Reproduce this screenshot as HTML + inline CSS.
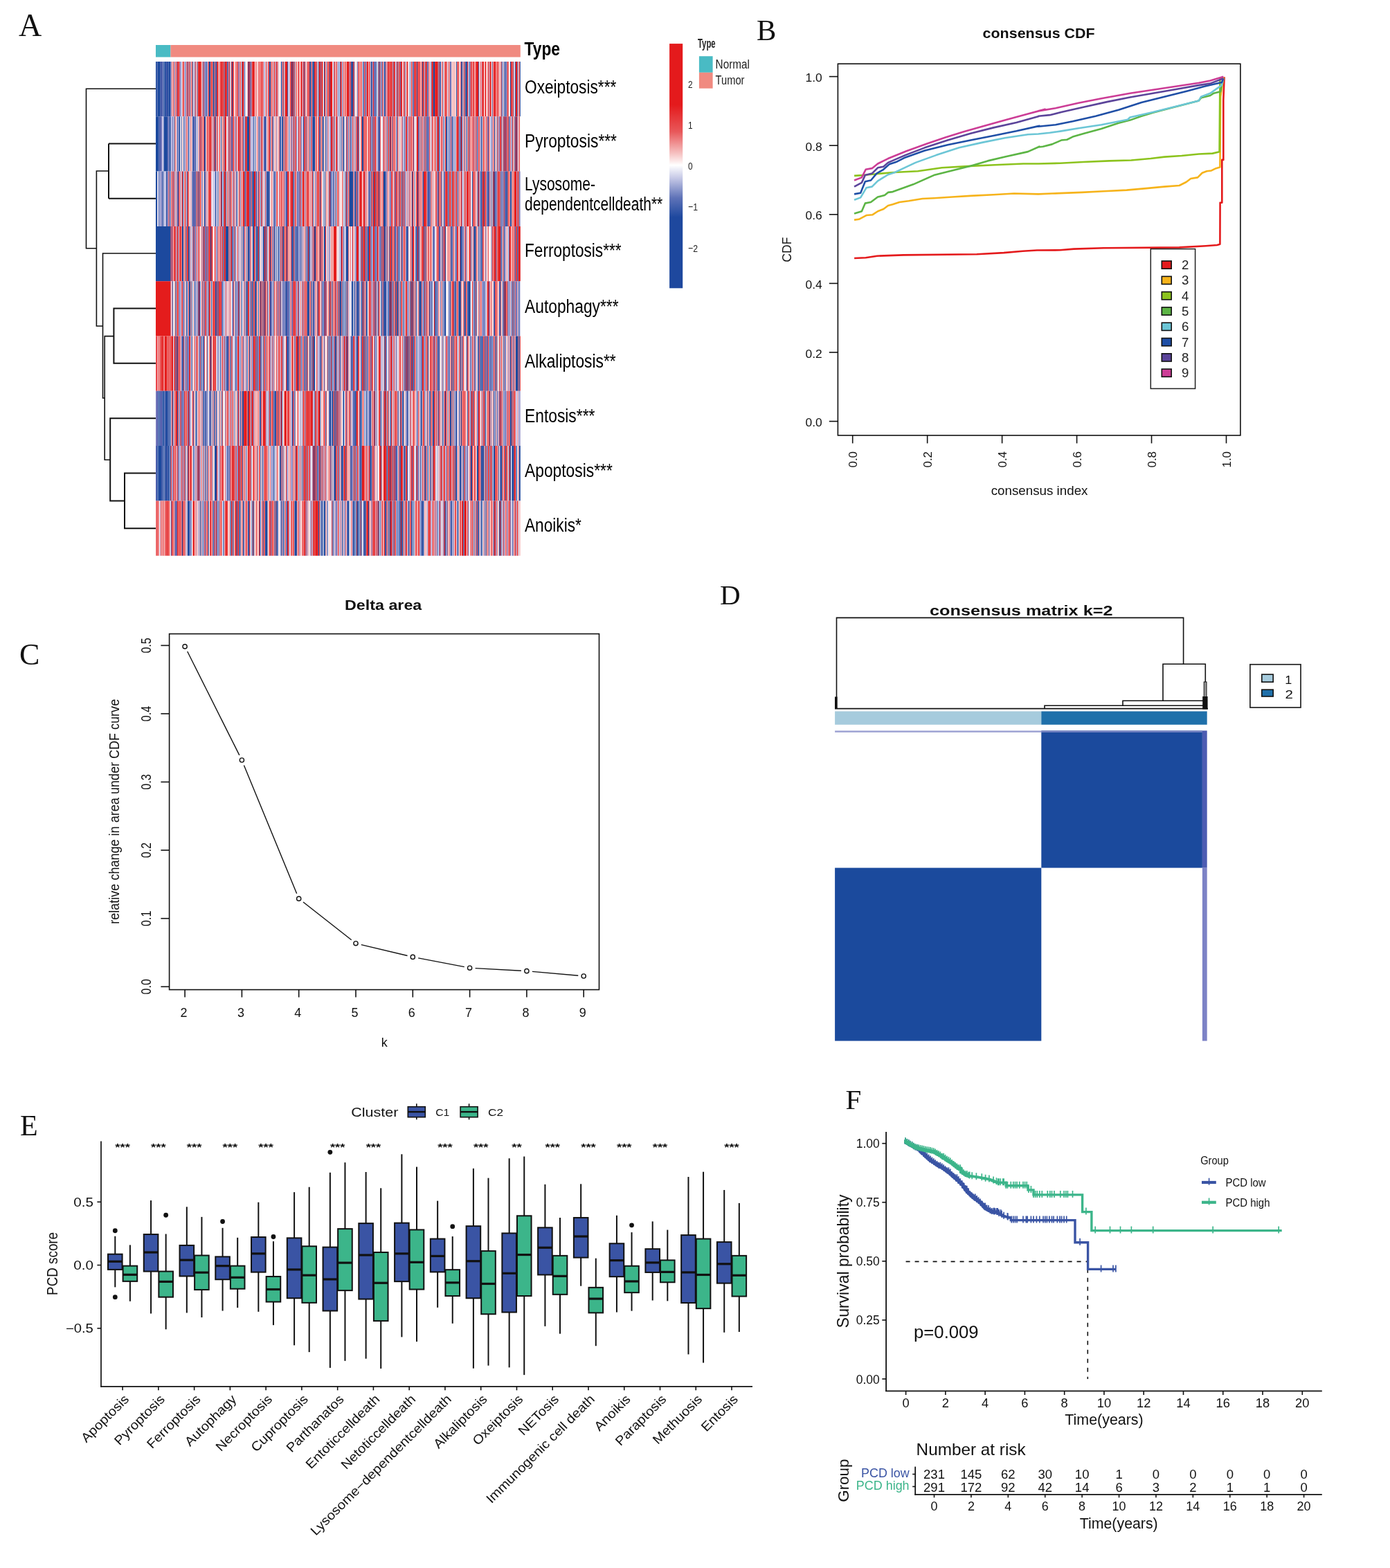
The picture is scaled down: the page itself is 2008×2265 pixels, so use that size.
<!DOCTYPE html><html><head><meta charset="utf-8"><title>Figure</title>
<style>html,body{margin:0;padding:0;background:#fff;}svg{display:block;}</style></head><body>
<svg width="2008" height="2265" viewBox="0 0 2008 2265" font-family="'Liberation Sans', Arial, sans-serif">
<rect width="2008" height="2265" fill="#fff"/>
<text x="27" y="52" font-size="46" fill="#111" font-family="'Liberation Serif', 'Times New Roman', serif">A</text>
<rect x="225" y="65" width="21.5" height="17.5" fill="#49bbc4" />
<rect x="246.5" y="65" width="505.3" height="17.5" fill="#f08a80" />
<defs><filter id="hb" x="-0.01" y="-0.01" width="1.02" height="1.02"><feGaussianBlur stdDeviation="0.75 0.3"/></filter></defs>
<g filter="url(#hb)">
<path d="M225 89h1.15v79.3h-1.15zM227.29 89h4.58v79.3h-4.58zM235.31 89h1.15v79.3h-1.15zM237.6 89h2.29v79.3h-2.29zM243.32 89h3.44v79.3h-3.44zM274.24 89h1.15v79.3h-1.15zM277.68 89h1.15v79.3h-1.15zM284.55 89h1.15v79.3h-1.15zM292.57 89h1.15v79.3h-1.15zM297.15 89h1.15v79.3h-1.15zM301.73 89h2.29v79.3h-2.29zM307.46 89h2.29v79.3h-2.29zM323.49 89h1.15v79.3h-1.15zM328.07 89h1.15v79.3h-1.15zM331.51 89h1.15v79.3h-1.15zM334.94 89h1.15v79.3h-1.15zM353.26 89h1.15v79.3h-1.15zM361.28 89h1.15v79.3h-1.15zM388.77 89h1.15v79.3h-1.15zM405.94 89h1.15v79.3h-1.15zM409.38 89h1.15v79.3h-1.15zM415.11 89h1.15v79.3h-1.15zM420.83 89h1.15v79.3h-1.15zM423.12 89h1.15v79.3h-1.15zM425.41 89h1.15v79.3h-1.15zM447.17 89h2.29v79.3h-2.29zM452.9 89h1.15v79.3h-1.15zM467.79 89h1.15v79.3h-1.15zM488.4 89h1.15v79.3h-1.15zM490.69 89h1.15v79.3h-1.15zM506.72 89h1.15v79.3h-1.15zM509.01 89h1.15v79.3h-1.15zM511.3 89h1.15v79.3h-1.15zM523.9 89h1.15v79.3h-1.15zM527.34 89h1.15v79.3h-1.15zM535.35 89h2.29v79.3h-2.29zM543.37 89h1.15v79.3h-1.15zM545.66 89h1.15v79.3h-1.15zM547.95 89h1.15v79.3h-1.15zM551.39 89h1.15v79.3h-1.15zM554.82 89h1.15v79.3h-1.15zM567.42 89h1.15v79.3h-1.15zM574.29 89h1.15v79.3h-1.15zM601.78 89h1.15v79.3h-1.15zM609.79 89h1.15v79.3h-1.15zM616.66 89h1.15v79.3h-1.15zM625.83 89h2.29v79.3h-2.29zM634.99 89h1.15v79.3h-1.15zM659.04 89h1.15v79.3h-1.15zM667.05 89h1.15v79.3h-1.15zM672.78 89h1.15v79.3h-1.15zM677.36 89h1.15v79.3h-1.15zM710.57 89h1.15v79.3h-1.15zM727.75 89h1.15v79.3h-1.15zM730.04 89h1.15v79.3h-1.15zM736.91 89h1.15v79.3h-1.15zM743.78 89h1.15v79.3h-1.15zM747.22 89h1.15v79.3h-1.15zM750.65 89h1.15v79.3h-1.15z" fill="#1e489e"/>
<path d="M226.15 89h1.15v79.3h-1.15zM233.02 89h1.15v79.3h-1.15zM236.45 89h1.15v79.3h-1.15zM241.03 89h2.29v79.3h-2.29zM312.04 89h1.15v79.3h-1.15zM358.99 89h1.15v79.3h-1.15zM389.91 89h1.15v79.3h-1.15zM439.16 89h1.15v79.3h-1.15zM451.75 89h1.15v79.3h-1.15zM459.77 89h1.15v79.3h-1.15zM475.8 89h1.15v79.3h-1.15zM507.87 89h1.15v79.3h-1.15zM591.47 89h1.15v79.3h-1.15zM671.63 89h1.15v79.3h-1.15zM673.93 89h1.15v79.3h-1.15zM691.1 89h1.15v79.3h-1.15zM724.31 89h1.15v79.3h-1.15z" fill="#2a4da1"/>
<path d="M231.87 89h1.15v79.3h-1.15zM234.16 89h1.15v79.3h-1.15zM260.5 89h1.15v79.3h-1.15zM270.81 89h1.15v79.3h-1.15zM281.12 89h1.15v79.3h-1.15zM310.89 89h1.15v79.3h-1.15zM362.43 89h1.15v79.3h-1.15zM481.53 89h1.15v79.3h-1.15zM542.23 89h1.15v79.3h-1.15zM597.2 89h1.15v79.3h-1.15zM636.13 89h1.15v79.3h-1.15zM639.57 89h1.15v79.3h-1.15zM649.88 89h1.15v79.3h-1.15zM678.51 89h1.15v79.3h-1.15z" fill="#5b62af"/>
<path d="M239.89 89h1.15v79.3h-1.15zM267.37 89h1.15v79.3h-1.15zM298.29 89h1.15v79.3h-1.15zM348.68 89h1.15v79.3h-1.15zM450.61 89h1.15v79.3h-1.15zM457.48 89h1.15v79.3h-1.15zM463.21 89h1.15v79.3h-1.15zM541.08 89h1.15v79.3h-1.15zM555.97 89h1.15v79.3h-1.15zM577.73 89h1.15v79.3h-1.15zM584.6 89h1.15v79.3h-1.15zM596.05 89h1.15v79.3h-1.15zM622.39 89h1.15v79.3h-1.15zM632.7 89h1.15v79.3h-1.15zM665.91 89h1.15v79.3h-1.15zM669.34 89h1.15v79.3h-1.15zM741.49 89h1.15v79.3h-1.15z" fill="#4257a8"/>
<path d="M246.76 89h1.15v79.3h-1.15zM266.23 89h1.15v79.3h-1.15zM268.52 89h1.15v79.3h-1.15zM296 89h1.15v79.3h-1.15zM299.44 89h1.15v79.3h-1.15zM345.25 89h1.15v79.3h-1.15zM352.12 89h1.15v79.3h-1.15zM380.75 89h1.15v79.3h-1.15zM394.49 89h1.15v79.3h-1.15zM397.93 89h1.15v79.3h-1.15zM401.36 89h1.15v79.3h-1.15zM407.09 89h1.15v79.3h-1.15zM525.05 89h1.15v79.3h-1.15zM558.26 89h1.15v79.3h-1.15zM572 89h1.15v79.3h-1.15zM728.9 89h1.15v79.3h-1.15z" fill="#a4a3d4"/>
<path d="M247.9 89h1.15v79.3h-1.15zM252.49 89h1.15v79.3h-1.15zM265.08 89h1.15v79.3h-1.15zM271.95 89h1.15v79.3h-1.15zM304.02 89h1.15v79.3h-1.15zM316.62 89h1.15v79.3h-1.15zM339.52 89h1.15v79.3h-1.15zM372.73 89h1.15v79.3h-1.15zM379.6 89h1.15v79.3h-1.15zM391.06 89h1.15v79.3h-1.15zM393.35 89h1.15v79.3h-1.15zM396.78 89h1.15v79.3h-1.15zM429.99 89h1.15v79.3h-1.15zM444.88 89h1.15v79.3h-1.15zM492.98 89h1.15v79.3h-1.15zM517.03 89h1.15v79.3h-1.15zM549.1 89h1.15v79.3h-1.15zM557.11 89h1.15v79.3h-1.15zM562.84 89h1.15v79.3h-1.15zM586.89 89h1.15v79.3h-1.15zM612.08 89h1.15v79.3h-1.15zM618.95 89h1.15v79.3h-1.15zM633.84 89h1.15v79.3h-1.15zM645.29 89h1.15v79.3h-1.15zM711.72 89h1.15v79.3h-1.15zM719.73 89h1.15v79.3h-1.15z" fill="#ed7a7c"/>
<path d="M249.05 89h1.15v79.3h-1.15zM262.79 89h1.15v79.3h-1.15zM279.97 89h1.15v79.3h-1.15zM283.41 89h1.15v79.3h-1.15zM347.54 89h1.15v79.3h-1.15zM375.02 89h1.15v79.3h-1.15zM383.04 89h1.15v79.3h-1.15zM402.51 89h1.15v79.3h-1.15zM404.8 89h1.15v79.3h-1.15zM410.53 89h1.15v79.3h-1.15zM433.43 89h1.15v79.3h-1.15zM458.62 89h1.15v79.3h-1.15zM470.08 89h1.15v79.3h-1.15zM495.27 89h1.15v79.3h-1.15zM499.85 89h1.15v79.3h-1.15zM512.45 89h1.15v79.3h-1.15zM514.74 89h1.15v79.3h-1.15zM531.92 89h1.15v79.3h-1.15zM585.74 89h1.15v79.3h-1.15zM589.18 89h1.15v79.3h-1.15zM607.5 89h1.15v79.3h-1.15zM637.28 89h1.15v79.3h-1.15zM652.17 89h2.29v79.3h-2.29zM655.6 89h1.15v79.3h-1.15zM685.38 89h1.15v79.3h-1.15zM709.43 89h1.15v79.3h-1.15zM716.3 89h1.15v79.3h-1.15zM726.61 89h1.15v79.3h-1.15zM734.62 89h1.15v79.3h-1.15zM748.36 89h1.15v79.3h-1.15z" fill="#f7caca"/>
<path d="M250.19 89h1.15v79.3h-1.15zM257.07 89h1.15v79.3h-1.15zM282.26 89h1.15v79.3h-1.15zM293.71 89h1.15v79.3h-1.15zM306.31 89h1.15v79.3h-1.15zM320.05 89h3.44v79.3h-3.44zM326.92 89h1.15v79.3h-1.15zM337.23 89h1.15v79.3h-1.15zM370.44 89h1.15v79.3h-1.15zM373.88 89h1.15v79.3h-1.15zM377.31 89h1.15v79.3h-1.15zM418.54 89h1.15v79.3h-1.15zM449.46 89h1.15v79.3h-1.15zM520.47 89h1.15v79.3h-1.15zM582.31 89h1.15v79.3h-1.15zM602.92 89h1.15v79.3h-1.15zM608.65 89h1.15v79.3h-1.15zM638.42 89h1.15v79.3h-1.15zM679.65 89h2.29v79.3h-2.29zM686.52 89h1.15v79.3h-1.15zM696.83 89h1.15v79.3h-1.15zM718.59 89h1.15v79.3h-1.15zM732.33 89h2.29v79.3h-2.29zM739.2 89h1.15v79.3h-1.15z" fill="#e74042"/>
<path d="M251.34 89h1.15v79.3h-1.15zM254.78 89h1.15v79.3h-1.15zM259.36 89h1.15v79.3h-1.15zM294.86 89h1.15v79.3h-1.15zM329.21 89h1.15v79.3h-1.15zM344.1 89h1.15v79.3h-1.15zM471.22 89h1.15v79.3h-1.15zM494.13 89h1.15v79.3h-1.15zM504.43 89h1.15v79.3h-1.15zM515.89 89h1.15v79.3h-1.15zM528.48 89h1.15v79.3h-1.15zM537.64 89h1.15v79.3h-1.15zM539.93 89h1.15v79.3h-1.15zM550.24 89h1.15v79.3h-1.15zM613.23 89h1.15v79.3h-1.15zM617.81 89h1.15v79.3h-1.15zM651.02 89h1.15v79.3h-1.15zM725.46 89h1.15v79.3h-1.15zM731.19 89h1.15v79.3h-1.15z" fill="#7c7dbf"/>
<path d="M253.63 89h1.15v79.3h-1.15zM273.1 89h1.15v79.3h-1.15zM290.28 89h1.15v79.3h-1.15zM309.75 89h1.15v79.3h-1.15zM317.76 89h1.15v79.3h-1.15zM367.01 89h1.15v79.3h-1.15zM386.48 89h1.15v79.3h-1.15zM392.2 89h1.15v79.3h-1.15zM400.22 89h1.15v79.3h-1.15zM472.37 89h2.29v79.3h-2.29zM546.81 89h1.15v79.3h-1.15zM566.27 89h1.15v79.3h-1.15zM575.44 89h1.15v79.3h-1.15zM604.07 89h1.15v79.3h-1.15zM606.36 89h1.15v79.3h-1.15zM641.86 89h2.29v79.3h-2.29zM660.18 89h1.15v79.3h-1.15zM662.47 89h1.15v79.3h-1.15zM664.76 89h1.15v79.3h-1.15zM712.86 89h1.15v79.3h-1.15z" fill="#e95759"/>
<path d="M255.92 89h1.15v79.3h-1.15zM258.21 89h1.15v79.3h-1.15zM269.66 89h1.15v79.3h-1.15zM276.53 89h1.15v79.3h-1.15zM285.7 89h1.15v79.3h-1.15zM287.99 89h2.29v79.3h-2.29zM300.58 89h1.15v79.3h-1.15zM305.17 89h1.15v79.3h-1.15zM313.18 89h2.29v79.3h-2.29zM318.91 89h1.15v79.3h-1.15zM324.63 89h2.29v79.3h-2.29zM330.36 89h1.15v79.3h-1.15zM333.8 89h1.15v79.3h-1.15zM336.09 89h1.15v79.3h-1.15zM342.96 89h1.15v79.3h-1.15zM346.39 89h1.15v79.3h-1.15zM349.83 89h2.29v79.3h-2.29zM357.85 89h1.15v79.3h-1.15zM360.14 89h1.15v79.3h-1.15zM364.72 89h2.29v79.3h-2.29zM378.46 89h1.15v79.3h-1.15zM384.19 89h1.15v79.3h-1.15zM387.62 89h1.15v79.3h-1.15zM399.07 89h1.15v79.3h-1.15zM408.23 89h1.15v79.3h-1.15zM411.67 89h3.44v79.3h-3.44zM419.69 89h1.15v79.3h-1.15zM421.98 89h1.15v79.3h-1.15zM427.7 89h1.15v79.3h-1.15zM431.14 89h1.15v79.3h-1.15zM434.57 89h2.29v79.3h-2.29zM438.01 89h1.15v79.3h-1.15zM440.3 89h1.15v79.3h-1.15zM454.04 89h1.15v79.3h-1.15zM456.33 89h1.15v79.3h-1.15zM462.06 89h1.15v79.3h-1.15zM464.35 89h2.29v79.3h-2.29zM468.93 89h1.15v79.3h-1.15zM474.66 89h1.15v79.3h-1.15zM476.95 89h3.44v79.3h-3.44zM482.67 89h1.15v79.3h-1.15zM486.11 89h1.15v79.3h-1.15zM491.84 89h1.15v79.3h-1.15zM496.42 89h1.15v79.3h-1.15zM498.71 89h1.15v79.3h-1.15zM501 89h3.44v79.3h-3.44zM505.58 89h1.15v79.3h-1.15zM510.16 89h1.15v79.3h-1.15zM518.18 89h1.15v79.3h-1.15zM521.61 89h1.15v79.3h-1.15zM526.19 89h1.15v79.3h-1.15zM529.63 89h2.29v79.3h-2.29zM533.06 89h1.15v79.3h-1.15zM538.79 89h1.15v79.3h-1.15zM559.4 89h1.15v79.3h-1.15zM563.98 89h1.15v79.3h-1.15zM568.57 89h2.29v79.3h-2.29zM573.15 89h1.15v79.3h-1.15zM576.58 89h1.15v79.3h-1.15zM580.02 89h1.15v79.3h-1.15zM583.45 89h1.15v79.3h-1.15zM588.03 89h1.15v79.3h-1.15zM593.76 89h1.15v79.3h-1.15zM598.34 89h2.29v79.3h-2.29zM605.21 89h1.15v79.3h-1.15zM610.94 89h1.15v79.3h-1.15zM614.37 89h2.29v79.3h-2.29zM623.54 89h2.29v79.3h-2.29zM628.12 89h4.58v79.3h-4.58zM647.59 89h1.15v79.3h-1.15zM661.33 89h1.15v79.3h-1.15zM675.07 89h1.15v79.3h-1.15zM683.09 89h1.15v79.3h-1.15zM687.67 89h3.44v79.3h-3.44zM695.68 89h1.15v79.3h-1.15zM697.97 89h1.15v79.3h-1.15zM700.27 89h2.29v79.3h-2.29zM704.85 89h1.15v79.3h-1.15zM707.14 89h2.29v79.3h-2.29zM714.01 89h2.29v79.3h-2.29zM717.44 89h1.15v79.3h-1.15zM738.06 89h1.15v79.3h-1.15zM740.35 89h1.15v79.3h-1.15zM744.93 89h2.29v79.3h-2.29z" fill="#e41a1c"/>
<path d="M261.65 89h1.15v79.3h-1.15zM278.83 89h1.15v79.3h-1.15zM356.7 89h1.15v79.3h-1.15zM381.89 89h1.15v79.3h-1.15zM385.33 89h1.15v79.3h-1.15zM416.25 89h2.29v79.3h-2.29zM436.87 89h1.15v79.3h-1.15zM441.45 89h1.15v79.3h-1.15zM487.25 89h1.15v79.3h-1.15zM489.55 89h1.15v79.3h-1.15zM553.68 89h1.15v79.3h-1.15zM570.86 89h1.15v79.3h-1.15zM592.61 89h1.15v79.3h-1.15zM621.25 89h1.15v79.3h-1.15zM646.44 89h1.15v79.3h-1.15zM676.22 89h1.15v79.3h-1.15zM694.54 89h1.15v79.3h-1.15zM705.99 89h1.15v79.3h-1.15z" fill="#cbc9e8"/>
<path d="M263.94 89h1.15v79.3h-1.15zM286.84 89h1.15v79.3h-1.15zM340.67 89h1.15v79.3h-1.15zM363.57 89h1.15v79.3h-1.15zM376.17 89h1.15v79.3h-1.15zM395.64 89h1.15v79.3h-1.15zM424.27 89h1.15v79.3h-1.15zM443.74 89h1.15v79.3h-1.15zM446.03 89h1.15v79.3h-1.15zM455.19 89h1.15v79.3h-1.15zM460.91 89h1.15v79.3h-1.15zM552.53 89h1.15v79.3h-1.15zM560.55 89h2.29v79.3h-2.29zM565.13 89h1.15v79.3h-1.15zM578.87 89h1.15v79.3h-1.15zM600.63 89h1.15v79.3h-1.15zM644.15 89h1.15v79.3h-1.15zM670.49 89h1.15v79.3h-1.15zM684.23 89h1.15v79.3h-1.15zM693.39 89h1.15v79.3h-1.15zM723.17 89h1.15v79.3h-1.15zM749.51 89h1.15v79.3h-1.15z" fill="#e52a2c"/>
<path d="M275.39 89h1.15v79.3h-1.15zM291.42 89h1.15v79.3h-1.15zM315.47 89h1.15v79.3h-1.15zM341.81 89h1.15v79.3h-1.15zM368.15 89h2.29v79.3h-2.29zM426.56 89h1.15v79.3h-1.15zM432.28 89h1.15v79.3h-1.15zM442.59 89h1.15v79.3h-1.15zM483.82 89h2.29v79.3h-2.29zM497.56 89h1.15v79.3h-1.15zM519.32 89h1.15v79.3h-1.15zM534.21 89h1.15v79.3h-1.15zM594.91 89h1.15v79.3h-1.15zM620.1 89h1.15v79.3h-1.15zM648.73 89h1.15v79.3h-1.15zM654.46 89h1.15v79.3h-1.15zM656.75 89h1.15v79.3h-1.15zM668.2 89h1.15v79.3h-1.15zM681.94 89h1.15v79.3h-1.15zM703.7 89h1.15v79.3h-1.15zM720.88 89h1.15v79.3h-1.15z" fill="#f2a3a4"/>
<path d="M332.65 89h1.15v79.3h-1.15zM338.38 89h1.15v79.3h-1.15zM354.41 89h2.29v79.3h-2.29zM371.59 89h1.15v79.3h-1.15zM403.65 89h1.15v79.3h-1.15zM428.85 89h1.15v79.3h-1.15zM466.64 89h1.15v79.3h-1.15zM480.38 89h1.15v79.3h-1.15zM513.59 89h1.15v79.3h-1.15zM522.76 89h1.15v79.3h-1.15zM544.52 89h1.15v79.3h-1.15zM581.16 89h1.15v79.3h-1.15zM590.32 89h1.15v79.3h-1.15zM640.71 89h1.15v79.3h-1.15zM657.89 89h1.15v79.3h-1.15zM663.62 89h1.15v79.3h-1.15zM692.25 89h1.15v79.3h-1.15zM699.12 89h1.15v79.3h-1.15zM702.56 89h1.15v79.3h-1.15zM722.02 89h1.15v79.3h-1.15zM735.77 89h1.15v79.3h-1.15zM742.64 89h1.15v79.3h-1.15z" fill="#fcf2f2"/>
<path d="M225 168.3h4.58v79.3h-4.58zM236.45 168.3h4.58v79.3h-4.58zM244.47 168.3h2.29v79.3h-2.29zM258.21 168.3h2.29v79.3h-2.29zM261.65 168.3h1.15v79.3h-1.15zM265.08 168.3h1.15v79.3h-1.15zM278.83 168.3h1.15v79.3h-1.15zM282.26 168.3h1.15v79.3h-1.15zM294.86 168.3h1.15v79.3h-1.15zM308.6 168.3h1.15v79.3h-1.15zM310.89 168.3h1.15v79.3h-1.15zM353.26 168.3h1.15v79.3h-1.15zM356.7 168.3h3.44v79.3h-3.44zM365.86 168.3h1.15v79.3h-1.15zM368.15 168.3h1.15v79.3h-1.15zM373.88 168.3h1.15v79.3h-1.15zM383.04 168.3h1.15v79.3h-1.15zM393.35 168.3h1.15v79.3h-1.15zM403.65 168.3h1.15v79.3h-1.15zM407.09 168.3h2.29v79.3h-2.29zM417.4 168.3h1.15v79.3h-1.15zM438.01 168.3h1.15v79.3h-1.15zM441.45 168.3h1.15v79.3h-1.15zM447.17 168.3h1.15v79.3h-1.15zM451.75 168.3h3.44v79.3h-3.44zM465.5 168.3h2.29v79.3h-2.29zM470.08 168.3h1.15v79.3h-1.15zM490.69 168.3h1.15v79.3h-1.15zM495.27 168.3h2.29v79.3h-2.29zM505.58 168.3h1.15v79.3h-1.15zM522.76 168.3h2.29v79.3h-2.29zM535.35 168.3h1.15v79.3h-1.15zM537.64 168.3h1.15v79.3h-1.15zM559.4 168.3h1.15v79.3h-1.15zM562.84 168.3h1.15v79.3h-1.15zM566.27 168.3h1.15v79.3h-1.15zM573.15 168.3h1.15v79.3h-1.15zM583.45 168.3h1.15v79.3h-1.15zM607.5 168.3h1.15v79.3h-1.15zM613.23 168.3h1.15v79.3h-1.15zM615.52 168.3h1.15v79.3h-1.15zM630.41 168.3h1.15v79.3h-1.15zM633.84 168.3h1.15v79.3h-1.15zM640.71 168.3h1.15v79.3h-1.15zM644.15 168.3h2.29v79.3h-2.29zM647.59 168.3h1.15v79.3h-1.15zM664.76 168.3h1.15v79.3h-1.15zM670.49 168.3h1.15v79.3h-1.15zM673.93 168.3h1.15v79.3h-1.15zM677.36 168.3h1.15v79.3h-1.15zM694.54 168.3h1.15v79.3h-1.15zM714.01 168.3h1.15v79.3h-1.15zM717.44 168.3h1.15v79.3h-1.15zM734.62 168.3h1.15v79.3h-1.15zM742.64 168.3h1.15v79.3h-1.15zM744.93 168.3h1.15v79.3h-1.15z" fill="#1e489e"/>
<path d="M229.58 168.3h2.29v79.3h-2.29zM242.18 168.3h1.15v79.3h-1.15zM255.92 168.3h1.15v79.3h-1.15zM277.68 168.3h1.15v79.3h-1.15zM281.12 168.3h1.15v79.3h-1.15zM331.51 168.3h1.15v79.3h-1.15zM334.94 168.3h1.15v79.3h-1.15zM339.52 168.3h1.15v79.3h-1.15zM350.97 168.3h1.15v79.3h-1.15zM381.89 168.3h1.15v79.3h-1.15zM389.91 168.3h1.15v79.3h-1.15zM410.53 168.3h1.15v79.3h-1.15zM434.57 168.3h1.15v79.3h-1.15zM462.06 168.3h1.15v79.3h-1.15zM492.98 168.3h1.15v79.3h-1.15zM503.29 168.3h1.15v79.3h-1.15zM506.72 168.3h1.15v79.3h-1.15zM512.45 168.3h1.15v79.3h-1.15zM515.89 168.3h1.15v79.3h-1.15zM518.18 168.3h1.15v79.3h-1.15zM547.95 168.3h1.15v79.3h-1.15zM597.2 168.3h1.15v79.3h-1.15zM604.07 168.3h1.15v79.3h-1.15zM616.66 168.3h1.15v79.3h-1.15zM652.17 168.3h1.15v79.3h-1.15zM656.75 168.3h1.15v79.3h-1.15zM667.05 168.3h1.15v79.3h-1.15zM724.31 168.3h1.15v79.3h-1.15zM731.19 168.3h1.15v79.3h-1.15zM739.2 168.3h1.15v79.3h-1.15z" fill="#4257a8"/>
<path d="M231.87 168.3h1.15v79.3h-1.15zM243.32 168.3h1.15v79.3h-1.15zM284.55 168.3h1.15v79.3h-1.15zM333.8 168.3h1.15v79.3h-1.15zM346.39 168.3h1.15v79.3h-1.15zM361.28 168.3h1.15v79.3h-1.15zM376.17 168.3h1.15v79.3h-1.15zM380.75 168.3h1.15v79.3h-1.15zM394.49 168.3h1.15v79.3h-1.15zM420.83 168.3h1.15v79.3h-1.15zM427.7 168.3h1.15v79.3h-1.15zM450.61 168.3h1.15v79.3h-1.15zM460.91 168.3h1.15v79.3h-1.15zM472.37 168.3h1.15v79.3h-1.15zM499.85 168.3h1.15v79.3h-1.15zM545.66 168.3h1.15v79.3h-1.15zM605.21 168.3h1.15v79.3h-1.15zM617.81 168.3h1.15v79.3h-1.15zM704.85 168.3h1.15v79.3h-1.15zM709.43 168.3h1.15v79.3h-1.15zM728.9 168.3h1.15v79.3h-1.15zM747.22 168.3h1.15v79.3h-1.15z" fill="#5b62af"/>
<path d="M233.02 168.3h1.15v79.3h-1.15zM249.05 168.3h1.15v79.3h-1.15zM267.37 168.3h1.15v79.3h-1.15zM279.97 168.3h1.15v79.3h-1.15zM287.99 168.3h1.15v79.3h-1.15zM290.28 168.3h1.15v79.3h-1.15zM329.21 168.3h1.15v79.3h-1.15zM363.57 168.3h1.15v79.3h-1.15zM384.19 168.3h1.15v79.3h-1.15zM476.95 168.3h1.15v79.3h-1.15zM480.38 168.3h1.15v79.3h-1.15zM487.25 168.3h1.15v79.3h-1.15zM536.5 168.3h1.15v79.3h-1.15zM539.93 168.3h1.15v79.3h-1.15zM581.16 168.3h1.15v79.3h-1.15zM584.6 168.3h1.15v79.3h-1.15zM588.03 168.3h1.15v79.3h-1.15zM591.47 168.3h1.15v79.3h-1.15zM618.95 168.3h1.15v79.3h-1.15zM622.39 168.3h1.15v79.3h-1.15zM649.88 168.3h1.15v79.3h-1.15zM654.46 168.3h1.15v79.3h-1.15zM663.62 168.3h1.15v79.3h-1.15zM686.52 168.3h1.15v79.3h-1.15zM703.7 168.3h1.15v79.3h-1.15zM720.88 168.3h1.15v79.3h-1.15zM735.77 168.3h1.15v79.3h-1.15z" fill="#7c7dbf"/>
<path d="M234.16 168.3h1.15v79.3h-1.15zM246.76 168.3h1.15v79.3h-1.15zM250.19 168.3h1.15v79.3h-1.15zM254.78 168.3h1.15v79.3h-1.15zM270.81 168.3h1.15v79.3h-1.15zM273.1 168.3h2.29v79.3h-2.29zM283.41 168.3h1.15v79.3h-1.15zM338.38 168.3h1.15v79.3h-1.15zM341.81 168.3h1.15v79.3h-1.15zM352.12 168.3h1.15v79.3h-1.15zM362.43 168.3h1.15v79.3h-1.15zM364.72 168.3h1.15v79.3h-1.15zM369.3 168.3h1.15v79.3h-1.15zM379.6 168.3h1.15v79.3h-1.15zM405.94 168.3h1.15v79.3h-1.15zM416.25 168.3h1.15v79.3h-1.15zM418.54 168.3h1.15v79.3h-1.15zM421.98 168.3h1.15v79.3h-1.15zM435.72 168.3h2.29v79.3h-2.29zM443.74 168.3h1.15v79.3h-1.15zM474.66 168.3h2.29v79.3h-2.29zM488.4 168.3h1.15v79.3h-1.15zM507.87 168.3h1.15v79.3h-1.15zM543.37 168.3h1.15v79.3h-1.15zM555.97 168.3h1.15v79.3h-1.15zM582.31 168.3h1.15v79.3h-1.15zM589.18 168.3h1.15v79.3h-1.15zM599.49 168.3h1.15v79.3h-1.15zM634.99 168.3h1.15v79.3h-1.15zM646.44 168.3h1.15v79.3h-1.15zM655.6 168.3h1.15v79.3h-1.15zM668.2 168.3h1.15v79.3h-1.15zM672.78 168.3h1.15v79.3h-1.15zM689.96 168.3h1.15v79.3h-1.15zM701.41 168.3h1.15v79.3h-1.15zM738.06 168.3h1.15v79.3h-1.15z" fill="#cbc9e8"/>
<path d="M235.31 168.3h1.15v79.3h-1.15zM247.9 168.3h1.15v79.3h-1.15zM257.07 168.3h1.15v79.3h-1.15zM266.23 168.3h1.15v79.3h-1.15zM306.31 168.3h1.15v79.3h-1.15zM314.33 168.3h1.15v79.3h-1.15zM372.73 168.3h1.15v79.3h-1.15zM399.07 168.3h1.15v79.3h-1.15zM429.99 168.3h1.15v79.3h-1.15zM448.32 168.3h1.15v79.3h-1.15zM471.22 168.3h1.15v79.3h-1.15zM502.14 168.3h1.15v79.3h-1.15zM510.16 168.3h1.15v79.3h-1.15zM544.52 168.3h1.15v79.3h-1.15zM552.53 168.3h1.15v79.3h-1.15zM558.26 168.3h1.15v79.3h-1.15zM572 168.3h1.15v79.3h-1.15zM576.58 168.3h1.15v79.3h-1.15zM610.94 168.3h1.15v79.3h-1.15zM639.57 168.3h1.15v79.3h-1.15zM648.73 168.3h1.15v79.3h-1.15zM684.23 168.3h1.15v79.3h-1.15zM693.39 168.3h1.15v79.3h-1.15zM708.28 168.3h1.15v79.3h-1.15zM710.57 168.3h1.15v79.3h-1.15zM719.73 168.3h1.15v79.3h-1.15z" fill="#a4a3d4"/>
<path d="M241.03 168.3h1.15v79.3h-1.15zM251.34 168.3h1.15v79.3h-1.15zM271.95 168.3h1.15v79.3h-1.15zM296 168.3h1.15v79.3h-1.15zM318.91 168.3h1.15v79.3h-1.15zM323.49 168.3h1.15v79.3h-1.15zM404.8 168.3h1.15v79.3h-1.15zM424.27 168.3h1.15v79.3h-1.15zM482.67 168.3h1.15v79.3h-1.15zM546.81 168.3h1.15v79.3h-1.15zM653.31 168.3h1.15v79.3h-1.15zM662.47 168.3h1.15v79.3h-1.15zM688.81 168.3h1.15v79.3h-1.15zM695.68 168.3h1.15v79.3h-1.15zM726.61 168.3h1.15v79.3h-1.15z" fill="#2a4da1"/>
<path d="M252.49 168.3h1.15v79.3h-1.15zM269.66 168.3h1.15v79.3h-1.15zM275.39 168.3h1.15v79.3h-1.15zM298.29 168.3h1.15v79.3h-1.15zM322.34 168.3h1.15v79.3h-1.15zM332.65 168.3h1.15v79.3h-1.15zM336.09 168.3h1.15v79.3h-1.15zM409.38 168.3h1.15v79.3h-1.15zM411.67 168.3h1.15v79.3h-1.15zM425.41 168.3h1.15v79.3h-1.15zM525.05 168.3h1.15v79.3h-1.15zM527.34 168.3h1.15v79.3h-1.15zM549.1 168.3h1.15v79.3h-1.15zM557.11 168.3h1.15v79.3h-1.15zM580.02 168.3h1.15v79.3h-1.15zM585.74 168.3h1.15v79.3h-1.15zM592.61 168.3h1.15v79.3h-1.15zM638.42 168.3h1.15v79.3h-1.15zM687.67 168.3h1.15v79.3h-1.15zM711.72 168.3h1.15v79.3h-1.15z" fill="#e95759"/>
<path d="M253.63 168.3h1.15v79.3h-1.15zM300.58 168.3h1.15v79.3h-1.15zM342.96 168.3h1.15v79.3h-1.15zM370.44 168.3h1.15v79.3h-1.15zM397.93 168.3h1.15v79.3h-1.15zM400.22 168.3h1.15v79.3h-1.15zM413.96 168.3h1.15v79.3h-1.15zM432.28 168.3h1.15v79.3h-1.15zM446.03 168.3h1.15v79.3h-1.15zM455.19 168.3h1.15v79.3h-1.15zM457.48 168.3h1.15v79.3h-1.15zM494.13 168.3h1.15v79.3h-1.15zM511.3 168.3h1.15v79.3h-1.15zM513.59 168.3h1.15v79.3h-1.15zM533.06 168.3h1.15v79.3h-1.15zM565.13 168.3h1.15v79.3h-1.15zM568.57 168.3h1.15v79.3h-1.15zM577.73 168.3h1.15v79.3h-1.15zM626.97 168.3h1.15v79.3h-1.15zM636.13 168.3h1.15v79.3h-1.15zM681.94 168.3h1.15v79.3h-1.15zM699.12 168.3h1.15v79.3h-1.15zM712.86 168.3h1.15v79.3h-1.15zM715.15 168.3h1.15v79.3h-1.15zM725.46 168.3h1.15v79.3h-1.15z" fill="#f2a3a4"/>
<path d="M260.5 168.3h1.15v79.3h-1.15zM263.94 168.3h1.15v79.3h-1.15zM285.7 168.3h1.15v79.3h-1.15zM292.57 168.3h1.15v79.3h-1.15zM315.47 168.3h1.15v79.3h-1.15zM317.76 168.3h1.15v79.3h-1.15zM326.92 168.3h1.15v79.3h-1.15zM348.68 168.3h1.15v79.3h-1.15zM367.01 168.3h1.15v79.3h-1.15zM391.06 168.3h1.15v79.3h-1.15zM401.36 168.3h1.15v79.3h-1.15zM428.85 168.3h1.15v79.3h-1.15zM483.82 168.3h1.15v79.3h-1.15zM491.84 168.3h1.15v79.3h-1.15zM497.56 168.3h1.15v79.3h-1.15zM519.32 168.3h1.15v79.3h-1.15zM550.24 168.3h2.29v79.3h-2.29zM575.44 168.3h1.15v79.3h-1.15zM578.87 168.3h1.15v79.3h-1.15zM594.91 168.3h1.15v79.3h-1.15zM600.63 168.3h1.15v79.3h-1.15zM621.25 168.3h1.15v79.3h-1.15zM625.83 168.3h1.15v79.3h-1.15zM641.86 168.3h1.15v79.3h-1.15zM657.89 168.3h1.15v79.3h-1.15zM707.14 168.3h1.15v79.3h-1.15zM741.49 168.3h1.15v79.3h-1.15zM748.36 168.3h1.15v79.3h-1.15zM750.65 168.3h1.15v79.3h-1.15z" fill="#fcf2f2"/>
<path d="M262.79 168.3h1.15v79.3h-1.15zM276.53 168.3h1.15v79.3h-1.15zM297.15 168.3h1.15v79.3h-1.15zM312.04 168.3h1.15v79.3h-1.15zM320.05 168.3h1.15v79.3h-1.15zM328.07 168.3h1.15v79.3h-1.15zM375.02 168.3h1.15v79.3h-1.15zM385.33 168.3h1.15v79.3h-1.15zM395.64 168.3h2.29v79.3h-2.29zM458.62 168.3h1.15v79.3h-1.15zM467.79 168.3h2.29v79.3h-2.29zM489.55 168.3h1.15v79.3h-1.15zM498.71 168.3h1.15v79.3h-1.15zM520.47 168.3h1.15v79.3h-1.15zM529.63 168.3h2.29v79.3h-2.29zM570.86 168.3h1.15v79.3h-1.15zM598.34 168.3h1.15v79.3h-1.15zM629.26 168.3h1.15v79.3h-1.15zM675.07 168.3h1.15v79.3h-1.15zM679.65 168.3h1.15v79.3h-1.15zM696.83 168.3h1.15v79.3h-1.15zM716.3 168.3h1.15v79.3h-1.15z" fill="#f7caca"/>
<path d="M268.52 168.3h1.15v79.3h-1.15zM286.84 168.3h1.15v79.3h-1.15zM305.17 168.3h1.15v79.3h-1.15zM307.46 168.3h1.15v79.3h-1.15zM321.2 168.3h1.15v79.3h-1.15zM371.59 168.3h1.15v79.3h-1.15zM386.48 168.3h2.29v79.3h-2.29zM415.11 168.3h1.15v79.3h-1.15zM419.69 168.3h1.15v79.3h-1.15zM444.88 168.3h1.15v79.3h-1.15zM463.21 168.3h2.29v79.3h-2.29zM473.51 168.3h1.15v79.3h-1.15zM504.43 168.3h1.15v79.3h-1.15zM554.82 168.3h1.15v79.3h-1.15zM561.69 168.3h1.15v79.3h-1.15zM606.36 168.3h1.15v79.3h-1.15zM608.65 168.3h2.29v79.3h-2.29zM612.08 168.3h1.15v79.3h-1.15zM623.54 168.3h1.15v79.3h-1.15zM651.02 168.3h1.15v79.3h-1.15zM669.34 168.3h1.15v79.3h-1.15zM671.63 168.3h1.15v79.3h-1.15zM680.8 168.3h1.15v79.3h-1.15zM692.25 168.3h1.15v79.3h-1.15zM700.27 168.3h1.15v79.3h-1.15zM736.91 168.3h1.15v79.3h-1.15z" fill="#ed7a7c"/>
<path d="M289.13 168.3h1.15v79.3h-1.15zM291.42 168.3h1.15v79.3h-1.15zM293.71 168.3h1.15v79.3h-1.15zM299.44 168.3h1.15v79.3h-1.15zM301.73 168.3h1.15v79.3h-1.15zM309.75 168.3h1.15v79.3h-1.15zM313.18 168.3h1.15v79.3h-1.15zM316.62 168.3h1.15v79.3h-1.15zM324.63 168.3h2.29v79.3h-2.29zM330.36 168.3h1.15v79.3h-1.15zM337.23 168.3h1.15v79.3h-1.15zM344.1 168.3h2.29v79.3h-2.29zM347.54 168.3h1.15v79.3h-1.15zM354.41 168.3h2.29v79.3h-2.29zM360.14 168.3h1.15v79.3h-1.15zM377.31 168.3h1.15v79.3h-1.15zM388.77 168.3h1.15v79.3h-1.15zM392.2 168.3h1.15v79.3h-1.15zM426.56 168.3h1.15v79.3h-1.15zM431.14 168.3h1.15v79.3h-1.15zM439.16 168.3h1.15v79.3h-1.15zM449.46 168.3h1.15v79.3h-1.15zM456.33 168.3h1.15v79.3h-1.15zM459.77 168.3h1.15v79.3h-1.15zM478.09 168.3h2.29v79.3h-2.29zM486.11 168.3h1.15v79.3h-1.15zM514.74 168.3h1.15v79.3h-1.15zM517.03 168.3h1.15v79.3h-1.15zM528.48 168.3h1.15v79.3h-1.15zM534.21 168.3h1.15v79.3h-1.15zM542.23 168.3h1.15v79.3h-1.15zM560.55 168.3h1.15v79.3h-1.15zM563.98 168.3h1.15v79.3h-1.15zM567.42 168.3h1.15v79.3h-1.15zM586.89 168.3h1.15v79.3h-1.15zM590.32 168.3h1.15v79.3h-1.15zM593.76 168.3h1.15v79.3h-1.15zM596.05 168.3h1.15v79.3h-1.15zM601.78 168.3h2.29v79.3h-2.29zM624.68 168.3h1.15v79.3h-1.15zM628.12 168.3h1.15v79.3h-1.15zM631.55 168.3h2.29v79.3h-2.29zM660.18 168.3h2.29v79.3h-2.29zM665.91 168.3h1.15v79.3h-1.15zM676.22 168.3h1.15v79.3h-1.15zM683.09 168.3h1.15v79.3h-1.15zM691.1 168.3h1.15v79.3h-1.15zM702.56 168.3h1.15v79.3h-1.15zM723.17 168.3h1.15v79.3h-1.15zM727.75 168.3h1.15v79.3h-1.15zM730.04 168.3h1.15v79.3h-1.15zM733.48 168.3h1.15v79.3h-1.15zM740.35 168.3h1.15v79.3h-1.15zM746.07 168.3h1.15v79.3h-1.15zM749.51 168.3h1.15v79.3h-1.15z" fill="#e41a1c"/>
<path d="M302.87 168.3h1.15v79.3h-1.15zM340.67 168.3h1.15v79.3h-1.15zM349.83 168.3h1.15v79.3h-1.15zM378.46 168.3h1.15v79.3h-1.15zM402.51 168.3h1.15v79.3h-1.15zM412.82 168.3h1.15v79.3h-1.15zM423.12 168.3h1.15v79.3h-1.15zM442.59 168.3h1.15v79.3h-1.15zM481.53 168.3h1.15v79.3h-1.15zM484.96 168.3h1.15v79.3h-1.15zM501 168.3h1.15v79.3h-1.15zM509.01 168.3h1.15v79.3h-1.15zM526.19 168.3h1.15v79.3h-1.15zM538.79 168.3h1.15v79.3h-1.15zM614.37 168.3h1.15v79.3h-1.15zM620.1 168.3h1.15v79.3h-1.15zM659.04 168.3h1.15v79.3h-1.15zM678.51 168.3h1.15v79.3h-1.15zM685.38 168.3h1.15v79.3h-1.15zM705.99 168.3h1.15v79.3h-1.15zM718.59 168.3h1.15v79.3h-1.15zM722.02 168.3h1.15v79.3h-1.15zM732.33 168.3h1.15v79.3h-1.15zM743.78 168.3h1.15v79.3h-1.15z" fill="#e74042"/>
<path d="M304.02 168.3h1.15v79.3h-1.15zM433.43 168.3h1.15v79.3h-1.15zM440.3 168.3h1.15v79.3h-1.15zM521.61 168.3h1.15v79.3h-1.15zM531.92 168.3h1.15v79.3h-1.15zM541.08 168.3h1.15v79.3h-1.15zM553.68 168.3h1.15v79.3h-1.15zM569.71 168.3h1.15v79.3h-1.15zM574.29 168.3h1.15v79.3h-1.15zM637.28 168.3h1.15v79.3h-1.15zM643 168.3h1.15v79.3h-1.15zM697.97 168.3h1.15v79.3h-1.15z" fill="#e52a2c"/>
<path d="M225 247.6h2.29v79.3h-2.29zM234.16 247.6h1.15v79.3h-1.15zM239.89 247.6h1.15v79.3h-1.15zM244.47 247.6h1.15v79.3h-1.15zM257.07 247.6h1.15v79.3h-1.15zM269.66 247.6h1.15v79.3h-1.15zM282.26 247.6h1.15v79.3h-1.15zM284.55 247.6h1.15v79.3h-1.15zM294.86 247.6h1.15v79.3h-1.15zM310.89 247.6h1.15v79.3h-1.15zM320.05 247.6h1.15v79.3h-1.15zM322.34 247.6h1.15v79.3h-1.15zM325.78 247.6h1.15v79.3h-1.15zM331.51 247.6h1.15v79.3h-1.15zM341.81 247.6h1.15v79.3h-1.15zM354.41 247.6h1.15v79.3h-1.15zM364.72 247.6h1.15v79.3h-1.15zM376.17 247.6h1.15v79.3h-1.15zM385.33 247.6h3.44v79.3h-3.44zM396.78 247.6h1.15v79.3h-1.15zM423.12 247.6h1.15v79.3h-1.15zM451.75 247.6h1.15v79.3h-1.15zM462.06 247.6h1.15v79.3h-1.15zM466.64 247.6h1.15v79.3h-1.15zM468.93 247.6h1.15v79.3h-1.15zM478.09 247.6h1.15v79.3h-1.15zM484.96 247.6h1.15v79.3h-1.15zM496.42 247.6h1.15v79.3h-1.15zM504.43 247.6h5.73v79.3h-5.73zM512.45 247.6h2.29v79.3h-2.29zM533.06 247.6h1.15v79.3h-1.15zM535.35 247.6h1.15v79.3h-1.15zM538.79 247.6h1.15v79.3h-1.15zM542.23 247.6h1.15v79.3h-1.15zM546.81 247.6h1.15v79.3h-1.15zM553.68 247.6h3.44v79.3h-3.44zM576.58 247.6h1.15v79.3h-1.15zM580.02 247.6h1.15v79.3h-1.15zM594.91 247.6h1.15v79.3h-1.15zM598.34 247.6h1.15v79.3h-1.15zM602.92 247.6h1.15v79.3h-1.15zM610.94 247.6h1.15v79.3h-1.15zM617.81 247.6h1.15v79.3h-1.15zM632.7 247.6h1.15v79.3h-1.15zM637.28 247.6h1.15v79.3h-1.15zM640.71 247.6h1.15v79.3h-1.15zM647.59 247.6h1.15v79.3h-1.15zM652.17 247.6h1.15v79.3h-1.15zM661.33 247.6h1.15v79.3h-1.15zM681.94 247.6h1.15v79.3h-1.15zM689.96 247.6h1.15v79.3h-1.15zM693.39 247.6h1.15v79.3h-1.15zM699.12 247.6h1.15v79.3h-1.15zM703.7 247.6h1.15v79.3h-1.15zM709.43 247.6h1.15v79.3h-1.15zM711.72 247.6h1.15v79.3h-1.15zM714.01 247.6h1.15v79.3h-1.15zM723.17 247.6h1.15v79.3h-1.15zM731.19 247.6h2.29v79.3h-2.29zM738.06 247.6h1.15v79.3h-1.15zM749.51 247.6h1.15v79.3h-1.15z" fill="#1e489e"/>
<path d="M227.29 247.6h1.15v79.3h-1.15zM265.08 247.6h1.15v79.3h-1.15zM306.31 247.6h1.15v79.3h-1.15zM313.18 247.6h1.15v79.3h-1.15zM315.47 247.6h1.15v79.3h-1.15zM342.96 247.6h1.15v79.3h-1.15zM347.54 247.6h1.15v79.3h-1.15zM375.02 247.6h1.15v79.3h-1.15zM380.75 247.6h1.15v79.3h-1.15zM389.91 247.6h1.15v79.3h-1.15zM401.36 247.6h1.15v79.3h-1.15zM452.9 247.6h1.15v79.3h-1.15zM465.5 247.6h1.15v79.3h-1.15zM467.79 247.6h1.15v79.3h-1.15zM486.11 247.6h1.15v79.3h-1.15zM491.84 247.6h2.29v79.3h-2.29zM495.27 247.6h1.15v79.3h-1.15zM497.56 247.6h1.15v79.3h-1.15zM607.5 247.6h1.15v79.3h-1.15zM626.97 247.6h1.15v79.3h-1.15zM668.2 247.6h1.15v79.3h-1.15zM680.8 247.6h1.15v79.3h-1.15z" fill="#fcf2f2"/>
<path d="M228.44 247.6h1.15v79.3h-1.15zM233.02 247.6h1.15v79.3h-1.15zM237.6 247.6h1.15v79.3h-1.15zM249.05 247.6h1.15v79.3h-1.15zM268.52 247.6h1.15v79.3h-1.15zM276.53 247.6h1.15v79.3h-1.15zM308.6 247.6h1.15v79.3h-1.15zM312.04 247.6h1.15v79.3h-1.15zM329.21 247.6h1.15v79.3h-1.15zM381.89 247.6h1.15v79.3h-1.15zM411.67 247.6h1.15v79.3h-1.15zM429.99 247.6h1.15v79.3h-1.15zM456.33 247.6h1.15v79.3h-1.15zM482.67 247.6h1.15v79.3h-1.15zM517.03 247.6h1.15v79.3h-1.15zM527.34 247.6h1.15v79.3h-1.15zM563.98 247.6h1.15v79.3h-1.15zM568.57 247.6h1.15v79.3h-1.15zM588.03 247.6h1.15v79.3h-1.15zM609.79 247.6h1.15v79.3h-1.15zM638.42 247.6h1.15v79.3h-1.15zM669.34 247.6h1.15v79.3h-1.15zM692.25 247.6h1.15v79.3h-1.15zM708.28 247.6h1.15v79.3h-1.15zM746.07 247.6h1.15v79.3h-1.15zM750.65 247.6h1.15v79.3h-1.15z" fill="#a4a3d4"/>
<path d="M229.58 247.6h1.15v79.3h-1.15zM263.94 247.6h1.15v79.3h-1.15zM277.68 247.6h1.15v79.3h-1.15zM286.84 247.6h1.15v79.3h-1.15zM314.33 247.6h1.15v79.3h-1.15zM353.26 247.6h1.15v79.3h-1.15zM363.57 247.6h1.15v79.3h-1.15zM365.86 247.6h1.15v79.3h-1.15zM481.53 247.6h1.15v79.3h-1.15zM498.71 247.6h1.15v79.3h-1.15zM582.31 247.6h1.15v79.3h-1.15zM726.61 247.6h1.15v79.3h-1.15zM736.91 247.6h1.15v79.3h-1.15z" fill="#2a4da1"/>
<path d="M230.73 247.6h1.15v79.3h-1.15zM236.45 247.6h1.15v79.3h-1.15zM238.74 247.6h1.15v79.3h-1.15zM274.24 247.6h1.15v79.3h-1.15zM305.17 247.6h1.15v79.3h-1.15zM307.46 247.6h1.15v79.3h-1.15zM309.75 247.6h1.15v79.3h-1.15zM317.76 247.6h1.15v79.3h-1.15zM321.2 247.6h1.15v79.3h-1.15zM397.93 247.6h1.15v79.3h-1.15zM402.51 247.6h1.15v79.3h-1.15zM448.32 247.6h1.15v79.3h-1.15zM479.24 247.6h1.15v79.3h-1.15zM489.55 247.6h1.15v79.3h-1.15zM574.29 247.6h1.15v79.3h-1.15zM585.74 247.6h1.15v79.3h-1.15zM605.21 247.6h1.15v79.3h-1.15zM624.68 247.6h1.15v79.3h-1.15zM672.78 247.6h1.15v79.3h-1.15zM679.65 247.6h1.15v79.3h-1.15zM687.67 247.6h1.15v79.3h-1.15z" fill="#cbc9e8"/>
<path d="M231.87 247.6h1.15v79.3h-1.15zM241.03 247.6h2.29v79.3h-2.29zM253.63 247.6h1.15v79.3h-1.15zM260.5 247.6h1.15v79.3h-1.15zM298.29 247.6h1.15v79.3h-1.15zM336.09 247.6h1.15v79.3h-1.15zM338.38 247.6h1.15v79.3h-1.15zM340.67 247.6h1.15v79.3h-1.15zM378.46 247.6h1.15v79.3h-1.15zM410.53 247.6h1.15v79.3h-1.15zM455.19 247.6h1.15v79.3h-1.15zM531.92 247.6h1.15v79.3h-1.15zM534.21 247.6h1.15v79.3h-1.15zM557.11 247.6h1.15v79.3h-1.15zM590.32 247.6h1.15v79.3h-1.15zM616.66 247.6h1.15v79.3h-1.15zM641.86 247.6h1.15v79.3h-1.15zM656.75 247.6h1.15v79.3h-1.15zM660.18 247.6h1.15v79.3h-1.15zM667.05 247.6h1.15v79.3h-1.15zM702.56 247.6h1.15v79.3h-1.15zM717.44 247.6h1.15v79.3h-1.15zM724.31 247.6h2.29v79.3h-2.29z" fill="#7c7dbf"/>
<path d="M235.31 247.6h1.15v79.3h-1.15zM245.61 247.6h1.15v79.3h-1.15zM251.34 247.6h1.15v79.3h-1.15zM346.39 247.6h1.15v79.3h-1.15zM372.73 247.6h1.15v79.3h-1.15zM388.77 247.6h1.15v79.3h-1.15zM394.49 247.6h1.15v79.3h-1.15zM412.82 247.6h2.29v79.3h-2.29zM428.85 247.6h1.15v79.3h-1.15zM432.28 247.6h1.15v79.3h-1.15zM474.66 247.6h1.15v79.3h-1.15zM480.38 247.6h1.15v79.3h-1.15zM515.89 247.6h1.15v79.3h-1.15zM621.25 247.6h1.15v79.3h-1.15zM646.44 247.6h1.15v79.3h-1.15zM694.54 247.6h2.29v79.3h-2.29zM704.85 247.6h1.15v79.3h-1.15zM716.3 247.6h1.15v79.3h-1.15zM728.9 247.6h1.15v79.3h-1.15z" fill="#4257a8"/>
<path d="M243.32 247.6h1.15v79.3h-1.15zM266.23 247.6h2.29v79.3h-2.29zM304.02 247.6h1.15v79.3h-1.15zM316.62 247.6h1.15v79.3h-1.15zM328.07 247.6h1.15v79.3h-1.15zM330.36 247.6h1.15v79.3h-1.15zM392.2 247.6h1.15v79.3h-1.15zM399.07 247.6h2.29v79.3h-2.29zM407.09 247.6h1.15v79.3h-1.15zM418.54 247.6h1.15v79.3h-1.15zM425.41 247.6h1.15v79.3h-1.15zM447.17 247.6h1.15v79.3h-1.15zM471.22 247.6h1.15v79.3h-1.15zM528.48 247.6h1.15v79.3h-1.15zM537.64 247.6h1.15v79.3h-1.15zM547.95 247.6h1.15v79.3h-1.15zM600.63 247.6h1.15v79.3h-1.15zM622.39 247.6h1.15v79.3h-1.15zM648.73 247.6h1.15v79.3h-1.15zM655.6 247.6h1.15v79.3h-1.15zM663.62 247.6h1.15v79.3h-1.15zM670.49 247.6h1.15v79.3h-1.15zM677.36 247.6h1.15v79.3h-1.15zM683.09 247.6h1.15v79.3h-1.15zM685.38 247.6h1.15v79.3h-1.15zM727.75 247.6h1.15v79.3h-1.15z" fill="#e95759"/>
<path d="M246.76 247.6h1.15v79.3h-1.15zM273.1 247.6h1.15v79.3h-1.15zM292.57 247.6h2.29v79.3h-2.29zM299.44 247.6h1.15v79.3h-1.15zM326.92 247.6h1.15v79.3h-1.15zM334.94 247.6h1.15v79.3h-1.15zM349.83 247.6h1.15v79.3h-1.15zM391.06 247.6h1.15v79.3h-1.15zM393.35 247.6h1.15v79.3h-1.15zM404.8 247.6h1.15v79.3h-1.15zM417.4 247.6h1.15v79.3h-1.15zM427.7 247.6h1.15v79.3h-1.15zM435.72 247.6h1.15v79.3h-1.15zM446.03 247.6h1.15v79.3h-1.15zM464.35 247.6h1.15v79.3h-1.15zM470.08 247.6h1.15v79.3h-1.15zM472.37 247.6h1.15v79.3h-1.15zM490.69 247.6h1.15v79.3h-1.15zM522.76 247.6h1.15v79.3h-1.15zM530.77 247.6h1.15v79.3h-1.15zM561.69 247.6h1.15v79.3h-1.15zM567.42 247.6h1.15v79.3h-1.15zM592.61 247.6h1.15v79.3h-1.15zM597.2 247.6h1.15v79.3h-1.15zM599.49 247.6h1.15v79.3h-1.15zM634.99 247.6h1.15v79.3h-1.15zM639.57 247.6h1.15v79.3h-1.15zM664.76 247.6h1.15v79.3h-1.15z" fill="#f7caca"/>
<path d="M247.9 247.6h1.15v79.3h-1.15zM301.73 247.6h1.15v79.3h-1.15zM332.65 247.6h1.15v79.3h-1.15zM345.25 247.6h1.15v79.3h-1.15zM355.55 247.6h1.15v79.3h-1.15zM358.99 247.6h1.15v79.3h-1.15zM362.43 247.6h1.15v79.3h-1.15zM420.83 247.6h1.15v79.3h-1.15zM457.48 247.6h1.15v79.3h-1.15zM544.52 247.6h1.15v79.3h-1.15zM566.27 247.6h1.15v79.3h-1.15zM575.44 247.6h1.15v79.3h-1.15zM615.52 247.6h1.15v79.3h-1.15zM629.26 247.6h1.15v79.3h-1.15zM653.31 247.6h2.29v79.3h-2.29zM659.04 247.6h1.15v79.3h-1.15zM676.22 247.6h1.15v79.3h-1.15zM696.83 247.6h1.15v79.3h-1.15zM701.41 247.6h1.15v79.3h-1.15zM719.73 247.6h1.15v79.3h-1.15zM748.36 247.6h1.15v79.3h-1.15z" fill="#e52a2c"/>
<path d="M250.19 247.6h1.15v79.3h-1.15zM258.21 247.6h1.15v79.3h-1.15zM262.79 247.6h1.15v79.3h-1.15zM270.81 247.6h1.15v79.3h-1.15zM289.13 247.6h1.15v79.3h-1.15zM302.87 247.6h1.15v79.3h-1.15zM318.91 247.6h1.15v79.3h-1.15zM323.49 247.6h2.29v79.3h-2.29zM350.97 247.6h2.29v79.3h-2.29zM356.7 247.6h2.29v79.3h-2.29zM367.01 247.6h2.29v79.3h-2.29zM373.88 247.6h1.15v79.3h-1.15zM377.31 247.6h1.15v79.3h-1.15zM403.65 247.6h1.15v79.3h-1.15zM409.38 247.6h1.15v79.3h-1.15zM415.11 247.6h2.29v79.3h-2.29zM419.69 247.6h1.15v79.3h-1.15zM421.98 247.6h1.15v79.3h-1.15zM426.56 247.6h1.15v79.3h-1.15zM433.43 247.6h1.15v79.3h-1.15zM436.87 247.6h2.29v79.3h-2.29zM442.59 247.6h1.15v79.3h-1.15zM444.88 247.6h1.15v79.3h-1.15zM450.61 247.6h1.15v79.3h-1.15zM458.62 247.6h1.15v79.3h-1.15zM463.21 247.6h1.15v79.3h-1.15zM475.8 247.6h1.15v79.3h-1.15zM487.25 247.6h1.15v79.3h-1.15zM503.29 247.6h1.15v79.3h-1.15zM519.32 247.6h3.44v79.3h-3.44zM525.05 247.6h2.29v79.3h-2.29zM536.5 247.6h1.15v79.3h-1.15zM539.93 247.6h2.29v79.3h-2.29zM543.37 247.6h1.15v79.3h-1.15zM545.66 247.6h1.15v79.3h-1.15zM552.53 247.6h1.15v79.3h-1.15zM565.13 247.6h1.15v79.3h-1.15zM569.71 247.6h1.15v79.3h-1.15zM573.15 247.6h1.15v79.3h-1.15zM577.73 247.6h1.15v79.3h-1.15zM583.45 247.6h1.15v79.3h-1.15zM596.05 247.6h1.15v79.3h-1.15zM601.78 247.6h1.15v79.3h-1.15zM604.07 247.6h1.15v79.3h-1.15zM606.36 247.6h1.15v79.3h-1.15zM612.08 247.6h3.44v79.3h-3.44zM630.41 247.6h1.15v79.3h-1.15zM633.84 247.6h1.15v79.3h-1.15zM636.13 247.6h1.15v79.3h-1.15zM644.15 247.6h2.29v79.3h-2.29zM649.88 247.6h1.15v79.3h-1.15zM665.91 247.6h1.15v79.3h-1.15zM671.63 247.6h1.15v79.3h-1.15zM673.93 247.6h2.29v79.3h-2.29zM678.51 247.6h1.15v79.3h-1.15zM684.23 247.6h1.15v79.3h-1.15zM691.1 247.6h1.15v79.3h-1.15zM697.97 247.6h1.15v79.3h-1.15zM700.27 247.6h1.15v79.3h-1.15zM712.86 247.6h1.15v79.3h-1.15zM718.59 247.6h1.15v79.3h-1.15zM734.62 247.6h1.15v79.3h-1.15zM740.35 247.6h1.15v79.3h-1.15zM742.64 247.6h3.44v79.3h-3.44zM747.22 247.6h1.15v79.3h-1.15z" fill="#e41a1c"/>
<path d="M252.49 247.6h1.15v79.3h-1.15zM254.78 247.6h1.15v79.3h-1.15zM261.65 247.6h1.15v79.3h-1.15zM275.39 247.6h1.15v79.3h-1.15zM290.28 247.6h1.15v79.3h-1.15zM297.15 247.6h1.15v79.3h-1.15zM339.52 247.6h1.15v79.3h-1.15zM344.1 247.6h1.15v79.3h-1.15zM371.59 247.6h1.15v79.3h-1.15zM379.6 247.6h1.15v79.3h-1.15zM408.23 247.6h1.15v79.3h-1.15zM454.04 247.6h1.15v79.3h-1.15zM473.51 247.6h1.15v79.3h-1.15zM483.82 247.6h1.15v79.3h-1.15zM502.14 247.6h1.15v79.3h-1.15zM523.9 247.6h1.15v79.3h-1.15zM529.63 247.6h1.15v79.3h-1.15zM550.24 247.6h2.29v79.3h-2.29zM560.55 247.6h1.15v79.3h-1.15zM578.87 247.6h1.15v79.3h-1.15zM586.89 247.6h1.15v79.3h-1.15zM589.18 247.6h1.15v79.3h-1.15zM593.76 247.6h1.15v79.3h-1.15zM625.83 247.6h1.15v79.3h-1.15zM628.12 247.6h1.15v79.3h-1.15zM651.02 247.6h1.15v79.3h-1.15zM688.81 247.6h1.15v79.3h-1.15zM710.57 247.6h1.15v79.3h-1.15zM735.77 247.6h1.15v79.3h-1.15zM739.2 247.6h1.15v79.3h-1.15z" fill="#f2a3a4"/>
<path d="M255.92 247.6h1.15v79.3h-1.15zM278.83 247.6h3.44v79.3h-3.44zM291.42 247.6h1.15v79.3h-1.15zM296 247.6h1.15v79.3h-1.15zM360.14 247.6h2.29v79.3h-2.29zM369.3 247.6h2.29v79.3h-2.29zM384.19 247.6h1.15v79.3h-1.15zM395.64 247.6h1.15v79.3h-1.15zM424.27 247.6h1.15v79.3h-1.15zM431.14 247.6h1.15v79.3h-1.15zM434.57 247.6h1.15v79.3h-1.15zM440.3 247.6h1.15v79.3h-1.15zM476.95 247.6h1.15v79.3h-1.15zM501 247.6h1.15v79.3h-1.15zM511.3 247.6h1.15v79.3h-1.15zM558.26 247.6h1.15v79.3h-1.15zM562.84 247.6h1.15v79.3h-1.15zM570.86 247.6h1.15v79.3h-1.15zM584.6 247.6h1.15v79.3h-1.15zM618.95 247.6h2.29v79.3h-2.29zM631.55 247.6h1.15v79.3h-1.15zM705.99 247.6h1.15v79.3h-1.15zM715.15 247.6h1.15v79.3h-1.15zM730.04 247.6h1.15v79.3h-1.15z" fill="#5b62af"/>
<path d="M259.36 247.6h1.15v79.3h-1.15zM271.95 247.6h1.15v79.3h-1.15zM287.99 247.6h1.15v79.3h-1.15zM333.8 247.6h1.15v79.3h-1.15zM383.04 247.6h1.15v79.3h-1.15zM439.16 247.6h1.15v79.3h-1.15zM441.45 247.6h1.15v79.3h-1.15zM449.46 247.6h1.15v79.3h-1.15zM460.91 247.6h1.15v79.3h-1.15zM510.16 247.6h1.15v79.3h-1.15zM518.18 247.6h1.15v79.3h-1.15zM549.1 247.6h1.15v79.3h-1.15zM559.4 247.6h1.15v79.3h-1.15zM623.54 247.6h1.15v79.3h-1.15zM657.89 247.6h1.15v79.3h-1.15zM662.47 247.6h1.15v79.3h-1.15zM686.52 247.6h1.15v79.3h-1.15zM707.14 247.6h1.15v79.3h-1.15zM722.02 247.6h1.15v79.3h-1.15zM741.49 247.6h1.15v79.3h-1.15z" fill="#ed7a7c"/>
<path d="M283.41 247.6h1.15v79.3h-1.15zM285.7 247.6h1.15v79.3h-1.15zM300.58 247.6h1.15v79.3h-1.15zM337.23 247.6h1.15v79.3h-1.15zM348.68 247.6h1.15v79.3h-1.15zM405.94 247.6h1.15v79.3h-1.15zM443.74 247.6h1.15v79.3h-1.15zM459.77 247.6h1.15v79.3h-1.15zM488.4 247.6h1.15v79.3h-1.15zM494.13 247.6h1.15v79.3h-1.15zM499.85 247.6h1.15v79.3h-1.15zM514.74 247.6h1.15v79.3h-1.15zM572 247.6h1.15v79.3h-1.15zM581.16 247.6h1.15v79.3h-1.15zM591.47 247.6h1.15v79.3h-1.15zM608.65 247.6h1.15v79.3h-1.15zM643 247.6h1.15v79.3h-1.15zM720.88 247.6h1.15v79.3h-1.15zM733.48 247.6h1.15v79.3h-1.15z" fill="#e74042"/>
<path d="M225 326.9h21.76v79.3h-21.76zM262.79 326.9h2.29v79.3h-2.29zM271.95 326.9h1.15v79.3h-1.15zM293.71 326.9h1.15v79.3h-1.15zM325.78 326.9h4.58v79.3h-4.58zM331.51 326.9h1.15v79.3h-1.15zM334.94 326.9h1.15v79.3h-1.15zM337.23 326.9h1.15v79.3h-1.15zM348.68 326.9h1.15v79.3h-1.15zM350.97 326.9h1.15v79.3h-1.15zM355.55 326.9h1.15v79.3h-1.15zM358.99 326.9h1.15v79.3h-1.15zM365.86 326.9h1.15v79.3h-1.15zM370.44 326.9h2.29v79.3h-2.29zM373.88 326.9h1.15v79.3h-1.15zM379.6 326.9h2.29v79.3h-2.29zM385.33 326.9h1.15v79.3h-1.15zM389.91 326.9h1.15v79.3h-1.15zM399.07 326.9h1.15v79.3h-1.15zM402.51 326.9h1.15v79.3h-1.15zM408.23 326.9h2.29v79.3h-2.29zM423.12 326.9h1.15v79.3h-1.15zM426.56 326.9h1.15v79.3h-1.15zM429.99 326.9h1.15v79.3h-1.15zM441.45 326.9h1.15v79.3h-1.15zM446.03 326.9h1.15v79.3h-1.15zM454.04 326.9h2.29v79.3h-2.29zM462.06 326.9h1.15v79.3h-1.15zM467.79 326.9h2.29v79.3h-2.29zM496.42 326.9h1.15v79.3h-1.15zM499.85 326.9h3.44v79.3h-3.44zM522.76 326.9h1.15v79.3h-1.15zM531.92 326.9h1.15v79.3h-1.15zM542.23 326.9h1.15v79.3h-1.15zM550.24 326.9h1.15v79.3h-1.15zM552.53 326.9h1.15v79.3h-1.15zM554.82 326.9h2.29v79.3h-2.29zM561.69 326.9h1.15v79.3h-1.15zM565.13 326.9h1.15v79.3h-1.15zM569.71 326.9h1.15v79.3h-1.15zM574.29 326.9h1.15v79.3h-1.15zM576.58 326.9h1.15v79.3h-1.15zM580.02 326.9h1.15v79.3h-1.15zM586.89 326.9h1.15v79.3h-1.15zM594.91 326.9h1.15v79.3h-1.15zM600.63 326.9h1.15v79.3h-1.15zM605.21 326.9h1.15v79.3h-1.15zM643 326.9h1.15v79.3h-1.15zM651.02 326.9h1.15v79.3h-1.15zM653.31 326.9h1.15v79.3h-1.15zM664.76 326.9h2.29v79.3h-2.29zM679.65 326.9h1.15v79.3h-1.15zM684.23 326.9h3.44v79.3h-3.44zM691.1 326.9h1.15v79.3h-1.15zM694.54 326.9h1.15v79.3h-1.15zM716.3 326.9h1.15v79.3h-1.15zM723.17 326.9h1.15v79.3h-1.15zM734.62 326.9h1.15v79.3h-1.15z" fill="#1e489e"/>
<path d="M246.76 326.9h1.15v79.3h-1.15zM270.81 326.9h1.15v79.3h-1.15zM338.38 326.9h1.15v79.3h-1.15zM384.19 326.9h1.15v79.3h-1.15zM404.8 326.9h1.15v79.3h-1.15zM415.11 326.9h1.15v79.3h-1.15zM444.88 326.9h1.15v79.3h-1.15zM559.4 326.9h1.15v79.3h-1.15zM563.98 326.9h1.15v79.3h-1.15zM568.57 326.9h1.15v79.3h-1.15zM622.39 326.9h1.15v79.3h-1.15zM632.7 326.9h1.15v79.3h-1.15zM718.59 326.9h1.15v79.3h-1.15zM722.02 326.9h1.15v79.3h-1.15z" fill="#e52a2c"/>
<path d="M247.9 326.9h1.15v79.3h-1.15zM253.63 326.9h1.15v79.3h-1.15zM257.07 326.9h1.15v79.3h-1.15zM275.39 326.9h1.15v79.3h-1.15zM282.26 326.9h1.15v79.3h-1.15zM284.55 326.9h1.15v79.3h-1.15zM296 326.9h1.15v79.3h-1.15zM346.39 326.9h1.15v79.3h-1.15zM352.12 326.9h1.15v79.3h-1.15zM428.85 326.9h1.15v79.3h-1.15zM433.43 326.9h1.15v79.3h-1.15zM436.87 326.9h1.15v79.3h-1.15zM442.59 326.9h1.15v79.3h-1.15zM464.35 326.9h1.15v79.3h-1.15zM475.8 326.9h1.15v79.3h-1.15zM495.27 326.9h1.15v79.3h-1.15zM541.08 326.9h1.15v79.3h-1.15zM549.1 326.9h1.15v79.3h-1.15zM581.16 326.9h1.15v79.3h-1.15zM624.68 326.9h1.15v79.3h-1.15zM626.97 326.9h1.15v79.3h-1.15zM640.71 326.9h1.15v79.3h-1.15zM659.04 326.9h1.15v79.3h-1.15zM667.05 326.9h1.15v79.3h-1.15zM669.34 326.9h1.15v79.3h-1.15z" fill="#7c7dbf"/>
<path d="M249.05 326.9h1.15v79.3h-1.15zM290.28 326.9h1.15v79.3h-1.15zM294.86 326.9h1.15v79.3h-1.15zM301.73 326.9h1.15v79.3h-1.15zM361.28 326.9h1.15v79.3h-1.15zM391.06 326.9h1.15v79.3h-1.15zM417.4 326.9h1.15v79.3h-1.15zM562.84 326.9h1.15v79.3h-1.15zM584.6 326.9h1.15v79.3h-1.15zM608.65 326.9h2.29v79.3h-2.29zM615.52 326.9h1.15v79.3h-1.15zM631.55 326.9h1.15v79.3h-1.15zM647.59 326.9h1.15v79.3h-1.15zM654.46 326.9h1.15v79.3h-1.15zM696.83 326.9h1.15v79.3h-1.15zM717.44 326.9h1.15v79.3h-1.15zM741.49 326.9h1.15v79.3h-1.15z" fill="#e74042"/>
<path d="M250.19 326.9h1.15v79.3h-1.15zM265.08 326.9h1.15v79.3h-1.15zM274.24 326.9h1.15v79.3h-1.15zM285.7 326.9h1.15v79.3h-1.15zM310.89 326.9h1.15v79.3h-1.15zM316.62 326.9h1.15v79.3h-1.15zM356.7 326.9h1.15v79.3h-1.15zM368.15 326.9h1.15v79.3h-1.15zM376.17 326.9h1.15v79.3h-1.15zM387.62 326.9h1.15v79.3h-1.15zM416.25 326.9h1.15v79.3h-1.15zM439.16 326.9h1.15v79.3h-1.15zM473.51 326.9h1.15v79.3h-1.15zM511.3 326.9h1.15v79.3h-1.15zM557.11 326.9h1.15v79.3h-1.15zM593.76 326.9h1.15v79.3h-1.15zM606.36 326.9h2.29v79.3h-2.29zM616.66 326.9h2.29v79.3h-2.29zM637.28 326.9h1.15v79.3h-1.15zM645.29 326.9h2.29v79.3h-2.29zM648.73 326.9h2.29v79.3h-2.29zM670.49 326.9h1.15v79.3h-1.15zM675.07 326.9h1.15v79.3h-1.15zM680.8 326.9h1.15v79.3h-1.15zM688.81 326.9h1.15v79.3h-1.15zM725.46 326.9h1.15v79.3h-1.15z" fill="#f2a3a4"/>
<path d="M251.34 326.9h2.29v79.3h-2.29zM255.92 326.9h1.15v79.3h-1.15zM259.36 326.9h2.29v79.3h-2.29zM267.37 326.9h1.15v79.3h-1.15zM269.66 326.9h1.15v79.3h-1.15zM286.84 326.9h1.15v79.3h-1.15zM292.57 326.9h1.15v79.3h-1.15zM298.29 326.9h1.15v79.3h-1.15zM300.58 326.9h1.15v79.3h-1.15zM302.87 326.9h1.15v79.3h-1.15zM305.17 326.9h2.29v79.3h-2.29zM309.75 326.9h1.15v79.3h-1.15zM317.76 326.9h1.15v79.3h-1.15zM321.2 326.9h1.15v79.3h-1.15zM323.49 326.9h2.29v79.3h-2.29zM333.8 326.9h1.15v79.3h-1.15zM353.26 326.9h1.15v79.3h-1.15zM367.01 326.9h1.15v79.3h-1.15zM372.73 326.9h1.15v79.3h-1.15zM381.89 326.9h1.15v79.3h-1.15zM388.77 326.9h1.15v79.3h-1.15zM407.09 326.9h1.15v79.3h-1.15zM410.53 326.9h1.15v79.3h-1.15zM412.82 326.9h1.15v79.3h-1.15zM419.69 326.9h1.15v79.3h-1.15zM424.27 326.9h1.15v79.3h-1.15zM450.61 326.9h1.15v79.3h-1.15zM452.9 326.9h1.15v79.3h-1.15zM456.33 326.9h1.15v79.3h-1.15zM463.21 326.9h1.15v79.3h-1.15zM465.5 326.9h1.15v79.3h-1.15zM470.08 326.9h1.15v79.3h-1.15zM479.24 326.9h1.15v79.3h-1.15zM481.53 326.9h4.58v79.3h-4.58zM492.98 326.9h1.15v79.3h-1.15zM505.58 326.9h1.15v79.3h-1.15zM509.01 326.9h1.15v79.3h-1.15zM514.74 326.9h3.44v79.3h-3.44zM521.61 326.9h1.15v79.3h-1.15zM525.05 326.9h2.29v79.3h-2.29zM528.48 326.9h1.15v79.3h-1.15zM533.06 326.9h2.29v79.3h-2.29zM538.79 326.9h2.29v79.3h-2.29zM544.52 326.9h2.29v79.3h-2.29zM551.39 326.9h1.15v79.3h-1.15zM553.68 326.9h1.15v79.3h-1.15zM566.27 326.9h1.15v79.3h-1.15zM573.15 326.9h1.15v79.3h-1.15zM583.45 326.9h1.15v79.3h-1.15zM592.61 326.9h1.15v79.3h-1.15zM596.05 326.9h2.29v79.3h-2.29zM602.92 326.9h1.15v79.3h-1.15zM610.94 326.9h1.15v79.3h-1.15zM613.23 326.9h1.15v79.3h-1.15zM618.95 326.9h1.15v79.3h-1.15zM621.25 326.9h1.15v79.3h-1.15zM630.41 326.9h1.15v79.3h-1.15zM639.57 326.9h1.15v79.3h-1.15zM641.86 326.9h1.15v79.3h-1.15zM660.18 326.9h2.29v79.3h-2.29zM663.62 326.9h1.15v79.3h-1.15zM671.63 326.9h1.15v79.3h-1.15zM677.36 326.9h2.29v79.3h-2.29zM710.57 326.9h1.15v79.3h-1.15zM714.01 326.9h2.29v79.3h-2.29zM719.73 326.9h2.29v79.3h-2.29zM735.77 326.9h2.29v79.3h-2.29zM739.2 326.9h1.15v79.3h-1.15zM746.07 326.9h1.15v79.3h-1.15zM748.36 326.9h3.44v79.3h-3.44z" fill="#e41a1c"/>
<path d="M254.78 326.9h1.15v79.3h-1.15zM258.21 326.9h1.15v79.3h-1.15zM266.23 326.9h1.15v79.3h-1.15zM315.47 326.9h1.15v79.3h-1.15zM362.43 326.9h1.15v79.3h-1.15zM392.2 326.9h1.15v79.3h-1.15zM411.67 326.9h1.15v79.3h-1.15zM440.3 326.9h1.15v79.3h-1.15zM457.48 326.9h1.15v79.3h-1.15zM578.87 326.9h1.15v79.3h-1.15zM655.6 326.9h1.15v79.3h-1.15zM683.09 326.9h1.15v79.3h-1.15zM712.86 326.9h1.15v79.3h-1.15zM732.33 326.9h1.15v79.3h-1.15zM740.35 326.9h1.15v79.3h-1.15z" fill="#ed7a7c"/>
<path d="M261.65 326.9h1.15v79.3h-1.15zM277.68 326.9h1.15v79.3h-1.15zM279.97 326.9h1.15v79.3h-1.15zM283.41 326.9h1.15v79.3h-1.15zM314.33 326.9h1.15v79.3h-1.15zM320.05 326.9h1.15v79.3h-1.15zM330.36 326.9h1.15v79.3h-1.15zM332.65 326.9h1.15v79.3h-1.15zM342.96 326.9h1.15v79.3h-1.15zM394.49 326.9h1.15v79.3h-1.15zM458.62 326.9h1.15v79.3h-1.15zM460.91 326.9h1.15v79.3h-1.15zM494.13 326.9h1.15v79.3h-1.15zM503.29 326.9h1.15v79.3h-1.15zM523.9 326.9h1.15v79.3h-1.15zM567.42 326.9h1.15v79.3h-1.15zM582.31 326.9h1.15v79.3h-1.15zM687.67 326.9h1.15v79.3h-1.15zM697.97 326.9h1.15v79.3h-1.15zM700.27 326.9h1.15v79.3h-1.15zM704.85 326.9h1.15v79.3h-1.15zM711.72 326.9h1.15v79.3h-1.15zM726.61 326.9h1.15v79.3h-1.15zM742.64 326.9h1.15v79.3h-1.15zM744.93 326.9h1.15v79.3h-1.15z" fill="#e95759"/>
<path d="M268.52 326.9h1.15v79.3h-1.15zM273.1 326.9h1.15v79.3h-1.15zM278.83 326.9h1.15v79.3h-1.15zM297.15 326.9h1.15v79.3h-1.15zM299.44 326.9h1.15v79.3h-1.15zM383.04 326.9h1.15v79.3h-1.15zM396.78 326.9h1.15v79.3h-1.15zM413.96 326.9h1.15v79.3h-1.15zM443.74 326.9h1.15v79.3h-1.15zM520.47 326.9h1.15v79.3h-1.15zM530.77 326.9h1.15v79.3h-1.15zM536.5 326.9h1.15v79.3h-1.15zM558.26 326.9h1.15v79.3h-1.15zM575.44 326.9h1.15v79.3h-1.15zM604.07 326.9h1.15v79.3h-1.15zM612.08 326.9h1.15v79.3h-1.15zM625.83 326.9h1.15v79.3h-1.15zM633.84 326.9h1.15v79.3h-1.15zM657.89 326.9h1.15v79.3h-1.15zM668.2 326.9h1.15v79.3h-1.15zM693.39 326.9h1.15v79.3h-1.15zM724.31 326.9h1.15v79.3h-1.15zM743.78 326.9h1.15v79.3h-1.15z" fill="#4257a8"/>
<path d="M276.53 326.9h1.15v79.3h-1.15zM340.67 326.9h1.15v79.3h-1.15zM377.31 326.9h2.29v79.3h-2.29zM386.48 326.9h1.15v79.3h-1.15zM431.14 326.9h1.15v79.3h-1.15zM448.32 326.9h1.15v79.3h-1.15zM507.87 326.9h1.15v79.3h-1.15zM546.81 326.9h1.15v79.3h-1.15zM577.73 326.9h1.15v79.3h-1.15zM628.12 326.9h1.15v79.3h-1.15zM656.75 326.9h1.15v79.3h-1.15zM681.94 326.9h1.15v79.3h-1.15zM733.48 326.9h1.15v79.3h-1.15z" fill="#cbc9e8"/>
<path d="M281.12 326.9h1.15v79.3h-1.15zM313.18 326.9h1.15v79.3h-1.15zM339.52 326.9h1.15v79.3h-1.15zM360.14 326.9h1.15v79.3h-1.15zM393.35 326.9h1.15v79.3h-1.15zM420.83 326.9h1.15v79.3h-1.15zM425.41 326.9h1.15v79.3h-1.15zM432.28 326.9h1.15v79.3h-1.15zM447.17 326.9h1.15v79.3h-1.15zM489.55 326.9h1.15v79.3h-1.15zM491.84 326.9h1.15v79.3h-1.15zM513.59 326.9h1.15v79.3h-1.15zM529.63 326.9h1.15v79.3h-1.15zM535.35 326.9h1.15v79.3h-1.15zM543.37 326.9h1.15v79.3h-1.15zM547.95 326.9h1.15v79.3h-1.15zM570.86 326.9h1.15v79.3h-1.15zM589.18 326.9h1.15v79.3h-1.15zM599.49 326.9h1.15v79.3h-1.15zM634.99 326.9h1.15v79.3h-1.15zM652.17 326.9h1.15v79.3h-1.15zM672.78 326.9h1.15v79.3h-1.15zM701.41 326.9h1.15v79.3h-1.15zM709.43 326.9h1.15v79.3h-1.15z" fill="#5b62af"/>
<path d="M287.99 326.9h1.15v79.3h-1.15zM341.81 326.9h1.15v79.3h-1.15zM345.25 326.9h1.15v79.3h-1.15zM347.54 326.9h1.15v79.3h-1.15zM349.83 326.9h1.15v79.3h-1.15zM354.41 326.9h1.15v79.3h-1.15zM418.54 326.9h1.15v79.3h-1.15zM435.72 326.9h1.15v79.3h-1.15zM438.01 326.9h1.15v79.3h-1.15zM459.77 326.9h1.15v79.3h-1.15zM466.64 326.9h1.15v79.3h-1.15zM476.95 326.9h2.29v79.3h-2.29zM480.38 326.9h1.15v79.3h-1.15zM486.11 326.9h2.29v79.3h-2.29zM510.16 326.9h1.15v79.3h-1.15zM519.32 326.9h1.15v79.3h-1.15zM560.55 326.9h1.15v79.3h-1.15zM590.32 326.9h1.15v79.3h-1.15zM598.34 326.9h1.15v79.3h-1.15zM623.54 326.9h1.15v79.3h-1.15zM673.93 326.9h1.15v79.3h-1.15zM689.96 326.9h1.15v79.3h-1.15zM702.56 326.9h2.29v79.3h-2.29zM731.19 326.9h1.15v79.3h-1.15z" fill="#f7caca"/>
<path d="M289.13 326.9h1.15v79.3h-1.15zM307.46 326.9h2.29v79.3h-2.29zM363.57 326.9h1.15v79.3h-1.15zM375.02 326.9h1.15v79.3h-1.15zM397.93 326.9h1.15v79.3h-1.15zM400.22 326.9h1.15v79.3h-1.15zM471.22 326.9h1.15v79.3h-1.15zM488.4 326.9h1.15v79.3h-1.15zM490.69 326.9h1.15v79.3h-1.15zM497.56 326.9h1.15v79.3h-1.15zM504.43 326.9h1.15v79.3h-1.15zM506.72 326.9h1.15v79.3h-1.15zM591.47 326.9h1.15v79.3h-1.15zM620.1 326.9h1.15v79.3h-1.15zM629.26 326.9h1.15v79.3h-1.15zM644.15 326.9h1.15v79.3h-1.15zM662.47 326.9h1.15v79.3h-1.15zM676.22 326.9h1.15v79.3h-1.15zM699.12 326.9h1.15v79.3h-1.15zM705.99 326.9h3.44v79.3h-3.44zM738.06 326.9h1.15v79.3h-1.15z" fill="#fcf2f2"/>
<path d="M291.42 326.9h1.15v79.3h-1.15zM312.04 326.9h1.15v79.3h-1.15zM318.91 326.9h1.15v79.3h-1.15zM336.09 326.9h1.15v79.3h-1.15zM344.1 326.9h1.15v79.3h-1.15zM403.65 326.9h1.15v79.3h-1.15zM405.94 326.9h1.15v79.3h-1.15zM449.46 326.9h1.15v79.3h-1.15zM451.75 326.9h1.15v79.3h-1.15zM472.37 326.9h1.15v79.3h-1.15zM474.66 326.9h1.15v79.3h-1.15zM498.71 326.9h1.15v79.3h-1.15zM512.45 326.9h1.15v79.3h-1.15zM518.18 326.9h1.15v79.3h-1.15zM537.64 326.9h1.15v79.3h-1.15zM572 326.9h1.15v79.3h-1.15zM585.74 326.9h1.15v79.3h-1.15zM636.13 326.9h1.15v79.3h-1.15zM692.25 326.9h1.15v79.3h-1.15zM728.9 326.9h2.29v79.3h-2.29z" fill="#a4a3d4"/>
<path d="M304.02 326.9h1.15v79.3h-1.15zM322.34 326.9h1.15v79.3h-1.15zM357.85 326.9h1.15v79.3h-1.15zM364.72 326.9h1.15v79.3h-1.15zM369.3 326.9h1.15v79.3h-1.15zM395.64 326.9h1.15v79.3h-1.15zM401.36 326.9h1.15v79.3h-1.15zM421.98 326.9h1.15v79.3h-1.15zM427.7 326.9h1.15v79.3h-1.15zM434.57 326.9h1.15v79.3h-1.15zM527.34 326.9h1.15v79.3h-1.15zM588.03 326.9h1.15v79.3h-1.15zM601.78 326.9h1.15v79.3h-1.15zM614.37 326.9h1.15v79.3h-1.15zM638.42 326.9h1.15v79.3h-1.15zM695.68 326.9h1.15v79.3h-1.15zM727.75 326.9h1.15v79.3h-1.15zM747.22 326.9h1.15v79.3h-1.15z" fill="#2a4da1"/>
<path d="M225 406.2h21.76v79.3h-21.76zM262.79 406.2h1.15v79.3h-1.15zM286.84 406.2h1.15v79.3h-1.15zM297.15 406.2h1.15v79.3h-1.15zM302.87 406.2h1.15v79.3h-1.15zM307.46 406.2h2.29v79.3h-2.29zM313.18 406.2h1.15v79.3h-1.15zM315.47 406.2h2.29v79.3h-2.29zM318.91 406.2h1.15v79.3h-1.15zM331.51 406.2h1.15v79.3h-1.15zM337.23 406.2h1.15v79.3h-1.15zM344.1 406.2h1.15v79.3h-1.15zM358.99 406.2h1.15v79.3h-1.15zM362.43 406.2h1.15v79.3h-1.15zM370.44 406.2h1.15v79.3h-1.15zM377.31 406.2h1.15v79.3h-1.15zM383.04 406.2h1.15v79.3h-1.15zM385.33 406.2h1.15v79.3h-1.15zM388.77 406.2h1.15v79.3h-1.15zM399.07 406.2h1.15v79.3h-1.15zM401.36 406.2h1.15v79.3h-1.15zM423.12 406.2h1.15v79.3h-1.15zM426.56 406.2h1.15v79.3h-1.15zM429.99 406.2h1.15v79.3h-1.15zM440.3 406.2h1.15v79.3h-1.15zM448.32 406.2h1.15v79.3h-1.15zM457.48 406.2h1.15v79.3h-1.15zM468.93 406.2h1.15v79.3h-1.15zM471.22 406.2h1.15v79.3h-1.15zM483.82 406.2h1.15v79.3h-1.15zM489.55 406.2h1.15v79.3h-1.15zM541.08 406.2h1.15v79.3h-1.15zM552.53 406.2h1.15v79.3h-1.15zM562.84 406.2h1.15v79.3h-1.15zM565.13 406.2h1.15v79.3h-1.15zM575.44 406.2h1.15v79.3h-1.15zM586.89 406.2h1.15v79.3h-1.15zM591.47 406.2h1.15v79.3h-1.15zM593.76 406.2h1.15v79.3h-1.15zM608.65 406.2h1.15v79.3h-1.15zM615.52 406.2h1.15v79.3h-1.15zM626.97 406.2h1.15v79.3h-1.15zM653.31 406.2h2.29v79.3h-2.29zM660.18 406.2h1.15v79.3h-1.15zM669.34 406.2h1.15v79.3h-1.15zM672.78 406.2h1.15v79.3h-1.15zM686.52 406.2h1.15v79.3h-1.15zM703.7 406.2h2.29v79.3h-2.29zM716.3 406.2h1.15v79.3h-1.15zM727.75 406.2h1.15v79.3h-1.15zM730.04 406.2h1.15v79.3h-1.15zM732.33 406.2h1.15v79.3h-1.15zM740.35 406.2h1.15v79.3h-1.15z" fill="#e41a1c"/>
<path d="M246.76 406.2h1.15v79.3h-1.15zM270.81 406.2h1.15v79.3h-1.15zM279.97 406.2h1.15v79.3h-1.15zM282.26 406.2h1.15v79.3h-1.15zM322.34 406.2h1.15v79.3h-1.15zM324.63 406.2h1.15v79.3h-1.15zM326.92 406.2h1.15v79.3h-1.15zM330.36 406.2h1.15v79.3h-1.15zM341.81 406.2h1.15v79.3h-1.15zM350.97 406.2h1.15v79.3h-1.15zM360.14 406.2h1.15v79.3h-1.15zM393.35 406.2h1.15v79.3h-1.15zM418.54 406.2h1.15v79.3h-1.15zM428.85 406.2h1.15v79.3h-1.15zM432.28 406.2h1.15v79.3h-1.15zM495.27 406.2h1.15v79.3h-1.15zM505.58 406.2h1.15v79.3h-1.15zM520.47 406.2h1.15v79.3h-1.15zM558.26 406.2h1.15v79.3h-1.15zM581.16 406.2h1.15v79.3h-1.15zM590.32 406.2h1.15v79.3h-1.15zM601.78 406.2h1.15v79.3h-1.15zM625.83 406.2h1.15v79.3h-1.15zM683.09 406.2h1.15v79.3h-1.15zM695.68 406.2h1.15v79.3h-1.15zM734.62 406.2h1.15v79.3h-1.15zM750.65 406.2h1.15v79.3h-1.15z" fill="#cbc9e8"/>
<path d="M247.9 406.2h1.15v79.3h-1.15zM254.78 406.2h1.15v79.3h-1.15zM266.23 406.2h1.15v79.3h-1.15zM278.83 406.2h1.15v79.3h-1.15zM284.55 406.2h1.15v79.3h-1.15zM299.44 406.2h1.15v79.3h-1.15zM306.31 406.2h1.15v79.3h-1.15zM329.21 406.2h1.15v79.3h-1.15zM332.65 406.2h1.15v79.3h-1.15zM354.41 406.2h1.15v79.3h-1.15zM384.19 406.2h1.15v79.3h-1.15zM433.43 406.2h2.29v79.3h-2.29zM450.61 406.2h1.15v79.3h-1.15zM473.51 406.2h1.15v79.3h-1.15zM478.09 406.2h1.15v79.3h-1.15zM499.85 406.2h1.15v79.3h-1.15zM513.59 406.2h1.15v79.3h-1.15zM519.32 406.2h1.15v79.3h-1.15zM531.92 406.2h1.15v79.3h-1.15zM547.95 406.2h1.15v79.3h-1.15zM584.6 406.2h1.15v79.3h-1.15zM632.7 406.2h2.29v79.3h-2.29zM638.42 406.2h1.15v79.3h-1.15zM651.02 406.2h1.15v79.3h-1.15zM659.04 406.2h1.15v79.3h-1.15zM668.2 406.2h1.15v79.3h-1.15zM673.93 406.2h1.15v79.3h-1.15zM718.59 406.2h1.15v79.3h-1.15zM747.22 406.2h1.15v79.3h-1.15z" fill="#f2a3a4"/>
<path d="M249.05 406.2h1.15v79.3h-1.15zM285.7 406.2h1.15v79.3h-1.15zM364.72 406.2h1.15v79.3h-1.15zM451.75 406.2h1.15v79.3h-1.15zM475.8 406.2h1.15v79.3h-1.15zM515.89 406.2h1.15v79.3h-1.15zM521.61 406.2h1.15v79.3h-1.15zM553.68 406.2h1.15v79.3h-1.15zM555.97 406.2h1.15v79.3h-1.15zM561.69 406.2h1.15v79.3h-1.15zM647.59 406.2h1.15v79.3h-1.15zM655.6 406.2h1.15v79.3h-1.15zM670.49 406.2h2.29v79.3h-2.29zM675.07 406.2h1.15v79.3h-1.15zM685.38 406.2h1.15v79.3h-1.15zM714.01 406.2h1.15v79.3h-1.15zM739.2 406.2h1.15v79.3h-1.15zM741.49 406.2h1.15v79.3h-1.15z" fill="#2a4da1"/>
<path d="M250.19 406.2h2.29v79.3h-2.29zM277.68 406.2h1.15v79.3h-1.15zM290.28 406.2h1.15v79.3h-1.15zM304.02 406.2h1.15v79.3h-1.15zM333.8 406.2h1.15v79.3h-1.15zM347.54 406.2h1.15v79.3h-1.15zM349.83 406.2h1.15v79.3h-1.15zM373.88 406.2h1.15v79.3h-1.15zM387.62 406.2h1.15v79.3h-1.15zM397.93 406.2h1.15v79.3h-1.15zM462.06 406.2h1.15v79.3h-1.15zM497.56 406.2h1.15v79.3h-1.15zM504.43 406.2h1.15v79.3h-1.15zM506.72 406.2h1.15v79.3h-1.15zM510.16 406.2h1.15v79.3h-1.15zM530.77 406.2h1.15v79.3h-1.15zM549.1 406.2h1.15v79.3h-1.15zM617.81 406.2h1.15v79.3h-1.15zM624.68 406.2h1.15v79.3h-1.15zM634.99 406.2h1.15v79.3h-1.15zM644.15 406.2h3.44v79.3h-3.44zM667.05 406.2h1.15v79.3h-1.15zM679.65 406.2h2.29v79.3h-2.29zM689.96 406.2h1.15v79.3h-1.15zM710.57 406.2h1.15v79.3h-1.15z" fill="#fcf2f2"/>
<path d="M252.49 406.2h1.15v79.3h-1.15zM257.07 406.2h1.15v79.3h-1.15zM261.65 406.2h1.15v79.3h-1.15zM271.95 406.2h1.15v79.3h-1.15zM296 406.2h1.15v79.3h-1.15zM325.78 406.2h1.15v79.3h-1.15zM365.86 406.2h2.29v79.3h-2.29zM378.46 406.2h1.15v79.3h-1.15zM439.16 406.2h1.15v79.3h-1.15zM441.45 406.2h2.29v79.3h-2.29zM455.19 406.2h1.15v79.3h-1.15zM480.38 406.2h1.15v79.3h-1.15zM543.37 406.2h1.15v79.3h-1.15zM599.49 406.2h1.15v79.3h-1.15zM618.95 406.2h1.15v79.3h-1.15zM652.17 406.2h1.15v79.3h-1.15zM661.33 406.2h1.15v79.3h-1.15zM691.1 406.2h1.15v79.3h-1.15zM707.14 406.2h1.15v79.3h-1.15zM717.44 406.2h1.15v79.3h-1.15zM723.17 406.2h1.15v79.3h-1.15zM731.19 406.2h1.15v79.3h-1.15z" fill="#e95759"/>
<path d="M253.63 406.2h1.15v79.3h-1.15zM268.52 406.2h1.15v79.3h-1.15zM273.1 406.2h2.29v79.3h-2.29zM276.53 406.2h1.15v79.3h-1.15zM281.12 406.2h1.15v79.3h-1.15zM287.99 406.2h1.15v79.3h-1.15zM300.58 406.2h1.15v79.3h-1.15zM305.17 406.2h1.15v79.3h-1.15zM310.89 406.2h1.15v79.3h-1.15zM314.33 406.2h1.15v79.3h-1.15zM321.2 406.2h1.15v79.3h-1.15zM339.52 406.2h1.15v79.3h-1.15zM345.25 406.2h1.15v79.3h-1.15zM348.68 406.2h1.15v79.3h-1.15zM355.55 406.2h2.29v79.3h-2.29zM363.57 406.2h1.15v79.3h-1.15zM368.15 406.2h2.29v79.3h-2.29zM372.73 406.2h1.15v79.3h-1.15zM376.17 406.2h1.15v79.3h-1.15zM379.6 406.2h1.15v79.3h-1.15zM381.89 406.2h1.15v79.3h-1.15zM394.49 406.2h1.15v79.3h-1.15zM404.8 406.2h1.15v79.3h-1.15zM412.82 406.2h1.15v79.3h-1.15zM417.4 406.2h1.15v79.3h-1.15zM443.74 406.2h2.29v79.3h-2.29zM449.46 406.2h1.15v79.3h-1.15zM458.62 406.2h1.15v79.3h-1.15zM465.5 406.2h1.15v79.3h-1.15zM479.24 406.2h1.15v79.3h-1.15zM488.4 406.2h1.15v79.3h-1.15zM490.69 406.2h2.29v79.3h-2.29zM494.13 406.2h1.15v79.3h-1.15zM496.42 406.2h1.15v79.3h-1.15zM498.71 406.2h1.15v79.3h-1.15zM501 406.2h1.15v79.3h-1.15zM507.87 406.2h2.29v79.3h-2.29zM511.3 406.2h1.15v79.3h-1.15zM514.74 406.2h1.15v79.3h-1.15zM518.18 406.2h1.15v79.3h-1.15zM522.76 406.2h1.15v79.3h-1.15zM528.48 406.2h2.29v79.3h-2.29zM542.23 406.2h1.15v79.3h-1.15zM545.66 406.2h1.15v79.3h-1.15zM550.24 406.2h1.15v79.3h-1.15zM554.82 406.2h1.15v79.3h-1.15zM557.11 406.2h1.15v79.3h-1.15zM560.55 406.2h1.15v79.3h-1.15zM563.98 406.2h1.15v79.3h-1.15zM567.42 406.2h1.15v79.3h-1.15zM570.86 406.2h1.15v79.3h-1.15zM573.15 406.2h2.29v79.3h-2.29zM577.73 406.2h1.15v79.3h-1.15zM582.31 406.2h1.15v79.3h-1.15zM592.61 406.2h1.15v79.3h-1.15zM594.91 406.2h1.15v79.3h-1.15zM600.63 406.2h1.15v79.3h-1.15zM605.21 406.2h3.44v79.3h-3.44zM612.08 406.2h1.15v79.3h-1.15zM620.1 406.2h1.15v79.3h-1.15zM623.54 406.2h1.15v79.3h-1.15zM628.12 406.2h1.15v79.3h-1.15zM630.41 406.2h1.15v79.3h-1.15zM639.57 406.2h1.15v79.3h-1.15zM641.86 406.2h2.29v79.3h-2.29zM649.88 406.2h1.15v79.3h-1.15zM657.89 406.2h1.15v79.3h-1.15zM662.47 406.2h3.44v79.3h-3.44zM676.22 406.2h3.44v79.3h-3.44zM687.67 406.2h1.15v79.3h-1.15zM699.12 406.2h1.15v79.3h-1.15zM722.02 406.2h1.15v79.3h-1.15zM726.61 406.2h1.15v79.3h-1.15zM728.9 406.2h1.15v79.3h-1.15zM749.51 406.2h1.15v79.3h-1.15z" fill="#1e489e"/>
<path d="M255.92 406.2h1.15v79.3h-1.15zM291.42 406.2h1.15v79.3h-1.15zM301.73 406.2h1.15v79.3h-1.15zM375.02 406.2h1.15v79.3h-1.15zM424.27 406.2h2.29v79.3h-2.29zM436.87 406.2h1.15v79.3h-1.15zM459.77 406.2h2.29v79.3h-2.29zM476.95 406.2h1.15v79.3h-1.15zM535.35 406.2h1.15v79.3h-1.15zM546.81 406.2h1.15v79.3h-1.15zM580.02 406.2h1.15v79.3h-1.15zM613.23 406.2h1.15v79.3h-1.15zM681.94 406.2h1.15v79.3h-1.15z" fill="#e52a2c"/>
<path d="M258.21 406.2h1.15v79.3h-1.15zM283.41 406.2h1.15v79.3h-1.15zM298.29 406.2h1.15v79.3h-1.15zM320.05 406.2h1.15v79.3h-1.15zM392.2 406.2h1.15v79.3h-1.15zM400.22 406.2h1.15v79.3h-1.15zM410.53 406.2h1.15v79.3h-1.15zM427.7 406.2h1.15v79.3h-1.15zM466.64 406.2h1.15v79.3h-1.15zM484.96 406.2h1.15v79.3h-1.15zM536.5 406.2h1.15v79.3h-1.15zM539.93 406.2h1.15v79.3h-1.15zM559.4 406.2h1.15v79.3h-1.15zM583.45 406.2h1.15v79.3h-1.15zM621.25 406.2h1.15v79.3h-1.15zM692.25 406.2h1.15v79.3h-1.15zM701.41 406.2h1.15v79.3h-1.15zM746.07 406.2h1.15v79.3h-1.15zM748.36 406.2h1.15v79.3h-1.15z" fill="#7c7dbf"/>
<path d="M259.36 406.2h1.15v79.3h-1.15zM294.86 406.2h1.15v79.3h-1.15zM340.67 406.2h1.15v79.3h-1.15zM342.96 406.2h1.15v79.3h-1.15zM353.26 406.2h1.15v79.3h-1.15zM402.51 406.2h1.15v79.3h-1.15zM408.23 406.2h1.15v79.3h-1.15zM415.11 406.2h2.29v79.3h-2.29zM421.98 406.2h1.15v79.3h-1.15zM431.14 406.2h1.15v79.3h-1.15zM464.35 406.2h1.15v79.3h-1.15zM470.08 406.2h1.15v79.3h-1.15zM512.45 406.2h1.15v79.3h-1.15zM551.39 406.2h1.15v79.3h-1.15zM566.27 406.2h1.15v79.3h-1.15zM589.18 406.2h1.15v79.3h-1.15zM614.37 406.2h1.15v79.3h-1.15zM622.39 406.2h1.15v79.3h-1.15zM631.55 406.2h1.15v79.3h-1.15zM636.13 406.2h1.15v79.3h-1.15zM656.75 406.2h1.15v79.3h-1.15zM696.83 406.2h1.15v79.3h-1.15zM705.99 406.2h1.15v79.3h-1.15zM712.86 406.2h1.15v79.3h-1.15zM720.88 406.2h1.15v79.3h-1.15zM725.46 406.2h1.15v79.3h-1.15zM735.77 406.2h1.15v79.3h-1.15zM742.64 406.2h1.15v79.3h-1.15zM744.93 406.2h1.15v79.3h-1.15z" fill="#5b62af"/>
<path d="M260.5 406.2h1.15v79.3h-1.15zM263.94 406.2h1.15v79.3h-1.15zM289.13 406.2h1.15v79.3h-1.15zM323.49 406.2h1.15v79.3h-1.15zM334.94 406.2h1.15v79.3h-1.15zM407.09 406.2h1.15v79.3h-1.15zM420.83 406.2h1.15v79.3h-1.15zM435.72 406.2h1.15v79.3h-1.15zM438.01 406.2h1.15v79.3h-1.15zM454.04 406.2h1.15v79.3h-1.15zM503.29 406.2h1.15v79.3h-1.15zM537.64 406.2h1.15v79.3h-1.15zM544.52 406.2h1.15v79.3h-1.15zM576.58 406.2h1.15v79.3h-1.15zM588.03 406.2h1.15v79.3h-1.15zM609.79 406.2h2.29v79.3h-2.29zM640.71 406.2h1.15v79.3h-1.15zM648.73 406.2h1.15v79.3h-1.15zM697.97 406.2h1.15v79.3h-1.15zM700.27 406.2h1.15v79.3h-1.15zM738.06 406.2h1.15v79.3h-1.15z" fill="#a4a3d4"/>
<path d="M265.08 406.2h1.15v79.3h-1.15zM269.66 406.2h1.15v79.3h-1.15zM292.57 406.2h1.15v79.3h-1.15zM312.04 406.2h1.15v79.3h-1.15zM336.09 406.2h1.15v79.3h-1.15zM361.28 406.2h1.15v79.3h-1.15zM386.48 406.2h1.15v79.3h-1.15zM389.91 406.2h2.29v79.3h-2.29zM409.38 406.2h1.15v79.3h-1.15zM411.67 406.2h1.15v79.3h-1.15zM413.96 406.2h1.15v79.3h-1.15zM446.03 406.2h1.15v79.3h-1.15zM452.9 406.2h1.15v79.3h-1.15zM467.79 406.2h1.15v79.3h-1.15zM517.03 406.2h1.15v79.3h-1.15zM525.05 406.2h1.15v79.3h-1.15zM597.2 406.2h1.15v79.3h-1.15zM629.26 406.2h1.15v79.3h-1.15zM684.23 406.2h1.15v79.3h-1.15zM733.48 406.2h1.15v79.3h-1.15z" fill="#4257a8"/>
<path d="M267.37 406.2h1.15v79.3h-1.15zM328.07 406.2h1.15v79.3h-1.15zM338.38 406.2h1.15v79.3h-1.15zM371.59 406.2h1.15v79.3h-1.15zM405.94 406.2h1.15v79.3h-1.15zM456.33 406.2h1.15v79.3h-1.15zM472.37 406.2h1.15v79.3h-1.15zM602.92 406.2h1.15v79.3h-1.15zM688.81 406.2h1.15v79.3h-1.15zM702.56 406.2h1.15v79.3h-1.15zM708.28 406.2h1.15v79.3h-1.15zM711.72 406.2h1.15v79.3h-1.15zM719.73 406.2h1.15v79.3h-1.15zM724.31 406.2h1.15v79.3h-1.15zM736.91 406.2h1.15v79.3h-1.15z" fill="#f7caca"/>
<path d="M275.39 406.2h1.15v79.3h-1.15zM293.71 406.2h1.15v79.3h-1.15zM346.39 406.2h1.15v79.3h-1.15zM352.12 406.2h1.15v79.3h-1.15zM395.64 406.2h2.29v79.3h-2.29zM447.17 406.2h1.15v79.3h-1.15zM463.21 406.2h1.15v79.3h-1.15zM481.53 406.2h2.29v79.3h-2.29zM486.11 406.2h1.15v79.3h-1.15zM492.98 406.2h1.15v79.3h-1.15zM502.14 406.2h1.15v79.3h-1.15zM526.19 406.2h2.29v79.3h-2.29zM569.71 406.2h1.15v79.3h-1.15zM578.87 406.2h1.15v79.3h-1.15zM598.34 406.2h1.15v79.3h-1.15zM604.07 406.2h1.15v79.3h-1.15zM637.28 406.2h1.15v79.3h-1.15zM665.91 406.2h1.15v79.3h-1.15zM693.39 406.2h1.15v79.3h-1.15zM743.78 406.2h1.15v79.3h-1.15z" fill="#ed7a7c"/>
<path d="M309.75 406.2h1.15v79.3h-1.15zM317.76 406.2h1.15v79.3h-1.15zM357.85 406.2h1.15v79.3h-1.15zM380.75 406.2h1.15v79.3h-1.15zM403.65 406.2h1.15v79.3h-1.15zM419.69 406.2h1.15v79.3h-1.15zM474.66 406.2h1.15v79.3h-1.15zM487.25 406.2h1.15v79.3h-1.15zM523.9 406.2h1.15v79.3h-1.15zM533.06 406.2h2.29v79.3h-2.29zM538.79 406.2h1.15v79.3h-1.15zM568.57 406.2h1.15v79.3h-1.15zM572 406.2h1.15v79.3h-1.15zM585.74 406.2h1.15v79.3h-1.15zM596.05 406.2h1.15v79.3h-1.15zM616.66 406.2h1.15v79.3h-1.15zM694.54 406.2h1.15v79.3h-1.15zM709.43 406.2h1.15v79.3h-1.15zM715.15 406.2h1.15v79.3h-1.15z" fill="#e74042"/>
<path d="M225 485.5h1.15v79.3h-1.15zM230.73 485.5h2.29v79.3h-2.29zM245.61 485.5h2.29v79.3h-2.29zM257.07 485.5h2.29v79.3h-2.29zM268.52 485.5h1.15v79.3h-1.15zM281.12 485.5h1.15v79.3h-1.15zM294.86 485.5h1.15v79.3h-1.15zM309.75 485.5h1.15v79.3h-1.15zM333.8 485.5h1.15v79.3h-1.15zM380.75 485.5h2.29v79.3h-2.29zM384.19 485.5h1.15v79.3h-1.15zM420.83 485.5h1.15v79.3h-1.15zM426.56 485.5h1.15v79.3h-1.15zM436.87 485.5h1.15v79.3h-1.15zM449.46 485.5h1.15v79.3h-1.15zM518.18 485.5h1.15v79.3h-1.15zM528.48 485.5h1.15v79.3h-1.15zM651.02 485.5h1.15v79.3h-1.15zM668.2 485.5h1.15v79.3h-1.15zM676.22 485.5h1.15v79.3h-1.15zM697.97 485.5h2.29v79.3h-2.29zM742.64 485.5h1.15v79.3h-1.15z" fill="#e95759"/>
<path d="M226.15 485.5h1.15v79.3h-1.15zM228.44 485.5h1.15v79.3h-1.15zM234.16 485.5h2.29v79.3h-2.29zM237.6 485.5h3.44v79.3h-3.44zM242.18 485.5h1.15v79.3h-1.15zM247.9 485.5h2.29v79.3h-2.29zM251.34 485.5h2.29v79.3h-2.29zM254.78 485.5h1.15v79.3h-1.15zM259.36 485.5h1.15v79.3h-1.15zM273.1 485.5h2.29v79.3h-2.29zM307.46 485.5h2.29v79.3h-2.29zM310.89 485.5h1.15v79.3h-1.15zM321.2 485.5h1.15v79.3h-1.15zM323.49 485.5h1.15v79.3h-1.15zM330.36 485.5h1.15v79.3h-1.15zM342.96 485.5h2.29v79.3h-2.29zM365.86 485.5h1.15v79.3h-1.15zM368.15 485.5h1.15v79.3h-1.15zM370.44 485.5h1.15v79.3h-1.15zM375.02 485.5h1.15v79.3h-1.15zM388.77 485.5h1.15v79.3h-1.15zM393.35 485.5h1.15v79.3h-1.15zM399.07 485.5h1.15v79.3h-1.15zM401.36 485.5h1.15v79.3h-1.15zM403.65 485.5h1.15v79.3h-1.15zM412.82 485.5h1.15v79.3h-1.15zM421.98 485.5h1.15v79.3h-1.15zM427.7 485.5h2.29v79.3h-2.29zM432.28 485.5h1.15v79.3h-1.15zM443.74 485.5h1.15v79.3h-1.15zM451.75 485.5h1.15v79.3h-1.15zM472.37 485.5h1.15v79.3h-1.15zM478.09 485.5h1.15v79.3h-1.15zM489.55 485.5h1.15v79.3h-1.15zM496.42 485.5h2.29v79.3h-2.29zM499.85 485.5h1.15v79.3h-1.15zM502.14 485.5h1.15v79.3h-1.15zM510.16 485.5h2.29v79.3h-2.29zM517.03 485.5h1.15v79.3h-1.15zM522.76 485.5h1.15v79.3h-1.15zM534.21 485.5h1.15v79.3h-1.15zM536.5 485.5h2.29v79.3h-2.29zM546.81 485.5h1.15v79.3h-1.15zM561.69 485.5h1.15v79.3h-1.15zM563.98 485.5h2.29v79.3h-2.29zM568.57 485.5h1.15v79.3h-1.15zM577.73 485.5h1.15v79.3h-1.15zM584.6 485.5h1.15v79.3h-1.15zM589.18 485.5h1.15v79.3h-1.15zM592.61 485.5h1.15v79.3h-1.15zM594.91 485.5h1.15v79.3h-1.15zM609.79 485.5h2.29v79.3h-2.29zM615.52 485.5h1.15v79.3h-1.15zM621.25 485.5h2.29v79.3h-2.29zM624.68 485.5h1.15v79.3h-1.15zM626.97 485.5h1.15v79.3h-1.15zM645.29 485.5h1.15v79.3h-1.15zM659.04 485.5h1.15v79.3h-1.15zM669.34 485.5h1.15v79.3h-1.15zM681.94 485.5h1.15v79.3h-1.15zM684.23 485.5h1.15v79.3h-1.15zM692.25 485.5h1.15v79.3h-1.15zM701.41 485.5h1.15v79.3h-1.15zM704.85 485.5h1.15v79.3h-1.15zM716.3 485.5h1.15v79.3h-1.15zM724.31 485.5h1.15v79.3h-1.15zM740.35 485.5h1.15v79.3h-1.15zM748.36 485.5h1.15v79.3h-1.15z" fill="#e41a1c"/>
<path d="M227.29 485.5h1.15v79.3h-1.15zM260.5 485.5h1.15v79.3h-1.15zM277.68 485.5h1.15v79.3h-1.15zM279.97 485.5h1.15v79.3h-1.15zM301.73 485.5h1.15v79.3h-1.15zM349.83 485.5h1.15v79.3h-1.15zM352.12 485.5h1.15v79.3h-1.15zM386.48 485.5h1.15v79.3h-1.15zM409.38 485.5h1.15v79.3h-1.15zM423.12 485.5h1.15v79.3h-1.15zM446.03 485.5h1.15v79.3h-1.15zM465.5 485.5h1.15v79.3h-1.15zM468.93 485.5h1.15v79.3h-1.15zM474.66 485.5h1.15v79.3h-1.15zM665.91 485.5h1.15v79.3h-1.15zM687.67 485.5h1.15v79.3h-1.15zM714.01 485.5h1.15v79.3h-1.15zM727.75 485.5h1.15v79.3h-1.15zM732.33 485.5h1.15v79.3h-1.15zM743.78 485.5h1.15v79.3h-1.15z" fill="#f2a3a4"/>
<path d="M229.58 485.5h1.15v79.3h-1.15zM236.45 485.5h1.15v79.3h-1.15zM241.03 485.5h1.15v79.3h-1.15zM320.05 485.5h1.15v79.3h-1.15zM331.51 485.5h1.15v79.3h-1.15zM334.94 485.5h1.15v79.3h-1.15zM354.41 485.5h1.15v79.3h-1.15zM387.62 485.5h1.15v79.3h-1.15zM395.64 485.5h1.15v79.3h-1.15zM424.27 485.5h1.15v79.3h-1.15zM438.01 485.5h1.15v79.3h-1.15zM456.33 485.5h1.15v79.3h-1.15zM486.11 485.5h1.15v79.3h-1.15zM494.13 485.5h1.15v79.3h-1.15zM531.92 485.5h2.29v79.3h-2.29zM539.93 485.5h1.15v79.3h-1.15zM567.42 485.5h1.15v79.3h-1.15zM614.37 485.5h1.15v79.3h-1.15zM623.54 485.5h1.15v79.3h-1.15zM629.26 485.5h1.15v79.3h-1.15zM638.42 485.5h1.15v79.3h-1.15zM656.75 485.5h2.29v79.3h-2.29zM662.47 485.5h1.15v79.3h-1.15zM723.17 485.5h1.15v79.3h-1.15z" fill="#ed7a7c"/>
<path d="M233.02 485.5h1.15v79.3h-1.15zM244.47 485.5h1.15v79.3h-1.15zM283.41 485.5h2.29v79.3h-2.29zM298.29 485.5h1.15v79.3h-1.15zM302.87 485.5h1.15v79.3h-1.15zM348.68 485.5h1.15v79.3h-1.15zM362.43 485.5h1.15v79.3h-1.15zM405.94 485.5h1.15v79.3h-1.15zM431.14 485.5h1.15v79.3h-1.15zM441.45 485.5h1.15v79.3h-1.15zM464.35 485.5h1.15v79.3h-1.15zM482.67 485.5h1.15v79.3h-1.15zM526.19 485.5h1.15v79.3h-1.15zM547.95 485.5h1.15v79.3h-1.15zM576.58 485.5h1.15v79.3h-1.15zM581.16 485.5h1.15v79.3h-1.15zM586.89 485.5h1.15v79.3h-1.15zM591.47 485.5h1.15v79.3h-1.15zM630.41 485.5h1.15v79.3h-1.15zM653.31 485.5h1.15v79.3h-1.15zM663.62 485.5h1.15v79.3h-1.15zM712.86 485.5h1.15v79.3h-1.15zM738.06 485.5h1.15v79.3h-1.15zM750.65 485.5h1.15v79.3h-1.15z" fill="#e52a2c"/>
<path d="M243.32 485.5h1.15v79.3h-1.15zM265.08 485.5h1.15v79.3h-1.15zM289.13 485.5h1.15v79.3h-1.15zM305.17 485.5h1.15v79.3h-1.15zM358.99 485.5h1.15v79.3h-1.15zM367.01 485.5h1.15v79.3h-1.15zM373.88 485.5h1.15v79.3h-1.15zM385.33 485.5h1.15v79.3h-1.15zM402.51 485.5h1.15v79.3h-1.15zM407.09 485.5h1.15v79.3h-1.15zM433.43 485.5h1.15v79.3h-1.15zM457.48 485.5h1.15v79.3h-1.15zM523.9 485.5h1.15v79.3h-1.15zM549.1 485.5h1.15v79.3h-1.15zM555.97 485.5h1.15v79.3h-1.15zM598.34 485.5h2.29v79.3h-2.29zM616.66 485.5h1.15v79.3h-1.15zM644.15 485.5h1.15v79.3h-1.15zM655.6 485.5h1.15v79.3h-1.15zM675.07 485.5h1.15v79.3h-1.15zM720.88 485.5h1.15v79.3h-1.15zM734.62 485.5h1.15v79.3h-1.15z" fill="#e74042"/>
<path d="M250.19 485.5h1.15v79.3h-1.15zM275.39 485.5h1.15v79.3h-1.15zM291.42 485.5h1.15v79.3h-1.15zM318.91 485.5h1.15v79.3h-1.15zM325.78 485.5h1.15v79.3h-1.15zM341.81 485.5h1.15v79.3h-1.15zM347.54 485.5h1.15v79.3h-1.15zM353.26 485.5h1.15v79.3h-1.15zM361.28 485.5h1.15v79.3h-1.15zM400.22 485.5h1.15v79.3h-1.15zM404.8 485.5h1.15v79.3h-1.15zM410.53 485.5h1.15v79.3h-1.15zM459.77 485.5h1.15v79.3h-1.15zM480.38 485.5h1.15v79.3h-1.15zM542.23 485.5h1.15v79.3h-1.15zM551.39 485.5h1.15v79.3h-1.15zM562.84 485.5h1.15v79.3h-1.15zM600.63 485.5h1.15v79.3h-1.15zM661.33 485.5h1.15v79.3h-1.15zM671.63 485.5h1.15v79.3h-1.15zM680.8 485.5h1.15v79.3h-1.15zM683.09 485.5h1.15v79.3h-1.15zM705.99 485.5h1.15v79.3h-1.15zM735.77 485.5h1.15v79.3h-1.15z" fill="#cbc9e8"/>
<path d="M253.63 485.5h1.15v79.3h-1.15zM315.47 485.5h1.15v79.3h-1.15zM369.3 485.5h1.15v79.3h-1.15zM376.17 485.5h1.15v79.3h-1.15zM440.3 485.5h1.15v79.3h-1.15zM483.82 485.5h1.15v79.3h-1.15zM490.69 485.5h1.15v79.3h-1.15zM525.05 485.5h1.15v79.3h-1.15zM529.63 485.5h1.15v79.3h-1.15zM585.74 485.5h1.15v79.3h-1.15zM588.03 485.5h1.15v79.3h-1.15zM593.76 485.5h1.15v79.3h-1.15zM631.55 485.5h1.15v79.3h-1.15zM647.59 485.5h1.15v79.3h-1.15zM652.17 485.5h1.15v79.3h-1.15zM694.54 485.5h1.15v79.3h-1.15zM717.44 485.5h1.15v79.3h-1.15z" fill="#2a4da1"/>
<path d="M255.92 485.5h1.15v79.3h-1.15zM263.94 485.5h1.15v79.3h-1.15zM276.53 485.5h1.15v79.3h-1.15zM290.28 485.5h1.15v79.3h-1.15zM293.71 485.5h1.15v79.3h-1.15zM299.44 485.5h1.15v79.3h-1.15zM304.02 485.5h1.15v79.3h-1.15zM317.76 485.5h1.15v79.3h-1.15zM326.92 485.5h1.15v79.3h-1.15zM332.65 485.5h1.15v79.3h-1.15zM340.67 485.5h1.15v79.3h-1.15zM356.7 485.5h1.15v79.3h-1.15zM360.14 485.5h1.15v79.3h-1.15zM371.59 485.5h1.15v79.3h-1.15zM379.6 485.5h1.15v79.3h-1.15zM415.11 485.5h2.29v79.3h-2.29zM429.99 485.5h1.15v79.3h-1.15zM434.57 485.5h1.15v79.3h-1.15zM442.59 485.5h1.15v79.3h-1.15zM447.17 485.5h1.15v79.3h-1.15zM450.61 485.5h1.15v79.3h-1.15zM452.9 485.5h2.29v79.3h-2.29zM463.21 485.5h1.15v79.3h-1.15zM473.51 485.5h1.15v79.3h-1.15zM475.8 485.5h1.15v79.3h-1.15zM479.24 485.5h1.15v79.3h-1.15zM484.96 485.5h1.15v79.3h-1.15zM501 485.5h1.15v79.3h-1.15zM507.87 485.5h1.15v79.3h-1.15zM515.89 485.5h1.15v79.3h-1.15zM521.61 485.5h1.15v79.3h-1.15zM527.34 485.5h1.15v79.3h-1.15zM543.37 485.5h1.15v79.3h-1.15zM554.82 485.5h1.15v79.3h-1.15zM557.11 485.5h1.15v79.3h-1.15zM583.45 485.5h1.15v79.3h-1.15zM590.32 485.5h1.15v79.3h-1.15zM597.2 485.5h1.15v79.3h-1.15zM601.78 485.5h1.15v79.3h-1.15zM607.5 485.5h1.15v79.3h-1.15zM617.81 485.5h1.15v79.3h-1.15zM633.84 485.5h1.15v79.3h-1.15zM639.57 485.5h1.15v79.3h-1.15zM654.46 485.5h1.15v79.3h-1.15zM664.76 485.5h1.15v79.3h-1.15zM673.93 485.5h1.15v79.3h-1.15zM685.38 485.5h1.15v79.3h-1.15zM689.96 485.5h1.15v79.3h-1.15zM693.39 485.5h1.15v79.3h-1.15zM695.68 485.5h1.15v79.3h-1.15zM700.27 485.5h1.15v79.3h-1.15zM707.14 485.5h1.15v79.3h-1.15zM710.57 485.5h1.15v79.3h-1.15zM715.15 485.5h1.15v79.3h-1.15zM726.61 485.5h1.15v79.3h-1.15zM736.91 485.5h1.15v79.3h-1.15zM744.93 485.5h3.44v79.3h-3.44zM749.51 485.5h1.15v79.3h-1.15z" fill="#1e489e"/>
<path d="M261.65 485.5h1.15v79.3h-1.15zM270.81 485.5h2.29v79.3h-2.29zM286.84 485.5h2.29v79.3h-2.29zM313.18 485.5h1.15v79.3h-1.15zM355.55 485.5h1.15v79.3h-1.15zM372.73 485.5h1.15v79.3h-1.15zM383.04 485.5h1.15v79.3h-1.15zM389.91 485.5h1.15v79.3h-1.15zM392.2 485.5h1.15v79.3h-1.15zM394.49 485.5h1.15v79.3h-1.15zM417.4 485.5h1.15v79.3h-1.15zM495.27 485.5h1.15v79.3h-1.15zM498.71 485.5h1.15v79.3h-1.15zM509.01 485.5h1.15v79.3h-1.15zM513.59 485.5h1.15v79.3h-1.15zM520.47 485.5h1.15v79.3h-1.15zM530.77 485.5h1.15v79.3h-1.15zM558.26 485.5h1.15v79.3h-1.15zM560.55 485.5h1.15v79.3h-1.15zM566.27 485.5h1.15v79.3h-1.15zM625.83 485.5h1.15v79.3h-1.15zM628.12 485.5h1.15v79.3h-1.15zM646.44 485.5h1.15v79.3h-1.15zM678.51 485.5h1.15v79.3h-1.15zM686.52 485.5h1.15v79.3h-1.15z" fill="#7c7dbf"/>
<path d="M262.79 485.5h1.15v79.3h-1.15zM267.37 485.5h1.15v79.3h-1.15zM269.66 485.5h1.15v79.3h-1.15zM292.57 485.5h1.15v79.3h-1.15zM328.07 485.5h2.29v79.3h-2.29zM346.39 485.5h1.15v79.3h-1.15zM413.96 485.5h1.15v79.3h-1.15zM425.41 485.5h1.15v79.3h-1.15zM439.16 485.5h1.15v79.3h-1.15zM514.74 485.5h1.15v79.3h-1.15zM535.35 485.5h1.15v79.3h-1.15zM541.08 485.5h1.15v79.3h-1.15zM596.05 485.5h1.15v79.3h-1.15zM613.23 485.5h1.15v79.3h-1.15zM632.7 485.5h1.15v79.3h-1.15zM667.05 485.5h1.15v79.3h-1.15zM679.65 485.5h1.15v79.3h-1.15zM709.43 485.5h1.15v79.3h-1.15zM728.9 485.5h1.15v79.3h-1.15z" fill="#4257a8"/>
<path d="M266.23 485.5h1.15v79.3h-1.15zM282.26 485.5h1.15v79.3h-1.15zM314.33 485.5h1.15v79.3h-1.15zM322.34 485.5h1.15v79.3h-1.15zM336.09 485.5h1.15v79.3h-1.15zM338.38 485.5h1.15v79.3h-1.15zM345.25 485.5h1.15v79.3h-1.15zM363.57 485.5h1.15v79.3h-1.15zM435.72 485.5h1.15v79.3h-1.15zM458.62 485.5h1.15v79.3h-1.15zM460.91 485.5h1.15v79.3h-1.15zM476.95 485.5h1.15v79.3h-1.15zM487.25 485.5h2.29v79.3h-2.29zM491.84 485.5h1.15v79.3h-1.15zM503.29 485.5h1.15v79.3h-1.15zM505.58 485.5h1.15v79.3h-1.15zM512.45 485.5h1.15v79.3h-1.15zM550.24 485.5h1.15v79.3h-1.15zM552.53 485.5h1.15v79.3h-1.15zM569.71 485.5h1.15v79.3h-1.15zM574.29 485.5h1.15v79.3h-1.15zM582.31 485.5h1.15v79.3h-1.15zM604.07 485.5h3.44v79.3h-3.44zM612.08 485.5h1.15v79.3h-1.15zM637.28 485.5h1.15v79.3h-1.15zM643 485.5h1.15v79.3h-1.15zM660.18 485.5h1.15v79.3h-1.15zM711.72 485.5h1.15v79.3h-1.15zM722.02 485.5h1.15v79.3h-1.15zM730.04 485.5h1.15v79.3h-1.15zM733.48 485.5h1.15v79.3h-1.15zM739.2 485.5h1.15v79.3h-1.15z" fill="#a4a3d4"/>
<path d="M278.83 485.5h1.15v79.3h-1.15zM296 485.5h2.29v79.3h-2.29zM300.58 485.5h1.15v79.3h-1.15zM312.04 485.5h1.15v79.3h-1.15zM316.62 485.5h1.15v79.3h-1.15zM337.23 485.5h1.15v79.3h-1.15zM357.85 485.5h1.15v79.3h-1.15zM397.93 485.5h1.15v79.3h-1.15zM411.67 485.5h1.15v79.3h-1.15zM419.69 485.5h1.15v79.3h-1.15zM444.88 485.5h1.15v79.3h-1.15zM455.19 485.5h1.15v79.3h-1.15zM470.08 485.5h2.29v79.3h-2.29zM538.79 485.5h1.15v79.3h-1.15zM559.4 485.5h1.15v79.3h-1.15zM573.15 485.5h1.15v79.3h-1.15zM602.92 485.5h1.15v79.3h-1.15zM636.13 485.5h1.15v79.3h-1.15zM640.71 485.5h1.15v79.3h-1.15zM670.49 485.5h1.15v79.3h-1.15zM688.81 485.5h1.15v79.3h-1.15zM719.73 485.5h1.15v79.3h-1.15z" fill="#fcf2f2"/>
<path d="M285.7 485.5h1.15v79.3h-1.15zM306.31 485.5h1.15v79.3h-1.15zM378.46 485.5h1.15v79.3h-1.15zM391.06 485.5h1.15v79.3h-1.15zM396.78 485.5h1.15v79.3h-1.15zM466.64 485.5h1.15v79.3h-1.15zM492.98 485.5h1.15v79.3h-1.15zM504.43 485.5h1.15v79.3h-1.15zM519.32 485.5h1.15v79.3h-1.15zM544.52 485.5h2.29v79.3h-2.29zM553.68 485.5h1.15v79.3h-1.15zM570.86 485.5h1.15v79.3h-1.15zM575.44 485.5h1.15v79.3h-1.15zM578.87 485.5h2.29v79.3h-2.29zM618.95 485.5h2.29v79.3h-2.29zM634.99 485.5h1.15v79.3h-1.15zM641.86 485.5h1.15v79.3h-1.15zM649.88 485.5h1.15v79.3h-1.15zM672.78 485.5h1.15v79.3h-1.15zM677.36 485.5h1.15v79.3h-1.15zM718.59 485.5h1.15v79.3h-1.15zM725.46 485.5h1.15v79.3h-1.15zM731.19 485.5h1.15v79.3h-1.15z" fill="#f7caca"/>
<path d="M324.63 485.5h1.15v79.3h-1.15zM339.52 485.5h1.15v79.3h-1.15zM350.97 485.5h1.15v79.3h-1.15zM364.72 485.5h1.15v79.3h-1.15zM377.31 485.5h1.15v79.3h-1.15zM408.23 485.5h1.15v79.3h-1.15zM418.54 485.5h1.15v79.3h-1.15zM448.32 485.5h1.15v79.3h-1.15zM462.06 485.5h1.15v79.3h-1.15zM467.79 485.5h1.15v79.3h-1.15zM481.53 485.5h1.15v79.3h-1.15zM506.72 485.5h1.15v79.3h-1.15zM572 485.5h1.15v79.3h-1.15zM608.65 485.5h1.15v79.3h-1.15zM648.73 485.5h1.15v79.3h-1.15zM691.1 485.5h1.15v79.3h-1.15zM696.83 485.5h1.15v79.3h-1.15zM702.56 485.5h2.29v79.3h-2.29zM708.28 485.5h1.15v79.3h-1.15zM741.49 485.5h1.15v79.3h-1.15z" fill="#5b62af"/>
<path d="M225 564.8h1.15v79.3h-1.15zM274.24 564.8h1.15v79.3h-1.15zM290.28 564.8h1.15v79.3h-1.15zM297.15 564.8h1.15v79.3h-1.15zM299.44 564.8h1.15v79.3h-1.15zM302.87 564.8h1.15v79.3h-1.15zM324.63 564.8h1.15v79.3h-1.15zM365.86 564.8h1.15v79.3h-1.15zM404.8 564.8h1.15v79.3h-1.15zM424.27 564.8h1.15v79.3h-1.15zM435.72 564.8h1.15v79.3h-1.15zM451.75 564.8h1.15v79.3h-1.15zM457.48 564.8h1.15v79.3h-1.15zM474.66 564.8h1.15v79.3h-1.15zM490.69 564.8h1.15v79.3h-1.15zM499.85 564.8h1.15v79.3h-1.15zM549.1 564.8h1.15v79.3h-1.15zM567.42 564.8h1.15v79.3h-1.15zM575.44 564.8h1.15v79.3h-1.15zM662.47 564.8h1.15v79.3h-1.15zM718.59 564.8h1.15v79.3h-1.15zM749.51 564.8h1.15v79.3h-1.15z" fill="#7c7dbf"/>
<path d="M226.15 564.8h2.29v79.3h-2.29zM231.87 564.8h2.29v79.3h-2.29zM261.65 564.8h1.15v79.3h-1.15zM270.81 564.8h1.15v79.3h-1.15zM273.1 564.8h1.15v79.3h-1.15zM278.83 564.8h1.15v79.3h-1.15zM330.36 564.8h1.15v79.3h-1.15zM346.39 564.8h2.29v79.3h-2.29zM384.19 564.8h1.15v79.3h-1.15zM395.64 564.8h1.15v79.3h-1.15zM553.68 564.8h1.15v79.3h-1.15zM585.74 564.8h1.15v79.3h-1.15zM591.47 564.8h1.15v79.3h-1.15zM689.96 564.8h1.15v79.3h-1.15zM709.43 564.8h1.15v79.3h-1.15zM720.88 564.8h1.15v79.3h-1.15zM723.17 564.8h1.15v79.3h-1.15z" fill="#5b62af"/>
<path d="M228.44 564.8h1.15v79.3h-1.15zM235.31 564.8h2.29v79.3h-2.29zM238.74 564.8h2.29v79.3h-2.29zM242.18 564.8h1.15v79.3h-1.15zM244.47 564.8h1.15v79.3h-1.15zM249.05 564.8h1.15v79.3h-1.15zM255.92 564.8h1.15v79.3h-1.15zM282.26 564.8h2.29v79.3h-2.29zM293.71 564.8h1.15v79.3h-1.15zM296 564.8h1.15v79.3h-1.15zM304.02 564.8h1.15v79.3h-1.15zM308.6 564.8h1.15v79.3h-1.15zM312.04 564.8h1.15v79.3h-1.15zM316.62 564.8h1.15v79.3h-1.15zM338.38 564.8h1.15v79.3h-1.15zM349.83 564.8h1.15v79.3h-1.15zM357.85 564.8h1.15v79.3h-1.15zM362.43 564.8h1.15v79.3h-1.15zM375.02 564.8h1.15v79.3h-1.15zM386.48 564.8h1.15v79.3h-1.15zM389.91 564.8h1.15v79.3h-1.15zM396.78 564.8h1.15v79.3h-1.15zM401.36 564.8h1.15v79.3h-1.15zM407.09 564.8h1.15v79.3h-1.15zM421.98 564.8h1.15v79.3h-1.15zM425.41 564.8h1.15v79.3h-1.15zM462.06 564.8h1.15v79.3h-1.15zM470.08 564.8h1.15v79.3h-1.15zM475.8 564.8h2.29v79.3h-2.29zM479.24 564.8h2.29v79.3h-2.29zM482.67 564.8h1.15v79.3h-1.15zM486.11 564.8h1.15v79.3h-1.15zM495.27 564.8h2.29v79.3h-2.29zM505.58 564.8h1.15v79.3h-1.15zM512.45 564.8h2.29v79.3h-2.29zM520.47 564.8h2.29v79.3h-2.29zM529.63 564.8h1.15v79.3h-1.15zM541.08 564.8h1.15v79.3h-1.15zM543.37 564.8h1.15v79.3h-1.15zM550.24 564.8h1.15v79.3h-1.15zM557.11 564.8h1.15v79.3h-1.15zM560.55 564.8h1.15v79.3h-1.15zM563.98 564.8h1.15v79.3h-1.15zM574.29 564.8h1.15v79.3h-1.15zM577.73 564.8h1.15v79.3h-1.15zM581.16 564.8h2.29v79.3h-2.29zM607.5 564.8h2.29v79.3h-2.29zM613.23 564.8h1.15v79.3h-1.15zM621.25 564.8h1.15v79.3h-1.15zM632.7 564.8h1.15v79.3h-1.15zM639.57 564.8h1.15v79.3h-1.15zM646.44 564.8h1.15v79.3h-1.15zM651.02 564.8h1.15v79.3h-1.15zM653.31 564.8h1.15v79.3h-1.15zM655.6 564.8h1.15v79.3h-1.15zM659.04 564.8h1.15v79.3h-1.15zM663.62 564.8h1.15v79.3h-1.15zM665.91 564.8h1.15v79.3h-1.15zM675.07 564.8h1.15v79.3h-1.15zM679.65 564.8h1.15v79.3h-1.15zM683.09 564.8h1.15v79.3h-1.15zM701.41 564.8h1.15v79.3h-1.15zM707.14 564.8h1.15v79.3h-1.15zM715.15 564.8h1.15v79.3h-1.15zM726.61 564.8h1.15v79.3h-1.15zM736.91 564.8h2.29v79.3h-2.29zM740.35 564.8h1.15v79.3h-1.15z" fill="#1e489e"/>
<path d="M229.58 564.8h1.15v79.3h-1.15zM234.16 564.8h1.15v79.3h-1.15zM241.03 564.8h1.15v79.3h-1.15zM243.32 564.8h1.15v79.3h-1.15zM245.61 564.8h1.15v79.3h-1.15zM292.57 564.8h1.15v79.3h-1.15zM320.05 564.8h1.15v79.3h-1.15zM350.97 564.8h1.15v79.3h-1.15zM376.17 564.8h1.15v79.3h-1.15zM394.49 564.8h1.15v79.3h-1.15zM397.93 564.8h1.15v79.3h-1.15zM519.32 564.8h1.15v79.3h-1.15zM526.19 564.8h1.15v79.3h-1.15zM528.48 564.8h1.15v79.3h-1.15zM534.21 564.8h2.29v79.3h-2.29zM588.03 564.8h1.15v79.3h-1.15zM616.66 564.8h1.15v79.3h-1.15zM624.68 564.8h2.29v79.3h-2.29zM638.42 564.8h1.15v79.3h-1.15zM643 564.8h1.15v79.3h-1.15zM649.88 564.8h1.15v79.3h-1.15zM700.27 564.8h1.15v79.3h-1.15zM712.86 564.8h1.15v79.3h-1.15z" fill="#2a4da1"/>
<path d="M230.73 564.8h1.15v79.3h-1.15zM237.6 564.8h1.15v79.3h-1.15zM259.36 564.8h1.15v79.3h-1.15zM262.79 564.8h1.15v79.3h-1.15zM265.08 564.8h1.15v79.3h-1.15zM298.29 564.8h1.15v79.3h-1.15zM301.73 564.8h1.15v79.3h-1.15zM306.31 564.8h1.15v79.3h-1.15zM309.75 564.8h1.15v79.3h-1.15zM342.96 564.8h1.15v79.3h-1.15zM433.43 564.8h1.15v79.3h-1.15zM440.3 564.8h1.15v79.3h-1.15zM454.04 564.8h1.15v79.3h-1.15zM483.82 564.8h1.15v79.3h-1.15zM488.4 564.8h1.15v79.3h-1.15zM510.16 564.8h2.29v79.3h-2.29zM533.06 564.8h1.15v79.3h-1.15zM589.18 564.8h1.15v79.3h-1.15zM601.78 564.8h1.15v79.3h-1.15zM620.1 564.8h1.15v79.3h-1.15zM657.89 564.8h1.15v79.3h-1.15zM717.44 564.8h1.15v79.3h-1.15zM728.9 564.8h1.15v79.3h-1.15z" fill="#4257a8"/>
<path d="M246.76 564.8h1.15v79.3h-1.15zM275.39 564.8h1.15v79.3h-1.15zM284.55 564.8h1.15v79.3h-1.15zM331.51 564.8h1.15v79.3h-1.15zM337.23 564.8h1.15v79.3h-1.15zM345.25 564.8h1.15v79.3h-1.15zM387.62 564.8h1.15v79.3h-1.15zM419.69 564.8h1.15v79.3h-1.15zM432.28 564.8h1.15v79.3h-1.15zM507.87 564.8h1.15v79.3h-1.15zM527.34 564.8h1.15v79.3h-1.15zM530.77 564.8h1.15v79.3h-1.15zM538.79 564.8h1.15v79.3h-1.15zM544.52 564.8h1.15v79.3h-1.15zM551.39 564.8h1.15v79.3h-1.15zM562.84 564.8h1.15v79.3h-1.15zM593.76 564.8h1.15v79.3h-1.15zM600.63 564.8h1.15v79.3h-1.15zM614.37 564.8h1.15v79.3h-1.15zM618.95 564.8h1.15v79.3h-1.15zM634.99 564.8h1.15v79.3h-1.15zM640.71 564.8h1.15v79.3h-1.15zM656.75 564.8h1.15v79.3h-1.15zM660.18 564.8h1.15v79.3h-1.15zM694.54 564.8h1.15v79.3h-1.15zM714.01 564.8h1.15v79.3h-1.15zM727.75 564.8h1.15v79.3h-1.15zM744.93 564.8h2.29v79.3h-2.29z" fill="#cbc9e8"/>
<path d="M247.9 564.8h1.15v79.3h-1.15zM321.2 564.8h1.15v79.3h-1.15zM368.15 564.8h1.15v79.3h-1.15zM372.73 564.8h1.15v79.3h-1.15zM444.88 564.8h1.15v79.3h-1.15zM447.17 564.8h1.15v79.3h-1.15zM471.22 564.8h1.15v79.3h-1.15zM489.55 564.8h1.15v79.3h-1.15zM518.18 564.8h1.15v79.3h-1.15zM570.86 564.8h1.15v79.3h-1.15zM592.61 564.8h1.15v79.3h-1.15zM604.07 564.8h1.15v79.3h-1.15zM684.23 564.8h1.15v79.3h-1.15zM695.68 564.8h1.15v79.3h-1.15zM697.97 564.8h1.15v79.3h-1.15zM739.2 564.8h1.15v79.3h-1.15zM741.49 564.8h1.15v79.3h-1.15z" fill="#e74042"/>
<path d="M250.19 564.8h1.15v79.3h-1.15zM258.21 564.8h1.15v79.3h-1.15zM263.94 564.8h1.15v79.3h-1.15zM294.86 564.8h1.15v79.3h-1.15zM313.18 564.8h1.15v79.3h-1.15zM333.8 564.8h1.15v79.3h-1.15zM420.83 564.8h1.15v79.3h-1.15zM478.09 564.8h1.15v79.3h-1.15zM509.01 564.8h1.15v79.3h-1.15zM531.92 564.8h1.15v79.3h-1.15zM580.02 564.8h1.15v79.3h-1.15zM586.89 564.8h1.15v79.3h-1.15zM602.92 564.8h1.15v79.3h-1.15zM606.36 564.8h1.15v79.3h-1.15zM629.26 564.8h1.15v79.3h-1.15zM631.55 564.8h1.15v79.3h-1.15zM678.51 564.8h1.15v79.3h-1.15zM688.81 564.8h1.15v79.3h-1.15zM696.83 564.8h1.15v79.3h-1.15zM730.04 564.8h2.29v79.3h-2.29zM733.48 564.8h1.15v79.3h-1.15zM748.36 564.8h1.15v79.3h-1.15zM750.65 564.8h1.15v79.3h-1.15z" fill="#a4a3d4"/>
<path d="M251.34 564.8h2.29v79.3h-2.29zM267.37 564.8h1.15v79.3h-1.15zM269.66 564.8h1.15v79.3h-1.15zM279.97 564.8h1.15v79.3h-1.15zM285.7 564.8h1.15v79.3h-1.15zM287.99 564.8h1.15v79.3h-1.15zM291.42 564.8h1.15v79.3h-1.15zM307.46 564.8h1.15v79.3h-1.15zM329.21 564.8h1.15v79.3h-1.15zM334.94 564.8h1.15v79.3h-1.15zM348.68 564.8h1.15v79.3h-1.15zM361.28 564.8h1.15v79.3h-1.15zM403.65 564.8h1.15v79.3h-1.15zM418.54 564.8h1.15v79.3h-1.15zM439.16 564.8h1.15v79.3h-1.15zM466.64 564.8h1.15v79.3h-1.15zM503.29 564.8h1.15v79.3h-1.15zM558.26 564.8h1.15v79.3h-1.15zM568.57 564.8h1.15v79.3h-1.15zM573.15 564.8h1.15v79.3h-1.15zM596.05 564.8h1.15v79.3h-1.15zM612.08 564.8h1.15v79.3h-1.15zM617.81 564.8h1.15v79.3h-1.15zM623.54 564.8h1.15v79.3h-1.15zM636.13 564.8h1.15v79.3h-1.15zM652.17 564.8h1.15v79.3h-1.15zM654.46 564.8h1.15v79.3h-1.15zM668.2 564.8h1.15v79.3h-1.15zM671.63 564.8h1.15v79.3h-1.15zM687.67 564.8h1.15v79.3h-1.15zM708.28 564.8h1.15v79.3h-1.15zM735.77 564.8h1.15v79.3h-1.15zM743.78 564.8h1.15v79.3h-1.15z" fill="#ed7a7c"/>
<path d="M253.63 564.8h2.29v79.3h-2.29zM260.5 564.8h1.15v79.3h-1.15zM266.23 564.8h1.15v79.3h-1.15zM268.52 564.8h1.15v79.3h-1.15zM271.95 564.8h1.15v79.3h-1.15zM277.68 564.8h1.15v79.3h-1.15zM328.07 564.8h1.15v79.3h-1.15zM344.1 564.8h1.15v79.3h-1.15zM352.12 564.8h4.58v79.3h-4.58zM358.99 564.8h2.29v79.3h-2.29zM363.57 564.8h2.29v79.3h-2.29zM370.44 564.8h1.15v79.3h-1.15zM377.31 564.8h1.15v79.3h-1.15zM379.6 564.8h3.44v79.3h-3.44zM393.35 564.8h1.15v79.3h-1.15zM400.22 564.8h1.15v79.3h-1.15zM402.51 564.8h1.15v79.3h-1.15zM405.94 564.8h1.15v79.3h-1.15zM410.53 564.8h3.44v79.3h-3.44zM415.11 564.8h2.29v79.3h-2.29zM423.12 564.8h1.15v79.3h-1.15zM429.99 564.8h1.15v79.3h-1.15zM438.01 564.8h1.15v79.3h-1.15zM441.45 564.8h1.15v79.3h-1.15zM448.32 564.8h3.44v79.3h-3.44zM455.19 564.8h1.15v79.3h-1.15zM459.77 564.8h2.29v79.3h-2.29zM467.79 564.8h1.15v79.3h-1.15zM481.53 564.8h1.15v79.3h-1.15zM487.25 564.8h1.15v79.3h-1.15zM498.71 564.8h1.15v79.3h-1.15zM504.43 564.8h1.15v79.3h-1.15zM514.74 564.8h2.29v79.3h-2.29zM523.9 564.8h1.15v79.3h-1.15zM537.64 564.8h1.15v79.3h-1.15zM539.93 564.8h1.15v79.3h-1.15zM547.95 564.8h1.15v79.3h-1.15zM555.97 564.8h1.15v79.3h-1.15zM559.4 564.8h1.15v79.3h-1.15zM565.13 564.8h1.15v79.3h-1.15zM578.87 564.8h1.15v79.3h-1.15zM597.2 564.8h1.15v79.3h-1.15zM610.94 564.8h1.15v79.3h-1.15zM630.41 564.8h1.15v79.3h-1.15zM633.84 564.8h1.15v79.3h-1.15zM641.86 564.8h1.15v79.3h-1.15zM644.15 564.8h1.15v79.3h-1.15zM669.34 564.8h1.15v79.3h-1.15zM676.22 564.8h1.15v79.3h-1.15zM680.8 564.8h1.15v79.3h-1.15zM685.38 564.8h1.15v79.3h-1.15zM691.1 564.8h2.29v79.3h-2.29zM705.99 564.8h1.15v79.3h-1.15zM722.02 564.8h1.15v79.3h-1.15zM732.33 564.8h1.15v79.3h-1.15zM734.62 564.8h1.15v79.3h-1.15zM742.64 564.8h1.15v79.3h-1.15z" fill="#e41a1c"/>
<path d="M257.07 564.8h1.15v79.3h-1.15zM325.78 564.8h1.15v79.3h-1.15zM336.09 564.8h1.15v79.3h-1.15zM356.7 564.8h1.15v79.3h-1.15zM383.04 564.8h1.15v79.3h-1.15zM399.07 564.8h1.15v79.3h-1.15zM417.4 564.8h1.15v79.3h-1.15zM458.62 564.8h1.15v79.3h-1.15zM464.35 564.8h1.15v79.3h-1.15zM484.96 564.8h1.15v79.3h-1.15zM501 564.8h1.15v79.3h-1.15zM546.81 564.8h1.15v79.3h-1.15zM569.71 564.8h1.15v79.3h-1.15zM572 564.8h1.15v79.3h-1.15zM598.34 564.8h1.15v79.3h-1.15zM628.12 564.8h1.15v79.3h-1.15zM648.73 564.8h1.15v79.3h-1.15zM667.05 564.8h1.15v79.3h-1.15zM677.36 564.8h1.15v79.3h-1.15zM681.94 564.8h1.15v79.3h-1.15z" fill="#e95759"/>
<path d="M276.53 564.8h1.15v79.3h-1.15zM289.13 564.8h1.15v79.3h-1.15zM305.17 564.8h1.15v79.3h-1.15zM314.33 564.8h2.29v79.3h-2.29zM318.91 564.8h1.15v79.3h-1.15zM326.92 564.8h1.15v79.3h-1.15zM339.52 564.8h1.15v79.3h-1.15zM341.81 564.8h1.15v79.3h-1.15zM367.01 564.8h1.15v79.3h-1.15zM371.59 564.8h1.15v79.3h-1.15zM373.88 564.8h1.15v79.3h-1.15zM413.96 564.8h1.15v79.3h-1.15zM428.85 564.8h1.15v79.3h-1.15zM473.51 564.8h1.15v79.3h-1.15zM492.98 564.8h1.15v79.3h-1.15zM502.14 564.8h1.15v79.3h-1.15zM522.76 564.8h1.15v79.3h-1.15zM545.66 564.8h1.15v79.3h-1.15zM576.58 564.8h1.15v79.3h-1.15zM594.91 564.8h1.15v79.3h-1.15zM637.28 564.8h1.15v79.3h-1.15zM661.33 564.8h1.15v79.3h-1.15zM693.39 564.8h1.15v79.3h-1.15zM710.57 564.8h1.15v79.3h-1.15z" fill="#f7caca"/>
<path d="M281.12 564.8h1.15v79.3h-1.15zM300.58 564.8h1.15v79.3h-1.15zM322.34 564.8h2.29v79.3h-2.29zM369.3 564.8h1.15v79.3h-1.15zM385.33 564.8h1.15v79.3h-1.15zM408.23 564.8h1.15v79.3h-1.15zM427.7 564.8h1.15v79.3h-1.15zM431.14 564.8h1.15v79.3h-1.15zM434.57 564.8h1.15v79.3h-1.15zM452.9 564.8h1.15v79.3h-1.15zM463.21 564.8h1.15v79.3h-1.15zM465.5 564.8h1.15v79.3h-1.15zM472.37 564.8h1.15v79.3h-1.15zM494.13 564.8h1.15v79.3h-1.15zM497.56 564.8h1.15v79.3h-1.15zM517.03 564.8h1.15v79.3h-1.15zM525.05 564.8h1.15v79.3h-1.15zM584.6 564.8h1.15v79.3h-1.15zM590.32 564.8h1.15v79.3h-1.15zM673.93 564.8h1.15v79.3h-1.15zM686.52 564.8h1.15v79.3h-1.15zM702.56 564.8h1.15v79.3h-1.15z" fill="#fcf2f2"/>
<path d="M286.84 564.8h1.15v79.3h-1.15zM310.89 564.8h1.15v79.3h-1.15zM317.76 564.8h1.15v79.3h-1.15zM340.67 564.8h1.15v79.3h-1.15zM378.46 564.8h1.15v79.3h-1.15zM391.06 564.8h1.15v79.3h-1.15zM409.38 564.8h1.15v79.3h-1.15zM426.56 564.8h1.15v79.3h-1.15zM436.87 564.8h1.15v79.3h-1.15zM468.93 564.8h1.15v79.3h-1.15zM491.84 564.8h1.15v79.3h-1.15zM506.72 564.8h1.15v79.3h-1.15zM536.5 564.8h1.15v79.3h-1.15zM542.23 564.8h1.15v79.3h-1.15zM552.53 564.8h1.15v79.3h-1.15zM561.69 564.8h1.15v79.3h-1.15zM566.27 564.8h1.15v79.3h-1.15zM583.45 564.8h1.15v79.3h-1.15zM599.49 564.8h1.15v79.3h-1.15zM605.21 564.8h1.15v79.3h-1.15zM609.79 564.8h1.15v79.3h-1.15zM615.52 564.8h1.15v79.3h-1.15zM645.29 564.8h1.15v79.3h-1.15zM647.59 564.8h1.15v79.3h-1.15zM664.76 564.8h1.15v79.3h-1.15zM672.78 564.8h1.15v79.3h-1.15zM704.85 564.8h1.15v79.3h-1.15zM711.72 564.8h1.15v79.3h-1.15zM716.3 564.8h1.15v79.3h-1.15zM719.73 564.8h1.15v79.3h-1.15zM725.46 564.8h1.15v79.3h-1.15zM747.22 564.8h1.15v79.3h-1.15z" fill="#f2a3a4"/>
<path d="M332.65 564.8h1.15v79.3h-1.15zM388.77 564.8h1.15v79.3h-1.15zM392.2 564.8h1.15v79.3h-1.15zM442.59 564.8h2.29v79.3h-2.29zM446.03 564.8h1.15v79.3h-1.15zM456.33 564.8h1.15v79.3h-1.15zM554.82 564.8h1.15v79.3h-1.15zM622.39 564.8h1.15v79.3h-1.15zM626.97 564.8h1.15v79.3h-1.15zM670.49 564.8h1.15v79.3h-1.15zM699.12 564.8h1.15v79.3h-1.15zM703.7 564.8h1.15v79.3h-1.15zM724.31 564.8h1.15v79.3h-1.15z" fill="#e52a2c"/>
<path d="M225 644.1h1.15v79.3h-1.15zM299.44 644.1h1.15v79.3h-1.15zM306.31 644.1h1.15v79.3h-1.15zM331.51 644.1h1.15v79.3h-1.15zM379.6 644.1h1.15v79.3h-1.15zM392.2 644.1h1.15v79.3h-1.15zM464.35 644.1h1.15v79.3h-1.15zM476.95 644.1h1.15v79.3h-1.15zM481.53 644.1h1.15v79.3h-1.15zM489.55 644.1h1.15v79.3h-1.15zM495.27 644.1h1.15v79.3h-1.15zM507.87 644.1h1.15v79.3h-1.15zM513.59 644.1h1.15v79.3h-1.15zM570.86 644.1h2.29v79.3h-2.29zM576.58 644.1h1.15v79.3h-1.15zM594.91 644.1h1.15v79.3h-1.15zM604.07 644.1h1.15v79.3h-1.15zM631.55 644.1h1.15v79.3h-1.15zM702.56 644.1h1.15v79.3h-1.15zM722.02 644.1h1.15v79.3h-1.15z" fill="#5b62af"/>
<path d="M226.15 644.1h1.15v79.3h-1.15zM228.44 644.1h4.58v79.3h-4.58zM235.31 644.1h1.15v79.3h-1.15zM237.6 644.1h1.15v79.3h-1.15zM242.18 644.1h2.29v79.3h-2.29zM245.61 644.1h1.15v79.3h-1.15zM267.37 644.1h1.15v79.3h-1.15zM270.81 644.1h1.15v79.3h-1.15zM278.83 644.1h1.15v79.3h-1.15zM285.7 644.1h1.15v79.3h-1.15zM292.57 644.1h1.15v79.3h-1.15zM296 644.1h1.15v79.3h-1.15zM309.75 644.1h3.44v79.3h-3.44zM328.07 644.1h1.15v79.3h-1.15zM355.55 644.1h1.15v79.3h-1.15zM371.59 644.1h1.15v79.3h-1.15zM376.17 644.1h1.15v79.3h-1.15zM378.46 644.1h1.15v79.3h-1.15zM394.49 644.1h1.15v79.3h-1.15zM403.65 644.1h2.29v79.3h-2.29zM426.56 644.1h1.15v79.3h-1.15zM431.14 644.1h1.15v79.3h-1.15zM434.57 644.1h1.15v79.3h-1.15zM436.87 644.1h1.15v79.3h-1.15zM441.45 644.1h1.15v79.3h-1.15zM452.9 644.1h1.15v79.3h-1.15zM457.48 644.1h1.15v79.3h-1.15zM462.06 644.1h1.15v79.3h-1.15zM479.24 644.1h1.15v79.3h-1.15zM482.67 644.1h2.29v79.3h-2.29zM487.25 644.1h1.15v79.3h-1.15zM492.98 644.1h2.29v79.3h-2.29zM498.71 644.1h1.15v79.3h-1.15zM511.3 644.1h1.15v79.3h-1.15zM521.61 644.1h1.15v79.3h-1.15zM534.21 644.1h2.29v79.3h-2.29zM550.24 644.1h1.15v79.3h-1.15zM559.4 644.1h1.15v79.3h-1.15zM566.27 644.1h1.15v79.3h-1.15zM573.15 644.1h1.15v79.3h-1.15zM577.73 644.1h1.15v79.3h-1.15zM583.45 644.1h2.29v79.3h-2.29zM600.63 644.1h1.15v79.3h-1.15zM613.23 644.1h2.29v79.3h-2.29zM617.81 644.1h1.15v79.3h-1.15zM621.25 644.1h1.15v79.3h-1.15zM655.6 644.1h1.15v79.3h-1.15zM657.89 644.1h2.29v79.3h-2.29zM663.62 644.1h2.29v79.3h-2.29zM669.34 644.1h1.15v79.3h-1.15zM679.65 644.1h2.29v79.3h-2.29zM688.81 644.1h2.29v79.3h-2.29zM694.54 644.1h2.29v79.3h-2.29zM697.97 644.1h1.15v79.3h-1.15zM710.57 644.1h1.15v79.3h-1.15zM712.86 644.1h2.29v79.3h-2.29zM719.73 644.1h1.15v79.3h-1.15zM723.17 644.1h2.29v79.3h-2.29zM730.04 644.1h1.15v79.3h-1.15zM734.62 644.1h1.15v79.3h-1.15zM736.91 644.1h1.15v79.3h-1.15zM739.2 644.1h3.44v79.3h-3.44zM746.07 644.1h1.15v79.3h-1.15zM749.51 644.1h2.29v79.3h-2.29z" fill="#1e489e"/>
<path d="M227.29 644.1h1.15v79.3h-1.15zM234.16 644.1h1.15v79.3h-1.15zM238.74 644.1h2.29v79.3h-2.29zM298.29 644.1h1.15v79.3h-1.15zM330.36 644.1h1.15v79.3h-1.15zM346.39 644.1h1.15v79.3h-1.15zM362.43 644.1h1.15v79.3h-1.15zM395.64 644.1h1.15v79.3h-1.15zM409.38 644.1h1.15v79.3h-1.15zM455.19 644.1h1.15v79.3h-1.15zM458.62 644.1h1.15v79.3h-1.15zM505.58 644.1h1.15v79.3h-1.15zM519.32 644.1h2.29v79.3h-2.29zM536.5 644.1h1.15v79.3h-1.15zM558.26 644.1h1.15v79.3h-1.15zM562.84 644.1h1.15v79.3h-1.15zM568.57 644.1h1.15v79.3h-1.15zM588.03 644.1h1.15v79.3h-1.15zM607.5 644.1h1.15v79.3h-1.15zM624.68 644.1h1.15v79.3h-1.15zM696.83 644.1h1.15v79.3h-1.15zM700.27 644.1h1.15v79.3h-1.15z" fill="#2a4da1"/>
<path d="M233.02 644.1h1.15v79.3h-1.15zM236.45 644.1h1.15v79.3h-1.15zM241.03 644.1h1.15v79.3h-1.15zM244.47 644.1h1.15v79.3h-1.15zM257.07 644.1h1.15v79.3h-1.15zM349.83 644.1h1.15v79.3h-1.15zM387.62 644.1h1.15v79.3h-1.15zM407.09 644.1h1.15v79.3h-1.15zM506.72 644.1h1.15v79.3h-1.15zM606.36 644.1h1.15v79.3h-1.15zM622.39 644.1h1.15v79.3h-1.15zM648.73 644.1h1.15v79.3h-1.15zM668.2 644.1h1.15v79.3h-1.15zM671.63 644.1h1.15v79.3h-1.15zM707.14 644.1h1.15v79.3h-1.15z" fill="#4257a8"/>
<path d="M246.76 644.1h1.15v79.3h-1.15zM250.19 644.1h1.15v79.3h-1.15zM252.49 644.1h1.15v79.3h-1.15zM271.95 644.1h1.15v79.3h-1.15zM274.24 644.1h2.29v79.3h-2.29zM284.55 644.1h1.15v79.3h-1.15zM286.84 644.1h1.15v79.3h-1.15zM290.28 644.1h1.15v79.3h-1.15zM304.02 644.1h1.15v79.3h-1.15zM313.18 644.1h1.15v79.3h-1.15zM317.76 644.1h1.15v79.3h-1.15zM320.05 644.1h1.15v79.3h-1.15zM322.34 644.1h1.15v79.3h-1.15zM332.65 644.1h1.15v79.3h-1.15zM334.94 644.1h1.15v79.3h-1.15zM338.38 644.1h1.15v79.3h-1.15zM344.1 644.1h2.29v79.3h-2.29zM347.54 644.1h1.15v79.3h-1.15zM361.28 644.1h1.15v79.3h-1.15zM365.86 644.1h1.15v79.3h-1.15zM370.44 644.1h1.15v79.3h-1.15zM373.88 644.1h1.15v79.3h-1.15zM381.89 644.1h1.15v79.3h-1.15zM385.33 644.1h1.15v79.3h-1.15zM400.22 644.1h1.15v79.3h-1.15zM412.82 644.1h1.15v79.3h-1.15zM418.54 644.1h1.15v79.3h-1.15zM427.7 644.1h2.29v79.3h-2.29zM439.16 644.1h2.29v79.3h-2.29zM442.59 644.1h1.15v79.3h-1.15zM447.17 644.1h1.15v79.3h-1.15zM451.75 644.1h1.15v79.3h-1.15zM454.04 644.1h1.15v79.3h-1.15zM456.33 644.1h1.15v79.3h-1.15zM465.5 644.1h1.15v79.3h-1.15zM470.08 644.1h1.15v79.3h-1.15zM473.51 644.1h1.15v79.3h-1.15zM484.96 644.1h1.15v79.3h-1.15zM488.4 644.1h1.15v79.3h-1.15zM496.42 644.1h2.29v79.3h-2.29zM499.85 644.1h1.15v79.3h-1.15zM512.45 644.1h1.15v79.3h-1.15zM522.76 644.1h3.44v79.3h-3.44zM529.63 644.1h1.15v79.3h-1.15zM533.06 644.1h1.15v79.3h-1.15zM538.79 644.1h1.15v79.3h-1.15zM547.95 644.1h2.29v79.3h-2.29zM553.68 644.1h2.29v79.3h-2.29zM560.55 644.1h2.29v79.3h-2.29zM563.98 644.1h1.15v79.3h-1.15zM569.71 644.1h1.15v79.3h-1.15zM575.44 644.1h1.15v79.3h-1.15zM578.87 644.1h2.29v79.3h-2.29zM586.89 644.1h1.15v79.3h-1.15zM593.76 644.1h1.15v79.3h-1.15zM597.2 644.1h1.15v79.3h-1.15zM601.78 644.1h1.15v79.3h-1.15zM609.79 644.1h1.15v79.3h-1.15zM615.52 644.1h1.15v79.3h-1.15zM626.97 644.1h1.15v79.3h-1.15zM636.13 644.1h2.29v79.3h-2.29zM645.29 644.1h1.15v79.3h-1.15zM654.46 644.1h1.15v79.3h-1.15zM670.49 644.1h1.15v79.3h-1.15zM681.94 644.1h1.15v79.3h-1.15zM685.38 644.1h1.15v79.3h-1.15zM691.1 644.1h1.15v79.3h-1.15zM701.41 644.1h1.15v79.3h-1.15zM709.43 644.1h1.15v79.3h-1.15zM717.44 644.1h1.15v79.3h-1.15zM727.75 644.1h1.15v79.3h-1.15zM732.33 644.1h1.15v79.3h-1.15zM735.77 644.1h1.15v79.3h-1.15zM742.64 644.1h2.29v79.3h-2.29z" fill="#e41a1c"/>
<path d="M247.9 644.1h1.15v79.3h-1.15zM254.78 644.1h1.15v79.3h-1.15zM260.5 644.1h1.15v79.3h-1.15zM268.52 644.1h1.15v79.3h-1.15zM279.97 644.1h1.15v79.3h-1.15zM289.13 644.1h1.15v79.3h-1.15zM294.86 644.1h1.15v79.3h-1.15zM302.87 644.1h1.15v79.3h-1.15zM314.33 644.1h2.29v79.3h-2.29zM326.92 644.1h1.15v79.3h-1.15zM391.06 644.1h1.15v79.3h-1.15zM419.69 644.1h1.15v79.3h-1.15zM468.93 644.1h1.15v79.3h-1.15zM530.77 644.1h1.15v79.3h-1.15zM574.29 644.1h1.15v79.3h-1.15zM590.32 644.1h2.29v79.3h-2.29zM598.34 644.1h1.15v79.3h-1.15zM608.65 644.1h1.15v79.3h-1.15zM610.94 644.1h1.15v79.3h-1.15zM634.99 644.1h1.15v79.3h-1.15zM643 644.1h1.15v79.3h-1.15zM652.17 644.1h1.15v79.3h-1.15zM660.18 644.1h1.15v79.3h-1.15zM672.78 644.1h1.15v79.3h-1.15zM677.36 644.1h1.15v79.3h-1.15zM711.72 644.1h1.15v79.3h-1.15zM726.61 644.1h1.15v79.3h-1.15z" fill="#cbc9e8"/>
<path d="M249.05 644.1h1.15v79.3h-1.15zM259.36 644.1h1.15v79.3h-1.15zM262.79 644.1h1.15v79.3h-1.15zM265.08 644.1h1.15v79.3h-1.15zM281.12 644.1h1.15v79.3h-1.15zM283.41 644.1h1.15v79.3h-1.15zM287.99 644.1h1.15v79.3h-1.15zM316.62 644.1h1.15v79.3h-1.15zM329.21 644.1h1.15v79.3h-1.15zM339.52 644.1h1.15v79.3h-1.15zM342.96 644.1h1.15v79.3h-1.15zM420.83 644.1h1.15v79.3h-1.15zM450.61 644.1h1.15v79.3h-1.15zM459.77 644.1h1.15v79.3h-1.15zM514.74 644.1h1.15v79.3h-1.15zM544.52 644.1h1.15v79.3h-1.15zM582.31 644.1h1.15v79.3h-1.15zM602.92 644.1h1.15v79.3h-1.15zM638.42 644.1h1.15v79.3h-1.15zM644.15 644.1h1.15v79.3h-1.15zM665.91 644.1h1.15v79.3h-1.15zM673.93 644.1h2.29v79.3h-2.29zM703.7 644.1h1.15v79.3h-1.15z" fill="#7c7dbf"/>
<path d="M251.34 644.1h1.15v79.3h-1.15zM253.63 644.1h1.15v79.3h-1.15zM300.58 644.1h1.15v79.3h-1.15zM368.15 644.1h1.15v79.3h-1.15zM383.04 644.1h1.15v79.3h-1.15zM423.12 644.1h1.15v79.3h-1.15zM446.03 644.1h1.15v79.3h-1.15zM463.21 644.1h1.15v79.3h-1.15zM467.79 644.1h1.15v79.3h-1.15zM502.14 644.1h1.15v79.3h-1.15zM526.19 644.1h1.15v79.3h-1.15zM551.39 644.1h1.15v79.3h-1.15zM585.74 644.1h1.15v79.3h-1.15zM592.61 644.1h1.15v79.3h-1.15zM612.08 644.1h1.15v79.3h-1.15zM620.1 644.1h1.15v79.3h-1.15zM647.59 644.1h1.15v79.3h-1.15zM656.75 644.1h1.15v79.3h-1.15zM661.33 644.1h1.15v79.3h-1.15zM686.52 644.1h1.15v79.3h-1.15zM693.39 644.1h1.15v79.3h-1.15zM728.9 644.1h1.15v79.3h-1.15z" fill="#e95759"/>
<path d="M255.92 644.1h1.15v79.3h-1.15zM276.53 644.1h1.15v79.3h-1.15zM360.14 644.1h1.15v79.3h-1.15zM384.19 644.1h1.15v79.3h-1.15zM425.41 644.1h1.15v79.3h-1.15zM475.8 644.1h1.15v79.3h-1.15zM510.16 644.1h1.15v79.3h-1.15zM515.89 644.1h1.15v79.3h-1.15zM528.48 644.1h1.15v79.3h-1.15zM537.64 644.1h1.15v79.3h-1.15zM541.08 644.1h1.15v79.3h-1.15zM565.13 644.1h1.15v79.3h-1.15zM581.16 644.1h1.15v79.3h-1.15zM641.86 644.1h1.15v79.3h-1.15zM646.44 644.1h1.15v79.3h-1.15zM649.88 644.1h1.15v79.3h-1.15zM653.31 644.1h1.15v79.3h-1.15zM678.51 644.1h1.15v79.3h-1.15zM692.25 644.1h1.15v79.3h-1.15zM715.15 644.1h2.29v79.3h-2.29z" fill="#e74042"/>
<path d="M258.21 644.1h1.15v79.3h-1.15zM325.78 644.1h1.15v79.3h-1.15zM341.81 644.1h1.15v79.3h-1.15zM354.41 644.1h1.15v79.3h-1.15zM393.35 644.1h1.15v79.3h-1.15zM397.93 644.1h1.15v79.3h-1.15zM413.96 644.1h2.29v79.3h-2.29zM421.98 644.1h1.15v79.3h-1.15zM444.88 644.1h1.15v79.3h-1.15zM448.32 644.1h1.15v79.3h-1.15zM466.64 644.1h1.15v79.3h-1.15zM471.22 644.1h1.15v79.3h-1.15zM490.69 644.1h1.15v79.3h-1.15zM509.01 644.1h1.15v79.3h-1.15zM518.18 644.1h1.15v79.3h-1.15zM539.93 644.1h1.15v79.3h-1.15zM616.66 644.1h1.15v79.3h-1.15zM629.26 644.1h1.15v79.3h-1.15zM744.93 644.1h1.15v79.3h-1.15z" fill="#a4a3d4"/>
<path d="M261.65 644.1h1.15v79.3h-1.15zM266.23 644.1h1.15v79.3h-1.15zM321.2 644.1h1.15v79.3h-1.15zM336.09 644.1h2.29v79.3h-2.29zM340.67 644.1h1.15v79.3h-1.15zM348.68 644.1h1.15v79.3h-1.15zM357.85 644.1h2.29v79.3h-2.29zM443.74 644.1h1.15v79.3h-1.15zM460.91 644.1h1.15v79.3h-1.15zM555.97 644.1h2.29v79.3h-2.29zM567.42 644.1h1.15v79.3h-1.15zM596.05 644.1h1.15v79.3h-1.15zM625.83 644.1h1.15v79.3h-1.15zM640.71 644.1h1.15v79.3h-1.15zM651.02 644.1h1.15v79.3h-1.15zM684.23 644.1h1.15v79.3h-1.15zM704.85 644.1h1.15v79.3h-1.15zM708.28 644.1h1.15v79.3h-1.15zM725.46 644.1h1.15v79.3h-1.15zM731.19 644.1h1.15v79.3h-1.15z" fill="#e52a2c"/>
<path d="M263.94 644.1h1.15v79.3h-1.15zM293.71 644.1h1.15v79.3h-1.15zM305.17 644.1h1.15v79.3h-1.15zM324.63 644.1h1.15v79.3h-1.15zM352.12 644.1h2.29v79.3h-2.29zM364.72 644.1h1.15v79.3h-1.15zM389.91 644.1h1.15v79.3h-1.15zM405.94 644.1h1.15v79.3h-1.15zM408.23 644.1h1.15v79.3h-1.15zM433.43 644.1h1.15v79.3h-1.15zM438.01 644.1h1.15v79.3h-1.15zM486.11 644.1h1.15v79.3h-1.15zM504.43 644.1h1.15v79.3h-1.15zM517.03 644.1h1.15v79.3h-1.15zM527.34 644.1h1.15v79.3h-1.15zM531.92 644.1h1.15v79.3h-1.15zM628.12 644.1h1.15v79.3h-1.15zM633.84 644.1h1.15v79.3h-1.15zM639.57 644.1h1.15v79.3h-1.15zM705.99 644.1h1.15v79.3h-1.15zM718.59 644.1h1.15v79.3h-1.15zM748.36 644.1h1.15v79.3h-1.15z" fill="#ed7a7c"/>
<path d="M269.66 644.1h1.15v79.3h-1.15zM273.1 644.1h1.15v79.3h-1.15zM282.26 644.1h1.15v79.3h-1.15zM297.15 644.1h1.15v79.3h-1.15zM301.73 644.1h1.15v79.3h-1.15zM307.46 644.1h1.15v79.3h-1.15zM333.8 644.1h1.15v79.3h-1.15zM350.97 644.1h1.15v79.3h-1.15zM367.01 644.1h1.15v79.3h-1.15zM375.02 644.1h1.15v79.3h-1.15zM380.75 644.1h1.15v79.3h-1.15zM386.48 644.1h1.15v79.3h-1.15zM401.36 644.1h1.15v79.3h-1.15zM416.25 644.1h1.15v79.3h-1.15zM424.27 644.1h1.15v79.3h-1.15zM432.28 644.1h1.15v79.3h-1.15zM478.09 644.1h1.15v79.3h-1.15zM491.84 644.1h1.15v79.3h-1.15zM543.37 644.1h1.15v79.3h-1.15zM623.54 644.1h1.15v79.3h-1.15zM699.12 644.1h1.15v79.3h-1.15z" fill="#f2a3a4"/>
<path d="M277.68 644.1h1.15v79.3h-1.15zM308.6 644.1h1.15v79.3h-1.15zM323.49 644.1h1.15v79.3h-1.15zM363.57 644.1h1.15v79.3h-1.15zM372.73 644.1h1.15v79.3h-1.15zM388.77 644.1h1.15v79.3h-1.15zM396.78 644.1h1.15v79.3h-1.15zM402.51 644.1h1.15v79.3h-1.15zM411.67 644.1h1.15v79.3h-1.15zM429.99 644.1h1.15v79.3h-1.15zM449.46 644.1h1.15v79.3h-1.15zM472.37 644.1h1.15v79.3h-1.15zM542.23 644.1h1.15v79.3h-1.15zM545.66 644.1h2.29v79.3h-2.29zM552.53 644.1h1.15v79.3h-1.15zM589.18 644.1h1.15v79.3h-1.15zM599.49 644.1h1.15v79.3h-1.15zM618.95 644.1h1.15v79.3h-1.15zM630.41 644.1h1.15v79.3h-1.15zM632.7 644.1h1.15v79.3h-1.15zM683.09 644.1h1.15v79.3h-1.15zM720.88 644.1h1.15v79.3h-1.15zM738.06 644.1h1.15v79.3h-1.15zM747.22 644.1h1.15v79.3h-1.15z" fill="#fcf2f2"/>
<path d="M291.42 644.1h1.15v79.3h-1.15zM318.91 644.1h1.15v79.3h-1.15zM356.7 644.1h1.15v79.3h-1.15zM369.3 644.1h1.15v79.3h-1.15zM377.31 644.1h1.15v79.3h-1.15zM399.07 644.1h1.15v79.3h-1.15zM410.53 644.1h1.15v79.3h-1.15zM417.4 644.1h1.15v79.3h-1.15zM435.72 644.1h1.15v79.3h-1.15zM474.66 644.1h1.15v79.3h-1.15zM480.38 644.1h1.15v79.3h-1.15zM501 644.1h1.15v79.3h-1.15zM503.29 644.1h1.15v79.3h-1.15zM605.21 644.1h1.15v79.3h-1.15zM662.47 644.1h1.15v79.3h-1.15zM667.05 644.1h1.15v79.3h-1.15zM676.22 644.1h1.15v79.3h-1.15zM687.67 644.1h1.15v79.3h-1.15zM733.48 644.1h1.15v79.3h-1.15z" fill="#f7caca"/>
<path d="M225 723.4h1.15v79.3h-1.15zM234.16 723.4h2.29v79.3h-2.29zM249.05 723.4h1.15v79.3h-1.15zM251.34 723.4h1.15v79.3h-1.15zM257.07 723.4h1.15v79.3h-1.15zM261.65 723.4h1.15v79.3h-1.15zM284.55 723.4h1.15v79.3h-1.15zM290.28 723.4h1.15v79.3h-1.15zM297.15 723.4h1.15v79.3h-1.15zM334.94 723.4h1.15v79.3h-1.15zM337.23 723.4h1.15v79.3h-1.15zM349.83 723.4h1.15v79.3h-1.15zM381.89 723.4h1.15v79.3h-1.15zM394.49 723.4h2.29v79.3h-2.29zM397.93 723.4h1.15v79.3h-1.15zM424.27 723.4h1.15v79.3h-1.15zM428.85 723.4h1.15v79.3h-1.15zM491.84 723.4h1.15v79.3h-1.15zM506.72 723.4h1.15v79.3h-1.15zM561.69 723.4h1.15v79.3h-1.15zM583.45 723.4h1.15v79.3h-1.15zM591.47 723.4h1.15v79.3h-1.15zM613.23 723.4h1.15v79.3h-1.15zM617.81 723.4h1.15v79.3h-1.15zM626.97 723.4h1.15v79.3h-1.15zM639.57 723.4h1.15v79.3h-1.15zM656.75 723.4h1.15v79.3h-1.15zM663.62 723.4h1.15v79.3h-1.15zM702.56 723.4h2.29v79.3h-2.29zM731.19 723.4h1.15v79.3h-1.15zM734.62 723.4h1.15v79.3h-1.15zM742.64 723.4h1.15v79.3h-1.15zM746.07 723.4h1.15v79.3h-1.15z" fill="#ed7a7c"/>
<path d="M226.15 723.4h1.15v79.3h-1.15zM241.03 723.4h2.29v79.3h-2.29zM306.31 723.4h1.15v79.3h-1.15zM325.78 723.4h1.15v79.3h-1.15zM354.41 723.4h1.15v79.3h-1.15zM364.72 723.4h1.15v79.3h-1.15zM388.77 723.4h1.15v79.3h-1.15zM442.59 723.4h1.15v79.3h-1.15zM451.75 723.4h1.15v79.3h-1.15zM514.74 723.4h1.15v79.3h-1.15zM537.64 723.4h1.15v79.3h-1.15zM552.53 723.4h1.15v79.3h-1.15zM586.89 723.4h1.15v79.3h-1.15zM599.49 723.4h1.15v79.3h-1.15zM604.07 723.4h1.15v79.3h-1.15zM620.1 723.4h1.15v79.3h-1.15zM646.44 723.4h1.15v79.3h-1.15zM686.52 723.4h1.15v79.3h-1.15zM688.81 723.4h1.15v79.3h-1.15zM717.44 723.4h1.15v79.3h-1.15zM733.48 723.4h1.15v79.3h-1.15z" fill="#e74042"/>
<path d="M227.29 723.4h2.29v79.3h-2.29zM231.87 723.4h1.15v79.3h-1.15zM236.45 723.4h1.15v79.3h-1.15zM239.89 723.4h1.15v79.3h-1.15zM244.47 723.4h1.15v79.3h-1.15zM250.19 723.4h1.15v79.3h-1.15zM259.36 723.4h1.15v79.3h-1.15zM294.86 723.4h1.15v79.3h-1.15zM298.29 723.4h1.15v79.3h-1.15zM302.87 723.4h1.15v79.3h-1.15zM316.62 723.4h1.15v79.3h-1.15zM330.36 723.4h1.15v79.3h-1.15zM342.96 723.4h1.15v79.3h-1.15zM454.04 723.4h1.15v79.3h-1.15zM498.71 723.4h1.15v79.3h-1.15zM533.06 723.4h1.15v79.3h-1.15zM539.93 723.4h1.15v79.3h-1.15zM570.86 723.4h1.15v79.3h-1.15zM582.31 723.4h1.15v79.3h-1.15zM648.73 723.4h1.15v79.3h-1.15zM730.04 723.4h1.15v79.3h-1.15z" fill="#e95759"/>
<path d="M229.58 723.4h1.15v79.3h-1.15zM269.66 723.4h1.15v79.3h-1.15zM287.99 723.4h1.15v79.3h-1.15zM320.05 723.4h1.15v79.3h-1.15zM331.51 723.4h1.15v79.3h-1.15zM367.01 723.4h2.29v79.3h-2.29zM372.73 723.4h1.15v79.3h-1.15zM377.31 723.4h1.15v79.3h-1.15zM386.48 723.4h1.15v79.3h-1.15zM402.51 723.4h1.15v79.3h-1.15zM410.53 723.4h1.15v79.3h-1.15zM421.98 723.4h1.15v79.3h-1.15zM429.99 723.4h1.15v79.3h-1.15zM434.57 723.4h2.29v79.3h-2.29zM444.88 723.4h2.29v79.3h-2.29zM471.22 723.4h1.15v79.3h-1.15zM475.8 723.4h1.15v79.3h-1.15zM482.67 723.4h1.15v79.3h-1.15zM499.85 723.4h1.15v79.3h-1.15zM553.68 723.4h1.15v79.3h-1.15zM588.03 723.4h1.15v79.3h-1.15zM614.37 723.4h2.29v79.3h-2.29zM637.28 723.4h1.15v79.3h-1.15zM647.59 723.4h1.15v79.3h-1.15zM662.47 723.4h1.15v79.3h-1.15zM665.91 723.4h1.15v79.3h-1.15zM683.09 723.4h1.15v79.3h-1.15zM707.14 723.4h2.29v79.3h-2.29zM728.9 723.4h1.15v79.3h-1.15zM749.51 723.4h2.29v79.3h-2.29z" fill="#f7caca"/>
<path d="M230.73 723.4h1.15v79.3h-1.15zM283.41 723.4h1.15v79.3h-1.15zM321.2 723.4h1.15v79.3h-1.15zM361.28 723.4h1.15v79.3h-1.15zM418.54 723.4h1.15v79.3h-1.15zM473.51 723.4h1.15v79.3h-1.15zM478.09 723.4h1.15v79.3h-1.15zM489.55 723.4h1.15v79.3h-1.15zM492.98 723.4h1.15v79.3h-1.15zM505.58 723.4h1.15v79.3h-1.15zM512.45 723.4h1.15v79.3h-1.15zM518.18 723.4h1.15v79.3h-1.15zM523.9 723.4h1.15v79.3h-1.15zM542.23 723.4h1.15v79.3h-1.15zM572 723.4h1.15v79.3h-1.15zM612.08 723.4h1.15v79.3h-1.15zM623.54 723.4h1.15v79.3h-1.15zM638.42 723.4h1.15v79.3h-1.15zM680.8 723.4h1.15v79.3h-1.15zM693.39 723.4h1.15v79.3h-1.15zM748.36 723.4h1.15v79.3h-1.15z" fill="#cbc9e8"/>
<path d="M233.02 723.4h1.15v79.3h-1.15zM237.6 723.4h1.15v79.3h-1.15zM265.08 723.4h1.15v79.3h-1.15zM267.37 723.4h1.15v79.3h-1.15zM277.68 723.4h1.15v79.3h-1.15zM305.17 723.4h1.15v79.3h-1.15zM317.76 723.4h1.15v79.3h-1.15zM338.38 723.4h1.15v79.3h-1.15zM347.54 723.4h2.29v79.3h-2.29zM353.26 723.4h1.15v79.3h-1.15zM356.7 723.4h1.15v79.3h-1.15zM369.3 723.4h1.15v79.3h-1.15zM387.62 723.4h1.15v79.3h-1.15zM407.09 723.4h1.15v79.3h-1.15zM419.69 723.4h1.15v79.3h-1.15zM433.43 723.4h1.15v79.3h-1.15zM438.01 723.4h1.15v79.3h-1.15zM470.08 723.4h1.15v79.3h-1.15zM487.25 723.4h1.15v79.3h-1.15zM495.27 723.4h1.15v79.3h-1.15zM507.87 723.4h1.15v79.3h-1.15zM559.4 723.4h1.15v79.3h-1.15zM601.78 723.4h2.29v79.3h-2.29zM625.83 723.4h1.15v79.3h-1.15zM655.6 723.4h1.15v79.3h-1.15zM685.38 723.4h1.15v79.3h-1.15zM692.25 723.4h1.15v79.3h-1.15zM697.97 723.4h1.15v79.3h-1.15zM700.27 723.4h1.15v79.3h-1.15zM704.85 723.4h1.15v79.3h-1.15zM710.57 723.4h2.29v79.3h-2.29zM718.59 723.4h1.15v79.3h-1.15zM724.31 723.4h1.15v79.3h-1.15zM741.49 723.4h1.15v79.3h-1.15z" fill="#f2a3a4"/>
<path d="M238.74 723.4h1.15v79.3h-1.15zM243.32 723.4h1.15v79.3h-1.15zM282.26 723.4h1.15v79.3h-1.15zM328.07 723.4h1.15v79.3h-1.15zM373.88 723.4h1.15v79.3h-1.15zM380.75 723.4h1.15v79.3h-1.15zM389.91 723.4h1.15v79.3h-1.15zM393.35 723.4h1.15v79.3h-1.15zM479.24 723.4h1.15v79.3h-1.15zM528.48 723.4h1.15v79.3h-1.15zM535.35 723.4h1.15v79.3h-1.15zM538.79 723.4h1.15v79.3h-1.15zM569.71 723.4h1.15v79.3h-1.15zM618.95 723.4h1.15v79.3h-1.15zM634.99 723.4h1.15v79.3h-1.15zM714.01 723.4h1.15v79.3h-1.15z" fill="#e52a2c"/>
<path d="M245.61 723.4h1.15v79.3h-1.15zM276.53 723.4h1.15v79.3h-1.15zM281.12 723.4h1.15v79.3h-1.15zM285.7 723.4h1.15v79.3h-1.15zM301.73 723.4h1.15v79.3h-1.15zM323.49 723.4h1.15v79.3h-1.15zM329.21 723.4h1.15v79.3h-1.15zM362.43 723.4h1.15v79.3h-1.15zM371.59 723.4h1.15v79.3h-1.15zM403.65 723.4h1.15v79.3h-1.15zM447.17 723.4h1.15v79.3h-1.15zM462.06 723.4h1.15v79.3h-1.15zM466.64 723.4h1.15v79.3h-1.15zM474.66 723.4h1.15v79.3h-1.15zM476.95 723.4h1.15v79.3h-1.15zM504.43 723.4h1.15v79.3h-1.15zM522.76 723.4h1.15v79.3h-1.15zM534.21 723.4h1.15v79.3h-1.15zM547.95 723.4h1.15v79.3h-1.15zM550.24 723.4h1.15v79.3h-1.15zM596.05 723.4h1.15v79.3h-1.15zM598.34 723.4h1.15v79.3h-1.15zM632.7 723.4h1.15v79.3h-1.15zM659.04 723.4h1.15v79.3h-1.15zM673.93 723.4h1.15v79.3h-1.15zM677.36 723.4h2.29v79.3h-2.29zM696.83 723.4h1.15v79.3h-1.15zM719.73 723.4h1.15v79.3h-1.15zM738.06 723.4h1.15v79.3h-1.15z" fill="#fcf2f2"/>
<path d="M246.76 723.4h1.15v79.3h-1.15zM252.49 723.4h3.44v79.3h-3.44zM296 723.4h1.15v79.3h-1.15zM308.6 723.4h1.15v79.3h-1.15zM357.85 723.4h1.15v79.3h-1.15zM441.45 723.4h1.15v79.3h-1.15zM464.35 723.4h1.15v79.3h-1.15zM497.56 723.4h1.15v79.3h-1.15zM501 723.4h1.15v79.3h-1.15zM544.52 723.4h1.15v79.3h-1.15zM576.58 723.4h1.15v79.3h-1.15zM589.18 723.4h1.15v79.3h-1.15zM593.76 723.4h1.15v79.3h-1.15zM640.71 723.4h1.15v79.3h-1.15zM705.99 723.4h1.15v79.3h-1.15z" fill="#5b62af"/>
<path d="M247.9 723.4h1.15v79.3h-1.15zM255.92 723.4h1.15v79.3h-1.15zM258.21 723.4h1.15v79.3h-1.15zM260.5 723.4h1.15v79.3h-1.15zM263.94 723.4h1.15v79.3h-1.15zM266.23 723.4h1.15v79.3h-1.15zM278.83 723.4h2.29v79.3h-2.29zM299.44 723.4h1.15v79.3h-1.15zM304.02 723.4h1.15v79.3h-1.15zM309.75 723.4h1.15v79.3h-1.15zM312.04 723.4h1.15v79.3h-1.15zM318.91 723.4h1.15v79.3h-1.15zM324.63 723.4h1.15v79.3h-1.15zM326.92 723.4h1.15v79.3h-1.15zM333.8 723.4h1.15v79.3h-1.15zM339.52 723.4h2.29v79.3h-2.29zM344.1 723.4h1.15v79.3h-1.15zM355.55 723.4h1.15v79.3h-1.15zM360.14 723.4h1.15v79.3h-1.15zM370.44 723.4h1.15v79.3h-1.15zM378.46 723.4h1.15v79.3h-1.15zM392.2 723.4h1.15v79.3h-1.15zM411.67 723.4h1.15v79.3h-1.15zM415.11 723.4h2.29v79.3h-2.29zM420.83 723.4h1.15v79.3h-1.15zM423.12 723.4h1.15v79.3h-1.15zM431.14 723.4h1.15v79.3h-1.15zM436.87 723.4h1.15v79.3h-1.15zM439.16 723.4h2.29v79.3h-2.29zM449.46 723.4h1.15v79.3h-1.15zM452.9 723.4h1.15v79.3h-1.15zM455.19 723.4h4.58v79.3h-4.58zM460.91 723.4h1.15v79.3h-1.15zM488.4 723.4h1.15v79.3h-1.15zM520.47 723.4h1.15v79.3h-1.15zM529.63 723.4h2.29v79.3h-2.29zM541.08 723.4h1.15v79.3h-1.15zM543.37 723.4h1.15v79.3h-1.15zM545.66 723.4h1.15v79.3h-1.15zM551.39 723.4h1.15v79.3h-1.15zM554.82 723.4h1.15v79.3h-1.15zM558.26 723.4h1.15v79.3h-1.15zM563.98 723.4h2.29v79.3h-2.29zM567.42 723.4h1.15v79.3h-1.15zM578.87 723.4h1.15v79.3h-1.15zM585.74 723.4h1.15v79.3h-1.15zM592.61 723.4h1.15v79.3h-1.15zM600.63 723.4h1.15v79.3h-1.15zM605.21 723.4h1.15v79.3h-1.15zM621.25 723.4h1.15v79.3h-1.15zM624.68 723.4h1.15v79.3h-1.15zM629.26 723.4h1.15v79.3h-1.15zM641.86 723.4h1.15v79.3h-1.15zM657.89 723.4h1.15v79.3h-1.15zM664.76 723.4h1.15v79.3h-1.15zM667.05 723.4h2.29v79.3h-2.29zM670.49 723.4h3.44v79.3h-3.44zM675.07 723.4h1.15v79.3h-1.15zM679.65 723.4h1.15v79.3h-1.15zM681.94 723.4h1.15v79.3h-1.15zM709.43 723.4h1.15v79.3h-1.15zM715.15 723.4h1.15v79.3h-1.15zM722.02 723.4h1.15v79.3h-1.15zM726.61 723.4h1.15v79.3h-1.15zM735.77 723.4h1.15v79.3h-1.15zM743.78 723.4h1.15v79.3h-1.15zM747.22 723.4h1.15v79.3h-1.15z" fill="#e41a1c"/>
<path d="M262.79 723.4h1.15v79.3h-1.15zM270.81 723.4h2.29v79.3h-2.29zM275.39 723.4h1.15v79.3h-1.15zM289.13 723.4h1.15v79.3h-1.15zM292.57 723.4h1.15v79.3h-1.15zM300.58 723.4h1.15v79.3h-1.15zM307.46 723.4h1.15v79.3h-1.15zM315.47 723.4h1.15v79.3h-1.15zM322.34 723.4h1.15v79.3h-1.15zM332.65 723.4h1.15v79.3h-1.15zM336.09 723.4h1.15v79.3h-1.15zM341.81 723.4h1.15v79.3h-1.15zM346.39 723.4h1.15v79.3h-1.15zM350.97 723.4h1.15v79.3h-1.15zM358.99 723.4h1.15v79.3h-1.15zM365.86 723.4h1.15v79.3h-1.15zM375.02 723.4h1.15v79.3h-1.15zM383.04 723.4h3.44v79.3h-3.44zM396.78 723.4h1.15v79.3h-1.15zM399.07 723.4h2.29v79.3h-2.29zM409.38 723.4h1.15v79.3h-1.15zM413.96 723.4h1.15v79.3h-1.15zM425.41 723.4h3.44v79.3h-3.44zM459.77 723.4h1.15v79.3h-1.15zM463.21 723.4h1.15v79.3h-1.15zM465.5 723.4h1.15v79.3h-1.15zM467.79 723.4h2.29v79.3h-2.29zM480.38 723.4h1.15v79.3h-1.15zM494.13 723.4h1.15v79.3h-1.15zM502.14 723.4h2.29v79.3h-2.29zM510.16 723.4h2.29v79.3h-2.29zM513.59 723.4h1.15v79.3h-1.15zM515.89 723.4h2.29v79.3h-2.29zM519.32 723.4h1.15v79.3h-1.15zM526.19 723.4h2.29v79.3h-2.29zM531.92 723.4h1.15v79.3h-1.15zM546.81 723.4h1.15v79.3h-1.15zM555.97 723.4h1.15v79.3h-1.15zM560.55 723.4h1.15v79.3h-1.15zM562.84 723.4h1.15v79.3h-1.15zM573.15 723.4h1.15v79.3h-1.15zM575.44 723.4h1.15v79.3h-1.15zM577.73 723.4h1.15v79.3h-1.15zM581.16 723.4h1.15v79.3h-1.15zM590.32 723.4h1.15v79.3h-1.15zM594.91 723.4h1.15v79.3h-1.15zM597.2 723.4h1.15v79.3h-1.15zM607.5 723.4h1.15v79.3h-1.15zM609.79 723.4h1.15v79.3h-1.15zM631.55 723.4h1.15v79.3h-1.15zM643 723.4h1.15v79.3h-1.15zM652.17 723.4h1.15v79.3h-1.15zM661.33 723.4h1.15v79.3h-1.15zM669.34 723.4h1.15v79.3h-1.15zM695.68 723.4h1.15v79.3h-1.15zM701.41 723.4h1.15v79.3h-1.15zM720.88 723.4h1.15v79.3h-1.15zM723.17 723.4h1.15v79.3h-1.15z" fill="#1e489e"/>
<path d="M268.52 723.4h1.15v79.3h-1.15zM291.42 723.4h1.15v79.3h-1.15zM293.71 723.4h1.15v79.3h-1.15zM310.89 723.4h1.15v79.3h-1.15zM314.33 723.4h1.15v79.3h-1.15zM376.17 723.4h1.15v79.3h-1.15zM401.36 723.4h1.15v79.3h-1.15zM404.8 723.4h1.15v79.3h-1.15zM412.82 723.4h1.15v79.3h-1.15zM417.4 723.4h1.15v79.3h-1.15zM432.28 723.4h1.15v79.3h-1.15zM443.74 723.4h1.15v79.3h-1.15zM450.61 723.4h1.15v79.3h-1.15zM483.82 723.4h1.15v79.3h-1.15zM490.69 723.4h1.15v79.3h-1.15zM496.42 723.4h1.15v79.3h-1.15zM574.29 723.4h1.15v79.3h-1.15zM606.36 723.4h1.15v79.3h-1.15zM616.66 723.4h1.15v79.3h-1.15zM622.39 723.4h1.15v79.3h-1.15zM628.12 723.4h1.15v79.3h-1.15zM630.41 723.4h1.15v79.3h-1.15zM636.13 723.4h1.15v79.3h-1.15zM644.15 723.4h1.15v79.3h-1.15zM649.88 723.4h1.15v79.3h-1.15zM653.31 723.4h1.15v79.3h-1.15zM725.46 723.4h1.15v79.3h-1.15zM739.2 723.4h1.15v79.3h-1.15zM744.93 723.4h1.15v79.3h-1.15z" fill="#a4a3d4"/>
<path d="M273.1 723.4h1.15v79.3h-1.15zM345.25 723.4h1.15v79.3h-1.15zM363.57 723.4h1.15v79.3h-1.15zM405.94 723.4h1.15v79.3h-1.15zM521.61 723.4h1.15v79.3h-1.15zM580.02 723.4h1.15v79.3h-1.15zM610.94 723.4h1.15v79.3h-1.15zM691.1 723.4h1.15v79.3h-1.15zM694.54 723.4h1.15v79.3h-1.15z" fill="#2a4da1"/>
<path d="M274.24 723.4h1.15v79.3h-1.15zM286.84 723.4h1.15v79.3h-1.15zM352.12 723.4h1.15v79.3h-1.15zM391.06 723.4h1.15v79.3h-1.15zM448.32 723.4h1.15v79.3h-1.15zM481.53 723.4h1.15v79.3h-1.15zM484.96 723.4h2.29v79.3h-2.29zM509.01 723.4h1.15v79.3h-1.15zM536.5 723.4h1.15v79.3h-1.15zM566.27 723.4h1.15v79.3h-1.15zM584.6 723.4h1.15v79.3h-1.15zM633.84 723.4h1.15v79.3h-1.15zM654.46 723.4h1.15v79.3h-1.15zM676.22 723.4h1.15v79.3h-1.15zM699.12 723.4h1.15v79.3h-1.15zM716.3 723.4h1.15v79.3h-1.15zM727.75 723.4h1.15v79.3h-1.15zM732.33 723.4h1.15v79.3h-1.15zM736.91 723.4h1.15v79.3h-1.15z" fill="#7c7dbf"/>
<path d="M313.18 723.4h1.15v79.3h-1.15zM379.6 723.4h1.15v79.3h-1.15zM408.23 723.4h1.15v79.3h-1.15zM472.37 723.4h1.15v79.3h-1.15zM525.05 723.4h1.15v79.3h-1.15zM549.1 723.4h1.15v79.3h-1.15zM557.11 723.4h1.15v79.3h-1.15zM568.57 723.4h1.15v79.3h-1.15zM608.65 723.4h1.15v79.3h-1.15zM645.29 723.4h1.15v79.3h-1.15zM651.02 723.4h1.15v79.3h-1.15zM660.18 723.4h1.15v79.3h-1.15zM684.23 723.4h1.15v79.3h-1.15zM687.67 723.4h1.15v79.3h-1.15zM689.96 723.4h1.15v79.3h-1.15zM712.86 723.4h1.15v79.3h-1.15zM740.35 723.4h1.15v79.3h-1.15z" fill="#4257a8"/>
</g>
<path d="M225 128.3 L124.5 128.3 L124.5 358.7 L139.4 358.7" fill="none" stroke="#111" stroke-width="1.6" />
<path d="M157 207.6 L157 286.7" fill="none" stroke="#111" stroke-width="2" />
<path d="M225 207.6 L157 207.6" fill="none" stroke="#111" stroke-width="2" />
<path d="M225 286.7 L157 286.7" fill="none" stroke="#111" stroke-width="2" />
<path d="M157 247 L139.4 247 L139.4 471 L148.5 471" fill="none" stroke="#111" stroke-width="1.6" />
<path d="M225 366 L148.5 366 L148.5 575 L151.2 575" fill="none" stroke="#111" stroke-width="1.6" />
<path d="M225 445.5 L164.4 445.5 L164.4 524.8 L225 524.8" fill="none" stroke="#111" stroke-width="2" />
<path d="M164.4 485.6 L151.2 485.6 L151.2 664.2 L159.2 664.2" fill="none" stroke="#111" stroke-width="1.6" />
<path d="M225 604.2 L159.2 604.2 L159.2 723.6 L180 723.6" fill="none" stroke="#111" stroke-width="2" />
<path d="M225 683.6 L180 683.6 L180 763.3 L225 763.3" fill="none" stroke="#111" stroke-width="2" />
<text x="758" y="134.5" font-size="27" textLength="132.3" lengthAdjust="spacingAndGlyphs">Oxeiptosis***</text>
<text x="758" y="213.3" font-size="27" textLength="133" lengthAdjust="spacingAndGlyphs">Pyroptosis***</text>
<text x="758" y="371.1" font-size="27" textLength="139.6" lengthAdjust="spacingAndGlyphs">Ferroptosis***</text>
<text x="758" y="451.9" font-size="27" textLength="135.6" lengthAdjust="spacingAndGlyphs">Autophagy***</text>
<text x="758" y="530.7" font-size="27" textLength="131.7" lengthAdjust="spacingAndGlyphs">Alkaliptosis**</text>
<text x="758" y="610.4" font-size="27" textLength="101.4" lengthAdjust="spacingAndGlyphs">Entosis***</text>
<text x="758" y="689.2" font-size="27" textLength="126.8" lengthAdjust="spacingAndGlyphs">Apoptosis***</text>
<text x="758" y="768.3" font-size="27" textLength="81.8" lengthAdjust="spacingAndGlyphs">Anoikis*</text>
<text x="758" y="275.1" font-size="27" textLength="102" lengthAdjust="spacingAndGlyphs">Lysosome-</text>
<text x="758" y="303.8" font-size="27" textLength="199.2" lengthAdjust="spacingAndGlyphs">dependentcelldeath**</text>
<text x="757.5" y="79.7" font-size="27.5" font-weight="bold" textLength="51.5" lengthAdjust="spacingAndGlyphs">Type</text>
<defs><linearGradient id="hg" x1="0" y1="0" x2="0" y2="1"><stop offset="0" stop-color="#e41a1c"/><stop offset="0.25" stop-color="#e41a1c"/><stop offset="0.36" stop-color="#e8585a"/><stop offset="0.45" stop-color="#f6c3c3"/><stop offset="0.497" stop-color="#ffffff"/><stop offset="0.55" stop-color="#c5c8e6"/><stop offset="0.63" stop-color="#5f73b8"/><stop offset="0.71" stop-color="#1e489e"/><stop offset="1" stop-color="#1e489e"/></linearGradient></defs>
<rect x="967.1" y="63.1" width="19.1" height="353.2" fill="url(#hg)" />
<text x="994" y="126.6" font-size="15.5" fill="#222" textLength="6.6" lengthAdjust="spacingAndGlyphs">2</text>
<text x="994" y="186.3" font-size="15.5" fill="#222" textLength="6.6" lengthAdjust="spacingAndGlyphs">1</text>
<text x="994" y="244.8" font-size="15.5" fill="#222" textLength="6.6" lengthAdjust="spacingAndGlyphs">0</text>
<text x="994" y="304.4" font-size="15.5" fill="#222" textLength="14" lengthAdjust="spacingAndGlyphs">−1</text>
<text x="994" y="364" font-size="15.5" fill="#222" textLength="14" lengthAdjust="spacingAndGlyphs">−2</text>
<text x="1008" y="68.6" font-size="18" font-weight="bold" fill="#222" textLength="25.6" lengthAdjust="spacingAndGlyphs">Type</text>
<rect x="1009.9" y="81.2" width="19.7" height="23.6" fill="#49bbc4" />
<rect x="1009.9" y="104.8" width="19.7" height="22.9" fill="#f08a80" />
<text x="1033.6" y="98.7" font-size="18.7" fill="#222" textLength="49.3" lengthAdjust="spacingAndGlyphs">Normal</text>
<text x="1033.6" y="121.6" font-size="18.7" fill="#222" textLength="41.9" lengthAdjust="spacingAndGlyphs">Tumor</text>
<text x="1093" y="58.4" font-size="42.5" fill="#111" font-family="'Liberation Serif', 'Times New Roman', serif">B</text>
<text x="1419.6" y="55.2" font-size="20.5" font-weight="bold" fill="#111" textLength="162" lengthAdjust="spacingAndGlyphs">consensus CDF</text>
<rect x="1210.4" y="92.2" width="581.5" height="536.7" fill="none" stroke="#111" stroke-width="1.6" />
<line x1="1197.8" y1="608.6" x2="1210.4" y2="608.6" stroke="#111" stroke-width="1.6" />
<text x="1187.8" y="616.2" font-size="17.4" text-anchor="end" fill="#111" textLength="24.2" lengthAdjust="spacingAndGlyphs">0.0</text>
<line x1="1197.8" y1="509" x2="1210.4" y2="509" stroke="#111" stroke-width="1.6" />
<text x="1187.8" y="516.6" font-size="17.4" text-anchor="end" fill="#111" textLength="24.2" lengthAdjust="spacingAndGlyphs">0.2</text>
<line x1="1197.8" y1="409.4" x2="1210.4" y2="409.4" stroke="#111" stroke-width="1.6" />
<text x="1187.8" y="417" font-size="17.4" text-anchor="end" fill="#111" textLength="24.2" lengthAdjust="spacingAndGlyphs">0.4</text>
<line x1="1197.8" y1="309.8" x2="1210.4" y2="309.8" stroke="#111" stroke-width="1.6" />
<text x="1187.8" y="317.4" font-size="17.4" text-anchor="end" fill="#111" textLength="24.2" lengthAdjust="spacingAndGlyphs">0.6</text>
<line x1="1197.8" y1="210.2" x2="1210.4" y2="210.2" stroke="#111" stroke-width="1.6" />
<text x="1187.8" y="217.8" font-size="17.4" text-anchor="end" fill="#111" textLength="24.2" lengthAdjust="spacingAndGlyphs">0.8</text>
<line x1="1197.8" y1="110.6" x2="1210.4" y2="110.6" stroke="#111" stroke-width="1.6" />
<text x="1187.8" y="118.2" font-size="17.4" text-anchor="end" fill="#111" textLength="24.2" lengthAdjust="spacingAndGlyphs">1.0</text>
<line x1="1231.7" y1="628.9" x2="1231.7" y2="640.4" stroke="#111" stroke-width="1.6" />
<text x="1237.8" y="675.5" font-size="17.2" fill="#111" textLength="23.5" lengthAdjust="spacingAndGlyphs" transform="rotate(-90 1237.8 675.5)">0.0</text>
<line x1="1339.66" y1="628.9" x2="1339.66" y2="640.4" stroke="#111" stroke-width="1.6" />
<text x="1345.76" y="675.5" font-size="17.2" fill="#111" textLength="23.5" lengthAdjust="spacingAndGlyphs" transform="rotate(-90 1345.76 675.5)">0.2</text>
<line x1="1447.62" y1="628.9" x2="1447.62" y2="640.4" stroke="#111" stroke-width="1.6" />
<text x="1453.72" y="675.5" font-size="17.2" fill="#111" textLength="23.5" lengthAdjust="spacingAndGlyphs" transform="rotate(-90 1453.72 675.5)">0.4</text>
<line x1="1555.58" y1="628.9" x2="1555.58" y2="640.4" stroke="#111" stroke-width="1.6" />
<text x="1561.68" y="675.5" font-size="17.2" fill="#111" textLength="23.5" lengthAdjust="spacingAndGlyphs" transform="rotate(-90 1561.68 675.5)">0.6</text>
<line x1="1663.54" y1="628.9" x2="1663.54" y2="640.4" stroke="#111" stroke-width="1.6" />
<text x="1669.64" y="675.5" font-size="17.2" fill="#111" textLength="23.5" lengthAdjust="spacingAndGlyphs" transform="rotate(-90 1669.64 675.5)">0.8</text>
<line x1="1771.5" y1="628.9" x2="1771.5" y2="640.4" stroke="#111" stroke-width="1.6" />
<text x="1777.6" y="675.5" font-size="17.2" fill="#111" textLength="23.5" lengthAdjust="spacingAndGlyphs" transform="rotate(-90 1777.6 675.5)">1.0</text>
<text x="1431.7" y="714.7" font-size="18.6" fill="#111" textLength="139.8" lengthAdjust="spacingAndGlyphs">consensus index</text>
<text x="1142.6" y="378.7" font-size="18.6" fill="#111" textLength="36.2" lengthAdjust="spacingAndGlyphs" transform="rotate(-90 1142.6 378.7)">CDF</text>
<path d="M1234.1 373 L1250.6 372.2 L1267.2 369.7 L1305.3 368.4 L1411.2 367.3 L1450.1 365.1 L1477.5 362.8 L1498.1 361.5 L1531.5 361.3 L1551.3 359.6 L1594.4 358.2 L1703.6 357.4 L1741.7 355.2 L1758.3 354 L1762.4 352.8 L1762.6 292.8 L1765.3 292.8 L1765.3 230.9 L1767.3 230.9 L1767.3 144.8 L1768.6 111.2" fill="none" stroke="#e41a1c" stroke-width="2.6" stroke-linejoin="round"/>
<path d="M1234.07 317.65 L1240.7 316.82 L1251.46 311.03 L1260.56 310.2 L1268.01 305.23 L1276.29 301.92 L1282.91 296.95 L1289.54 295.3 L1299.47 291.99 L1312.72 290.33 L1332.58 287.02 L1349.14 286.19 L1375.63 284.54 L1402.12 282.88 L1435.23 281.23 L1465.03 279.57 L1500 280.4 L1519.87 279.57 L1562.91 277.91 L1594.37 276.26 L1627.48 274.6 L1655.63 272.12 L1682.12 269.64 L1703.64 267.98 L1713.58 263.01 L1720.2 258.05 L1730.13 256.39 L1736.75 249.77 L1743.38 247.28 L1750 246.46 L1756.62 243.15 L1762.42 241.49 L1763.25 139.67 L1767.38 111.52" fill="none" stroke="#f6b31b" stroke-width="2.6" stroke-linejoin="round"/>
<path d="M1234.07 253.91 L1246.49 253.08 L1291.19 248.94 L1325.96 247.28 L1360.73 242.32 L1402.12 239.83 L1436.89 238.18 L1478.28 236.52 L1500 236.52 L1531.46 235.7 L1564.57 234.04 L1602.65 232.38 L1634.11 231.56 L1662.25 229.07 L1682.12 226.59 L1706.95 224.93 L1731.79 222.45 L1751.66 221.62 L1761.59 219.14 L1762.42 113.18 L1767.38 112.35" fill="none" stroke="#8cc31e" stroke-width="2.6" stroke-linejoin="round"/>
<path d="M1234.07 308.54 L1244.83 305.23 L1249.8 293.64 L1258.08 291.99 L1268.01 284.54 L1277.95 282.05 L1282.91 277.91 L1289.54 277.09 L1319.34 266.32 L1349.14 253.08 L1369.01 248.11 L1402.12 239.83 L1426.95 232.38 L1451.79 226.59 L1484.9 219.14 L1501.46 211.69 L1500 212.52 L1506.62 211.69 L1519.87 208.38 L1533.11 202.58 L1541.39 201.75 L1549.67 197.62 L1566.23 192.65 L1591.06 186.03 L1615.89 177.75 L1632.45 173.61 L1649.01 167.81 L1665.56 162.85 L1690.4 156.23 L1706.95 152.09 L1731.79 145.46 L1735.1 141.32 L1748.34 138.01 L1753.31 134.7 L1763.25 132.22 L1764.9 123.11 L1767.38 113.18" fill="none" stroke="#5cb545" stroke-width="2.6" stroke-linejoin="round"/>
<path d="M1234.07 288.68 L1243.18 285.36 L1251.46 271.29 L1259.74 269.64 L1268.01 261.36 L1282.91 252.25 L1292.85 248.94 L1322.65 234.87 L1352.45 224.11 L1385.56 213.34 L1418.68 205.89 L1451.79 199.27 L1484.9 194.3 L1500 193.48 L1516.56 191.82 L1533.11 189.34 L1557.95 185.2 L1591.06 180.23 L1629.14 172.78 L1632.45 169.47 L1665.56 162.02 L1698.68 153.74 L1731.79 145.46 L1735.1 139.67 L1748.34 134.7 L1756.62 128.91 L1764.9 123.11 L1767.38 113.18" fill="none" stroke="#6cc6d6" stroke-width="2.6" stroke-linejoin="round"/>
<path d="M1234.07 280.4 L1243.18 278.74 L1249.8 262.19 L1258.08 260.53 L1266.36 250.6 L1276.29 244.8 L1284.57 237.35 L1294.5 234.04 L1307.75 227.42 L1335.89 217.48 L1369.01 209.21 L1402.12 202.58 L1435.23 195.96 L1468.34 189.34 L1501.46 181.89 L1500 182.72 L1524.83 180.23 L1549.67 175.26 L1582.78 167.81 L1615.89 158.71 L1649.01 147.95 L1682.12 139.67 L1715.23 131.39 L1740.07 124.77 L1764.9 118.97 L1767.38 113.18" fill="none" stroke="#1f4fa6" stroke-width="2.6" stroke-linejoin="round"/>
<path d="M1234.07 269.64 L1244.83 263.84 L1249.8 253.08 L1259.74 250.6 L1268.01 242.32 L1276.29 240.66 L1282.91 234.87 L1307.75 224.11 L1335.89 213.34 L1369.01 202.58 L1402.12 192.65 L1435.23 184.37 L1468.34 176.92 L1501.46 167.81 L1500 167.81 L1516.56 166.16 L1533.11 162.02 L1566.23 154.57 L1599.34 147.12 L1632.45 140.5 L1665.56 134.7 L1698.68 128.91 L1731.79 123.11 L1748.34 120.63 L1767.38 113.18" fill="none" stroke="#5b449a" stroke-width="2.6" stroke-linejoin="round"/>
<path d="M1234.07 260.53 L1244.83 256.39 L1250.63 244.8 L1259.74 243.15 L1268.01 236.52 L1282.91 229.07 L1309.4 218.31 L1339.21 207.55 L1365.7 198.44 L1392.19 190.17 L1418.68 182.72 L1451.79 173.61 L1484.9 164.5 L1509.74 157.88 L1500 160.36 L1524.83 156.23 L1557.95 148.77 L1591.06 142.15 L1632.45 134.7 L1665.56 129.74 L1698.68 124.77 L1731.79 119.8 L1748.34 116.49 L1767.38 110.7" fill="none" stroke="#cc3d96" stroke-width="2.6" stroke-linejoin="round"/>
<rect x="1662.3" y="359.6" width="64.3" height="201.8" fill="#fff" stroke="#222" stroke-width="1.5" />
<rect x="1678.3" y="377" width="13.9" height="11.2" fill="#e41a1c" stroke="#111" stroke-width="1.6" />
<text x="1707" y="389" font-size="18.4" fill="#222" textLength="10.4" lengthAdjust="spacingAndGlyphs">2</text>
<rect x="1678.3" y="399.3" width="13.9" height="11.2" fill="#f6b31b" stroke="#111" stroke-width="1.6" />
<text x="1707" y="411.3" font-size="18.4" fill="#222" textLength="10.4" lengthAdjust="spacingAndGlyphs">3</text>
<rect x="1678.3" y="421.6" width="13.9" height="11.2" fill="#8cc31e" stroke="#111" stroke-width="1.6" />
<text x="1707" y="433.6" font-size="18.4" fill="#222" textLength="10.4" lengthAdjust="spacingAndGlyphs">4</text>
<rect x="1678.3" y="443.9" width="13.9" height="11.2" fill="#5cb545" stroke="#111" stroke-width="1.6" />
<text x="1707" y="455.9" font-size="18.4" fill="#222" textLength="10.4" lengthAdjust="spacingAndGlyphs">5</text>
<rect x="1678.3" y="466.2" width="13.9" height="11.2" fill="#6cc6d6" stroke="#111" stroke-width="1.6" />
<text x="1707" y="478.2" font-size="18.4" fill="#222" textLength="10.4" lengthAdjust="spacingAndGlyphs">6</text>
<rect x="1678.3" y="488.5" width="13.9" height="11.2" fill="#1f4fa6" stroke="#111" stroke-width="1.6" />
<text x="1707" y="500.5" font-size="18.4" fill="#222" textLength="10.4" lengthAdjust="spacingAndGlyphs">7</text>
<rect x="1678.3" y="510.8" width="13.9" height="11.2" fill="#5b449a" stroke="#111" stroke-width="1.6" />
<text x="1707" y="522.8" font-size="18.4" fill="#222" textLength="10.4" lengthAdjust="spacingAndGlyphs">8</text>
<rect x="1678.3" y="533.1" width="13.9" height="11.2" fill="#cc3d96" stroke="#111" stroke-width="1.6" />
<text x="1707" y="545.1" font-size="18.4" fill="#222" textLength="10.4" lengthAdjust="spacingAndGlyphs">9</text>
<text x="28" y="960" font-size="44" fill="#111" font-family="'Liberation Serif', 'Times New Roman', serif">C</text>
<text x="498" y="881.3" font-size="20.7" font-weight="bold" fill="#111" textLength="111.3" lengthAdjust="spacingAndGlyphs">Delta area</text>
<rect x="244.6" y="915.6" width="620.9" height="514" fill="none" stroke="#111" stroke-width="1.6" />
<line x1="232.4" y1="1425.3" x2="244.6" y2="1425.3" stroke="#111" stroke-width="1.6" />
<text x="217.6" y="1425.3" font-size="20" text-anchor="middle" fill="#111" textLength="22.3" lengthAdjust="spacingAndGlyphs" transform="rotate(-90 217.6 1425.3)">0.0</text>
<line x1="232.4" y1="1326.72" x2="244.6" y2="1326.72" stroke="#111" stroke-width="1.6" />
<text x="217.6" y="1326.72" font-size="20" text-anchor="middle" fill="#111" textLength="22.3" lengthAdjust="spacingAndGlyphs" transform="rotate(-90 217.6 1326.72)">0.1</text>
<line x1="232.4" y1="1228.14" x2="244.6" y2="1228.14" stroke="#111" stroke-width="1.6" />
<text x="217.6" y="1228.14" font-size="20" text-anchor="middle" fill="#111" textLength="22.3" lengthAdjust="spacingAndGlyphs" transform="rotate(-90 217.6 1228.14)">0.2</text>
<line x1="232.4" y1="1129.56" x2="244.6" y2="1129.56" stroke="#111" stroke-width="1.6" />
<text x="217.6" y="1129.56" font-size="20" text-anchor="middle" fill="#111" textLength="22.3" lengthAdjust="spacingAndGlyphs" transform="rotate(-90 217.6 1129.56)">0.3</text>
<line x1="232.4" y1="1030.98" x2="244.6" y2="1030.98" stroke="#111" stroke-width="1.6" />
<text x="217.6" y="1030.98" font-size="20" text-anchor="middle" fill="#111" textLength="22.3" lengthAdjust="spacingAndGlyphs" transform="rotate(-90 217.6 1030.98)">0.4</text>
<line x1="232.4" y1="932.4" x2="244.6" y2="932.4" stroke="#111" stroke-width="1.6" />
<text x="217.6" y="932.4" font-size="20" text-anchor="middle" fill="#111" textLength="22.3" lengthAdjust="spacingAndGlyphs" transform="rotate(-90 217.6 932.4)">0.5</text>
<line x1="267.1" y1="1429.6" x2="267.1" y2="1440.6" stroke="#111" stroke-width="1.6" />
<text x="265.6" y="1468.9" font-size="17.8" text-anchor="middle" fill="#111" textLength="10" lengthAdjust="spacingAndGlyphs">2</text>
<line x1="349.4" y1="1429.6" x2="349.4" y2="1440.6" stroke="#111" stroke-width="1.6" />
<text x="347.9" y="1468.9" font-size="17.8" text-anchor="middle" fill="#111" textLength="10" lengthAdjust="spacingAndGlyphs">3</text>
<line x1="431.7" y1="1429.6" x2="431.7" y2="1440.6" stroke="#111" stroke-width="1.6" />
<text x="430.2" y="1468.9" font-size="17.8" text-anchor="middle" fill="#111" textLength="10" lengthAdjust="spacingAndGlyphs">4</text>
<line x1="514" y1="1429.6" x2="514" y2="1440.6" stroke="#111" stroke-width="1.6" />
<text x="512.5" y="1468.9" font-size="17.8" text-anchor="middle" fill="#111" textLength="10" lengthAdjust="spacingAndGlyphs">5</text>
<line x1="596.3" y1="1429.6" x2="596.3" y2="1440.6" stroke="#111" stroke-width="1.6" />
<text x="594.8" y="1468.9" font-size="17.8" text-anchor="middle" fill="#111" textLength="10" lengthAdjust="spacingAndGlyphs">6</text>
<line x1="678.6" y1="1429.6" x2="678.6" y2="1440.6" stroke="#111" stroke-width="1.6" />
<text x="677.1" y="1468.9" font-size="17.8" text-anchor="middle" fill="#111" textLength="10" lengthAdjust="spacingAndGlyphs">7</text>
<line x1="760.9" y1="1429.6" x2="760.9" y2="1440.6" stroke="#111" stroke-width="1.6" />
<text x="759.4" y="1468.9" font-size="17.8" text-anchor="middle" fill="#111" textLength="10" lengthAdjust="spacingAndGlyphs">8</text>
<line x1="843.2" y1="1429.6" x2="843.2" y2="1440.6" stroke="#111" stroke-width="1.6" />
<text x="841.7" y="1468.9" font-size="17.8" text-anchor="middle" fill="#111" textLength="10" lengthAdjust="spacingAndGlyphs">9</text>
<text x="555.2" y="1511.6" font-size="17.8" text-anchor="middle" fill="#111" textLength="9" lengthAdjust="spacingAndGlyphs">k</text>
<text x="171.6" y="1172.3" font-size="20.5" text-anchor="middle" fill="#111" textLength="325" lengthAdjust="spacingAndGlyphs" transform="rotate(-90 171.6 1172.3)">relative change in area under CDF curve</text>
<line x1="270.69" y1="941.03" x2="345.81" y2="1090.86" stroke="#111" stroke-width="1.4" />
<line x1="352.44" y1="1105.41" x2="428.66" y2="1290.73" stroke="#111" stroke-width="1.4" />
<line x1="437.99" y1="1303.07" x2="507.71" y2="1357.76" stroke="#111" stroke-width="1.4" />
<line x1="521.78" y1="1364.57" x2="588.52" y2="1380.55" stroke="#111" stroke-width="1.4" />
<line x1="604.16" y1="1383.92" x2="670.74" y2="1396.68" stroke="#111" stroke-width="1.4" />
<line x1="686.59" y1="1398.62" x2="752.91" y2="1402.2" stroke="#111" stroke-width="1.4" />
<line x1="768.87" y1="1403.34" x2="835.23" y2="1409.3" stroke="#111" stroke-width="1.4" />
<circle cx="267.1" cy="933.88" r="3.1" fill="none" stroke="#111" stroke-width="1.4"/>
<circle cx="349.4" cy="1098.01" r="3.1" fill="none" stroke="#111" stroke-width="1.4"/>
<circle cx="431.7" cy="1298.13" r="3.1" fill="none" stroke="#111" stroke-width="1.4"/>
<circle cx="514" cy="1362.7" r="3.1" fill="none" stroke="#111" stroke-width="1.4"/>
<circle cx="596.3" cy="1382.42" r="3.1" fill="none" stroke="#111" stroke-width="1.4"/>
<circle cx="678.6" cy="1398.19" r="3.1" fill="none" stroke="#111" stroke-width="1.4"/>
<circle cx="760.9" cy="1402.63" r="3.1" fill="none" stroke="#111" stroke-width="1.4"/>
<circle cx="843.2" cy="1410.02" r="3.1" fill="none" stroke="#111" stroke-width="1.4"/>
<text x="1040" y="872.5" font-size="41" fill="#111" font-family="'Liberation Serif', 'Times New Roman', serif">D</text>
<text x="1343" y="889" font-size="20.3" font-weight="bold" fill="#111" textLength="264.5" lengthAdjust="spacingAndGlyphs">consensus matrix k=2</text>
<rect x="1206.1" y="1027.5" width="298.2" height="19.3" fill="#a6cbdd" />
<rect x="1504.3" y="1027.5" width="239.4" height="19.3" fill="#1f70aa" />
<rect x="1504.3" y="1055.4" width="232.6" height="198.2" fill="#1b4a9d" />
<rect x="1206.1" y="1253.6" width="298.2" height="250" fill="#1b4a9d" />
<rect x="1206.1" y="1055.4" width="530.8" height="2.6" fill="#8990cb" opacity="0.8"/>
<rect x="1736.9" y="1253.6" width="6.8" height="250" fill="#7c82c6" />
<rect x="1736.9" y="1055.4" width="6.8" height="198.2" fill="#4c5cb2" />
<path d="M1208.5 1023.6 L1208.5 892.4 L1709.6 892.4 L1709.6 959.3" fill="none" stroke="#111" stroke-width="1.6" />
<path d="M1680 1012.2 L1680 959.3 L1741.3 959.3 L1741.3 985" fill="none" stroke="#111" stroke-width="1.6" />
<path d="M1622 1019.2 L1622 1012.2 L1739 1012.2" fill="none" stroke="#111" stroke-width="1.6" />
<path d="M1509 1023.6 L1509 1019.2 L1738 1019.2" fill="none" stroke="#111" stroke-width="1.6" />
<line x1="1206" y1="1023.6" x2="1745" y2="1023.6" stroke="#111" stroke-width="1.8" />
<rect x="1739.2" y="985" width="3.8" height="22" fill="#999" stroke="#111" stroke-width="1" />
<rect x="1737.2" y="1006" width="7.4" height="18.5" fill="#111" />
<rect x="1206" y="1006.5" width="3.6" height="17.5" fill="#111" />
<rect x="1805.9" y="959.8" width="73.1" height="62.2" fill="#fff" stroke="#222" stroke-width="1.7" />
<rect x="1822.8" y="974.2" width="16.4" height="11" fill="#a6cbdd" stroke="#111" stroke-width="1.6" />
<rect x="1822.8" y="996.2" width="16.4" height="9.8" fill="#1f70aa" stroke="#111" stroke-width="1.6" />
<text x="1856.2" y="987.7" font-size="17.4" fill="#111" textLength="10" lengthAdjust="spacingAndGlyphs">1</text>
<text x="1856.6" y="1008.6" font-size="17.4" fill="#111" textLength="11.4" lengthAdjust="spacingAndGlyphs">2</text>
<text x="29" y="1640.2" font-size="42" fill="#111" font-family="'Liberation Serif', 'Times New Roman', serif">E</text>
<line x1="146" y1="1648.4" x2="146" y2="2003.6" stroke="#111" stroke-width="1.7" />
<line x1="145.2" y1="2002.8" x2="1087" y2="2002.8" stroke="#111" stroke-width="1.7" />
<line x1="140.4" y1="1736.25" x2="146" y2="1736.25" stroke="#111" stroke-width="1.6" />
<text x="134.9" y="1742.55" font-size="17.6" text-anchor="end" fill="#111" textLength="28.7" lengthAdjust="spacingAndGlyphs">0.5</text>
<line x1="140.4" y1="1827.5" x2="146" y2="1827.5" stroke="#111" stroke-width="1.6" />
<text x="134.9" y="1833.8" font-size="17.6" text-anchor="end" fill="#111" textLength="28.7" lengthAdjust="spacingAndGlyphs">0.0</text>
<line x1="140.4" y1="1918.75" x2="146" y2="1918.75" stroke="#111" stroke-width="1.6" />
<text x="134.9" y="1925.05" font-size="17.6" text-anchor="end" fill="#111" textLength="40" lengthAdjust="spacingAndGlyphs">−0.5</text>
<text x="83.4" y="1825.4" font-size="21.6" text-anchor="middle" fill="#111" textLength="91" lengthAdjust="spacingAndGlyphs" transform="rotate(-90 83.4 1825.4)">PCD score</text>
<line x1="166.3" y1="1785.7" x2="166.3" y2="1811.66" stroke="#111" stroke-width="2" />
<line x1="166.3" y1="1833.91" x2="166.3" y2="1859.34" stroke="#111" stroke-width="2" />
<rect x="156" y="1811.66" width="20.6" height="22.25" fill="#3a54a4" stroke="#111" stroke-width="2" />
<line x1="156" y1="1822.25" x2="176.6" y2="1822.25" stroke="#111" stroke-width="3.2" />
<circle cx="166.3" cy="1777.75" r="3.4" fill="#111"/>
<circle cx="166.3" cy="1873.64" r="3.4" fill="#111"/>
<line x1="187.9" y1="1798.41" x2="187.9" y2="1828.61" stroke="#111" stroke-width="2" />
<line x1="187.9" y1="1850.86" x2="187.9" y2="1879.74" stroke="#111" stroke-width="2" />
<rect x="177.6" y="1828.61" width="20.6" height="22.25" fill="#3cb58a" stroke="#111" stroke-width="2" />
<line x1="177.6" y1="1841.32" x2="198.2" y2="1841.32" stroke="#111" stroke-width="3.2" />
<line x1="177.1" y1="2002.8" x2="177.1" y2="2008.3" stroke="#111" stroke-width="1.6" />
<text x="177.1" y="1661.8" font-size="15.5" text-anchor="middle" font-weight="bold" fill="#111" textLength="21.5" lengthAdjust="spacingAndGlyphs">***</text>
<text x="187.3" y="2022.3" font-size="18.8" text-anchor="end" fill="#111" textLength="88.3" lengthAdjust="spacingAndGlyphs" transform="rotate(-45 187.3 2022.3)">Apoptosis</text>
<line x1="218.06" y1="1734.04" x2="218.06" y2="1783.05" stroke="#111" stroke-width="2" />
<line x1="218.06" y1="1836.56" x2="218.06" y2="1897.48" stroke="#111" stroke-width="2" />
<rect x="207.76" y="1783.05" width="20.6" height="53.51" fill="#3a54a4" stroke="#111" stroke-width="2" />
<line x1="207.76" y1="1809.01" x2="228.36" y2="1809.01" stroke="#111" stroke-width="3.2" />
<line x1="239.66" y1="1782.52" x2="239.66" y2="1836.56" stroke="#111" stroke-width="2" />
<line x1="239.66" y1="1873.64" x2="239.66" y2="1920.26" stroke="#111" stroke-width="2" />
<rect x="229.36" y="1836.56" width="20.6" height="37.09" fill="#3cb58a" stroke="#111" stroke-width="2" />
<line x1="229.36" y1="1851.39" x2="249.96" y2="1851.39" stroke="#111" stroke-width="3.2" />
<circle cx="239.66" cy="1755.23" r="3.4" fill="#111"/>
<line x1="228.86" y1="2002.8" x2="228.86" y2="2008.3" stroke="#111" stroke-width="1.6" />
<text x="228.86" y="1661.8" font-size="15.5" text-anchor="middle" font-weight="bold" fill="#111" textLength="21.5" lengthAdjust="spacingAndGlyphs">***</text>
<text x="239.06" y="2022.3" font-size="18.8" text-anchor="end" fill="#111" textLength="93.9" lengthAdjust="spacingAndGlyphs" transform="rotate(-45 239.06 2022.3)">Pyroptosis</text>
<line x1="269.82" y1="1743.31" x2="269.82" y2="1798.94" stroke="#111" stroke-width="2" />
<line x1="269.82" y1="1843.44" x2="269.82" y2="1896.42" stroke="#111" stroke-width="2" />
<rect x="259.52" y="1798.94" width="20.6" height="44.5" fill="#3a54a4" stroke="#111" stroke-width="2" />
<line x1="259.52" y1="1820.13" x2="280.12" y2="1820.13" stroke="#111" stroke-width="3.2" />
<line x1="291.42" y1="1757.88" x2="291.42" y2="1813.51" stroke="#111" stroke-width="2" />
<line x1="291.42" y1="1863.05" x2="291.42" y2="1903.05" stroke="#111" stroke-width="2" />
<rect x="281.12" y="1813.51" width="20.6" height="49.54" fill="#3cb58a" stroke="#111" stroke-width="2" />
<line x1="281.12" y1="1838.15" x2="301.72" y2="1838.15" stroke="#111" stroke-width="3.2" />
<line x1="280.62" y1="2002.8" x2="280.62" y2="2008.3" stroke="#111" stroke-width="1.6" />
<text x="280.62" y="1661.8" font-size="15.5" text-anchor="middle" font-weight="bold" fill="#111" textLength="21.5" lengthAdjust="spacingAndGlyphs">***</text>
<text x="290.82" y="2022.3" font-size="18.8" text-anchor="end" fill="#111" textLength="100.6" lengthAdjust="spacingAndGlyphs" transform="rotate(-45 290.82 2022.3)">Ferroptosis</text>
<line x1="321.58" y1="1773.77" x2="321.58" y2="1815.36" stroke="#111" stroke-width="2" />
<line x1="321.58" y1="1848.21" x2="321.58" y2="1893.51" stroke="#111" stroke-width="2" />
<rect x="311.28" y="1815.36" width="20.6" height="32.85" fill="#3a54a4" stroke="#111" stroke-width="2" />
<line x1="311.28" y1="1828.61" x2="331.88" y2="1828.61" stroke="#111" stroke-width="3.2" />
<circle cx="321.58" cy="1764.5" r="3.4" fill="#111"/>
<line x1="343.18" y1="1787.81" x2="343.18" y2="1828.61" stroke="#111" stroke-width="2" />
<line x1="343.18" y1="1861.72" x2="343.18" y2="1889.01" stroke="#111" stroke-width="2" />
<rect x="332.88" y="1828.61" width="20.6" height="33.11" fill="#3cb58a" stroke="#111" stroke-width="2" />
<line x1="332.88" y1="1845.3" x2="353.48" y2="1845.3" stroke="#111" stroke-width="3.2" />
<line x1="332.38" y1="2002.8" x2="332.38" y2="2008.3" stroke="#111" stroke-width="1.6" />
<text x="332.38" y="1661.8" font-size="15.5" text-anchor="middle" font-weight="bold" fill="#111" textLength="21.5" lengthAdjust="spacingAndGlyphs">***</text>
<text x="342.58" y="2022.3" font-size="18.8" text-anchor="end" fill="#111" textLength="96.2" lengthAdjust="spacingAndGlyphs" transform="rotate(-45 342.58 2022.3)">Autophagy</text>
<line x1="373.34" y1="1736.69" x2="373.34" y2="1787.02" stroke="#111" stroke-width="2" />
<line x1="373.34" y1="1837.62" x2="373.34" y2="1894.83" stroke="#111" stroke-width="2" />
<rect x="363.04" y="1787.02" width="20.6" height="50.6" fill="#3a54a4" stroke="#111" stroke-width="2" />
<line x1="363.04" y1="1810.86" x2="383.64" y2="1810.86" stroke="#111" stroke-width="3.2" />
<line x1="394.94" y1="1793.11" x2="394.94" y2="1843.97" stroke="#111" stroke-width="2" />
<line x1="394.94" y1="1880.53" x2="394.94" y2="1914.17" stroke="#111" stroke-width="2" />
<rect x="384.64" y="1843.97" width="20.6" height="36.56" fill="#3cb58a" stroke="#111" stroke-width="2" />
<line x1="384.64" y1="1862.52" x2="405.24" y2="1862.52" stroke="#111" stroke-width="3.2" />
<circle cx="394.94" cy="1786.49" r="3.4" fill="#111"/>
<line x1="384.14" y1="2002.8" x2="384.14" y2="2008.3" stroke="#111" stroke-width="1.6" />
<text x="384.14" y="1661.8" font-size="15.5" text-anchor="middle" font-weight="bold" fill="#111" textLength="21.5" lengthAdjust="spacingAndGlyphs">***</text>
<text x="394.34" y="2022.3" font-size="18.8" text-anchor="end" fill="#111" textLength="106.2" lengthAdjust="spacingAndGlyphs" transform="rotate(-45 394.34 2022.3)">Necroptosis</text>
<line x1="425.1" y1="1722.12" x2="425.1" y2="1788.34" stroke="#111" stroke-width="2" />
<line x1="425.1" y1="1875.23" x2="425.1" y2="1943.31" stroke="#111" stroke-width="2" />
<rect x="414.8" y="1788.34" width="20.6" height="86.89" fill="#3a54a4" stroke="#111" stroke-width="2" />
<line x1="414.8" y1="1833.91" x2="435.4" y2="1833.91" stroke="#111" stroke-width="3.2" />
<line x1="446.7" y1="1714.7" x2="446.7" y2="1800.26" stroke="#111" stroke-width="2" />
<line x1="446.7" y1="1881.85" x2="446.7" y2="1953.11" stroke="#111" stroke-width="2" />
<rect x="436.4" y="1800.26" width="20.6" height="81.59" fill="#3cb58a" stroke="#111" stroke-width="2" />
<line x1="436.4" y1="1842.12" x2="457" y2="1842.12" stroke="#111" stroke-width="3.2" />
<line x1="435.9" y1="2002.8" x2="435.9" y2="2008.3" stroke="#111" stroke-width="1.6" />
<text x="446.1" y="2022.3" font-size="18.8" text-anchor="end" fill="#111" textLength="107.3" lengthAdjust="spacingAndGlyphs" transform="rotate(-45 446.1 2022.3)">Cuproptosis</text>
<line x1="476.86" y1="1693.77" x2="476.86" y2="1801.59" stroke="#111" stroke-width="2" />
<line x1="476.86" y1="1893.51" x2="476.86" y2="1975.89" stroke="#111" stroke-width="2" />
<rect x="466.56" y="1801.59" width="20.6" height="91.92" fill="#3a54a4" stroke="#111" stroke-width="2" />
<line x1="466.56" y1="1847.95" x2="487.16" y2="1847.95" stroke="#111" stroke-width="3.2" />
<circle cx="476.86" cy="1664.37" r="3.4" fill="#111"/>
<line x1="498.46" y1="1679.21" x2="498.46" y2="1775.1" stroke="#111" stroke-width="2" />
<line x1="498.46" y1="1864.11" x2="498.46" y2="1965.83" stroke="#111" stroke-width="2" />
<rect x="488.16" y="1775.1" width="20.6" height="89.01" fill="#3cb58a" stroke="#111" stroke-width="2" />
<line x1="488.16" y1="1824.11" x2="508.76" y2="1824.11" stroke="#111" stroke-width="3.2" />
<line x1="487.66" y1="2002.8" x2="487.66" y2="2008.3" stroke="#111" stroke-width="1.6" />
<text x="487.66" y="1661.8" font-size="15.5" text-anchor="middle" font-weight="bold" fill="#111" textLength="21.5" lengthAdjust="spacingAndGlyphs">***</text>
<text x="497.86" y="2022.3" font-size="18.8" text-anchor="end" fill="#111" textLength="108.5" lengthAdjust="spacingAndGlyphs" transform="rotate(-45 497.86 2022.3)">Parthanatos</text>
<line x1="528.62" y1="1692.98" x2="528.62" y2="1767.15" stroke="#111" stroke-width="2" />
<line x1="528.62" y1="1876.56" x2="528.62" y2="1962.65" stroke="#111" stroke-width="2" />
<rect x="518.32" y="1767.15" width="20.6" height="109.4" fill="#3a54a4" stroke="#111" stroke-width="2" />
<line x1="518.32" y1="1812.98" x2="538.92" y2="1812.98" stroke="#111" stroke-width="3.2" />
<line x1="550.22" y1="1716.29" x2="550.22" y2="1809.01" stroke="#111" stroke-width="2" />
<line x1="550.22" y1="1908.08" x2="550.22" y2="1976.95" stroke="#111" stroke-width="2" />
<rect x="539.92" y="1809.01" width="20.6" height="99.07" fill="#3cb58a" stroke="#111" stroke-width="2" />
<line x1="539.92" y1="1853.25" x2="560.52" y2="1853.25" stroke="#111" stroke-width="3.2" />
<line x1="539.42" y1="2002.8" x2="539.42" y2="2008.3" stroke="#111" stroke-width="1.6" />
<text x="539.42" y="1661.8" font-size="15.5" text-anchor="middle" font-weight="bold" fill="#111" textLength="21.5" lengthAdjust="spacingAndGlyphs">***</text>
<text x="549.62" y="2022.3" font-size="18.8" text-anchor="end" fill="#111" textLength="142" lengthAdjust="spacingAndGlyphs" transform="rotate(-45 549.62 2022.3)">Entoticcelldeath</text>
<line x1="580.38" y1="1667.28" x2="580.38" y2="1766.62" stroke="#111" stroke-width="2" />
<line x1="580.38" y1="1851.13" x2="580.38" y2="1931.39" stroke="#111" stroke-width="2" />
<rect x="570.08" y="1766.62" width="20.6" height="84.5" fill="#3a54a4" stroke="#111" stroke-width="2" />
<line x1="570.08" y1="1810.86" x2="590.68" y2="1810.86" stroke="#111" stroke-width="3.2" />
<line x1="601.98" y1="1685.56" x2="601.98" y2="1776.42" stroke="#111" stroke-width="2" />
<line x1="601.98" y1="1862.52" x2="601.98" y2="1938.01" stroke="#111" stroke-width="2" />
<rect x="591.68" y="1776.42" width="20.6" height="86.09" fill="#3cb58a" stroke="#111" stroke-width="2" />
<line x1="591.68" y1="1823.31" x2="612.28" y2="1823.31" stroke="#111" stroke-width="3.2" />
<line x1="591.18" y1="2002.8" x2="591.18" y2="2008.3" stroke="#111" stroke-width="1.6" />
<text x="601.38" y="2022.3" font-size="18.8" text-anchor="end" fill="#111" textLength="143.1" lengthAdjust="spacingAndGlyphs" transform="rotate(-45 601.38 2022.3)">Netoticcelldeath</text>
<line x1="632.14" y1="1734.65" x2="632.14" y2="1789.54" stroke="#111" stroke-width="2" />
<line x1="632.14" y1="1837.4" x2="632.14" y2="1888.78" stroke="#111" stroke-width="2" />
<rect x="621.84" y="1789.54" width="20.6" height="47.86" fill="#3a54a4" stroke="#111" stroke-width="2" />
<line x1="621.84" y1="1814.42" x2="642.44" y2="1814.42" stroke="#111" stroke-width="3.2" />
<line x1="653.74" y1="1786.02" x2="653.74" y2="1834.16" stroke="#111" stroke-width="2" />
<line x1="653.74" y1="1872.02" x2="653.74" y2="1911.77" stroke="#111" stroke-width="2" />
<rect x="643.44" y="1834.16" width="20.6" height="37.86" fill="#3cb58a" stroke="#111" stroke-width="2" />
<line x1="643.44" y1="1852.82" x2="664.04" y2="1852.82" stroke="#111" stroke-width="3.2" />
<circle cx="653.74" cy="1771.69" r="3.4" fill="#111"/>
<line x1="642.94" y1="2002.8" x2="642.94" y2="2008.3" stroke="#111" stroke-width="1.6" />
<text x="642.94" y="1661.8" font-size="15.5" text-anchor="middle" font-weight="bold" fill="#111" textLength="21.5" lengthAdjust="spacingAndGlyphs">***</text>
<text x="653.14" y="2022.3" font-size="18.8" text-anchor="end" fill="#111" textLength="278.3" lengthAdjust="spacingAndGlyphs" transform="rotate(-45 653.14 2022.3)">Lysosome−dependentcelldeath</text>
<line x1="683.9" y1="1687.86" x2="683.9" y2="1771.15" stroke="#111" stroke-width="2" />
<line x1="683.9" y1="1875.26" x2="683.9" y2="1976.67" stroke="#111" stroke-width="2" />
<rect x="673.6" y="1771.15" width="20.6" height="104.11" fill="#3a54a4" stroke="#111" stroke-width="2" />
<line x1="673.6" y1="1821.72" x2="694.2" y2="1821.72" stroke="#111" stroke-width="3.2" />
<line x1="705.5" y1="1701.65" x2="705.5" y2="1807.12" stroke="#111" stroke-width="2" />
<line x1="705.5" y1="1898.25" x2="705.5" y2="1972.61" stroke="#111" stroke-width="2" />
<rect x="695.2" y="1807.12" width="20.6" height="91.13" fill="#3cb58a" stroke="#111" stroke-width="2" />
<line x1="695.2" y1="1854.44" x2="715.8" y2="1854.44" stroke="#111" stroke-width="3.2" />
<line x1="694.7" y1="2002.8" x2="694.7" y2="2008.3" stroke="#111" stroke-width="1.6" />
<text x="694.7" y="1661.8" font-size="15.5" text-anchor="middle" font-weight="bold" fill="#111" textLength="21.5" lengthAdjust="spacingAndGlyphs">***</text>
<text x="704.9" y="2022.3" font-size="18.8" text-anchor="end" fill="#111" textLength="100.6" lengthAdjust="spacingAndGlyphs" transform="rotate(-45 704.9 2022.3)">Alkaliptosis</text>
<line x1="735.66" y1="1673.26" x2="735.66" y2="1781.43" stroke="#111" stroke-width="2" />
<line x1="735.66" y1="1895.54" x2="735.66" y2="1975.32" stroke="#111" stroke-width="2" />
<rect x="725.36" y="1781.43" width="20.6" height="114.12" fill="#3a54a4" stroke="#111" stroke-width="2" />
<line x1="725.36" y1="1839.3" x2="745.96" y2="1839.3" stroke="#111" stroke-width="3.2" />
<line x1="757.26" y1="1670.56" x2="757.26" y2="1756.28" stroke="#111" stroke-width="2" />
<line x1="757.26" y1="1872.02" x2="757.26" y2="1986.13" stroke="#111" stroke-width="2" />
<rect x="746.96" y="1756.28" width="20.6" height="115.74" fill="#3cb58a" stroke="#111" stroke-width="2" />
<line x1="746.96" y1="1812.53" x2="767.56" y2="1812.53" stroke="#111" stroke-width="3.2" />
<line x1="746.46" y1="2002.8" x2="746.46" y2="2008.3" stroke="#111" stroke-width="1.6" />
<text x="746.46" y="1661.8" font-size="15.5" text-anchor="middle" font-weight="bold" fill="#111" textLength="14.5" lengthAdjust="spacingAndGlyphs">**</text>
<text x="756.66" y="2022.3" font-size="18.8" text-anchor="end" fill="#111" textLength="93.9" lengthAdjust="spacingAndGlyphs" transform="rotate(-45 756.66 2022.3)">Oxeiptosis</text>
<line x1="787.42" y1="1710.85" x2="787.42" y2="1773.32" stroke="#111" stroke-width="2" />
<line x1="787.42" y1="1841.46" x2="787.42" y2="1915.82" stroke="#111" stroke-width="2" />
<rect x="777.12" y="1773.32" width="20.6" height="68.14" fill="#3a54a4" stroke="#111" stroke-width="2" />
<line x1="777.12" y1="1802.25" x2="797.72" y2="1802.25" stroke="#111" stroke-width="3.2" />
<line x1="809.02" y1="1758.98" x2="809.02" y2="1813.88" stroke="#111" stroke-width="2" />
<line x1="809.02" y1="1869.85" x2="809.02" y2="1926.64" stroke="#111" stroke-width="2" />
<rect x="798.72" y="1813.88" width="20.6" height="55.98" fill="#3cb58a" stroke="#111" stroke-width="2" />
<line x1="798.72" y1="1843.35" x2="819.32" y2="1843.35" stroke="#111" stroke-width="3.2" />
<line x1="798.22" y1="2002.8" x2="798.22" y2="2008.3" stroke="#111" stroke-width="1.6" />
<text x="798.22" y="1661.8" font-size="15.5" text-anchor="middle" font-weight="bold" fill="#111" textLength="21.5" lengthAdjust="spacingAndGlyphs">***</text>
<text x="808.42" y="2022.3" font-size="18.8" text-anchor="end" fill="#111" textLength="73.8" lengthAdjust="spacingAndGlyphs" transform="rotate(-45 808.42 2022.3)">NETosis</text>
<line x1="839.18" y1="1710.31" x2="839.18" y2="1758.98" stroke="#111" stroke-width="2" />
<line x1="839.18" y1="1816.58" x2="839.18" y2="1857.69" stroke="#111" stroke-width="2" />
<rect x="828.88" y="1758.98" width="20.6" height="57.6" fill="#3a54a4" stroke="#111" stroke-width="2" />
<line x1="828.88" y1="1786.02" x2="849.48" y2="1786.02" stroke="#111" stroke-width="3.2" />
<line x1="860.78" y1="1817.66" x2="860.78" y2="1859.85" stroke="#111" stroke-width="2" />
<line x1="860.78" y1="1896.35" x2="860.78" y2="1944.22" stroke="#111" stroke-width="2" />
<rect x="850.48" y="1859.85" width="20.6" height="36.51" fill="#3cb58a" stroke="#111" stroke-width="2" />
<line x1="850.48" y1="1876.07" x2="871.08" y2="1876.07" stroke="#111" stroke-width="3.2" />
<line x1="849.98" y1="2002.8" x2="849.98" y2="2008.3" stroke="#111" stroke-width="1.6" />
<text x="849.98" y="1661.8" font-size="15.5" text-anchor="middle" font-weight="bold" fill="#111" textLength="21.5" lengthAdjust="spacingAndGlyphs">***</text>
<text x="860.18" y="2022.3" font-size="18.8" text-anchor="end" fill="#111" textLength="212.5" lengthAdjust="spacingAndGlyphs" transform="rotate(-45 860.18 2022.3)">Immunogenic cell death</text>
<line x1="890.94" y1="1755.74" x2="890.94" y2="1796.3" stroke="#111" stroke-width="2" />
<line x1="890.94" y1="1844.16" x2="890.94" y2="1895.54" stroke="#111" stroke-width="2" />
<rect x="880.64" y="1796.3" width="20.6" height="47.86" fill="#3a54a4" stroke="#111" stroke-width="2" />
<line x1="880.64" y1="1820.64" x2="901.24" y2="1820.64" stroke="#111" stroke-width="3.2" />
<line x1="912.54" y1="1780.08" x2="912.54" y2="1828.75" stroke="#111" stroke-width="2" />
<line x1="912.54" y1="1867.15" x2="912.54" y2="1893.65" stroke="#111" stroke-width="2" />
<rect x="902.24" y="1828.75" width="20.6" height="38.4" fill="#3cb58a" stroke="#111" stroke-width="2" />
<line x1="902.24" y1="1850.92" x2="922.84" y2="1850.92" stroke="#111" stroke-width="3.2" />
<circle cx="912.54" cy="1769.8" r="3.4" fill="#111"/>
<line x1="901.74" y1="2002.8" x2="901.74" y2="2008.3" stroke="#111" stroke-width="1.6" />
<text x="901.74" y="1661.8" font-size="15.5" text-anchor="middle" font-weight="bold" fill="#111" textLength="21.5" lengthAdjust="spacingAndGlyphs">***</text>
<text x="911.94" y="2022.3" font-size="18.8" text-anchor="end" fill="#111" textLength="64.8" lengthAdjust="spacingAndGlyphs" transform="rotate(-45 911.94 2022.3)">Anoikis</text>
<line x1="942.7" y1="1764.39" x2="942.7" y2="1804.14" stroke="#111" stroke-width="2" />
<line x1="942.7" y1="1837.94" x2="942.7" y2="1878.51" stroke="#111" stroke-width="2" />
<rect x="932.4" y="1804.14" width="20.6" height="33.8" fill="#3a54a4" stroke="#111" stroke-width="2" />
<line x1="932.4" y1="1823.88" x2="953" y2="1823.88" stroke="#111" stroke-width="3.2" />
<line x1="964.3" y1="1776.56" x2="964.3" y2="1820.37" stroke="#111" stroke-width="2" />
<line x1="964.3" y1="1852.28" x2="964.3" y2="1879.32" stroke="#111" stroke-width="2" />
<rect x="954" y="1820.37" width="20.6" height="31.91" fill="#3cb58a" stroke="#111" stroke-width="2" />
<line x1="954" y1="1837.4" x2="974.6" y2="1837.4" stroke="#111" stroke-width="3.2" />
<line x1="953.5" y1="2002.8" x2="953.5" y2="2008.3" stroke="#111" stroke-width="1.6" />
<text x="953.5" y="1661.8" font-size="15.5" text-anchor="middle" font-weight="bold" fill="#111" textLength="21.5" lengthAdjust="spacingAndGlyphs">***</text>
<text x="963.7" y="2022.3" font-size="18.8" text-anchor="end" fill="#111" textLength="95" lengthAdjust="spacingAndGlyphs" transform="rotate(-45 963.7 2022.3)">Paraptosis</text>
<line x1="994.46" y1="1700.03" x2="994.46" y2="1784.13" stroke="#111" stroke-width="2" />
<line x1="994.46" y1="1882.02" x2="994.46" y2="1956.39" stroke="#111" stroke-width="2" />
<rect x="984.16" y="1784.13" width="20.6" height="97.89" fill="#3a54a4" stroke="#111" stroke-width="2" />
<line x1="984.16" y1="1837.94" x2="1004.76" y2="1837.94" stroke="#111" stroke-width="3.2" />
<line x1="1016.06" y1="1692.73" x2="1016.06" y2="1789.54" stroke="#111" stroke-width="2" />
<line x1="1016.06" y1="1890.14" x2="1016.06" y2="1968.56" stroke="#111" stroke-width="2" />
<rect x="1005.76" y="1789.54" width="20.6" height="100.59" fill="#3cb58a" stroke="#111" stroke-width="2" />
<line x1="1005.76" y1="1841.46" x2="1026.36" y2="1841.46" stroke="#111" stroke-width="3.2" />
<line x1="1005.26" y1="2002.8" x2="1005.26" y2="2008.3" stroke="#111" stroke-width="1.6" />
<text x="1015.46" y="2022.3" font-size="18.8" text-anchor="end" fill="#111" textLength="91.7" lengthAdjust="spacingAndGlyphs" transform="rotate(-45 1015.46 2022.3)">Methuosis</text>
<line x1="1046.22" y1="1718.96" x2="1046.22" y2="1794.14" stroke="#111" stroke-width="2" />
<line x1="1046.22" y1="1853.63" x2="1046.22" y2="1924.75" stroke="#111" stroke-width="2" />
<rect x="1035.92" y="1794.14" width="20.6" height="59.49" fill="#3a54a4" stroke="#111" stroke-width="2" />
<line x1="1035.92" y1="1825.78" x2="1056.52" y2="1825.78" stroke="#111" stroke-width="3.2" />
<line x1="1067.82" y1="1737.89" x2="1067.82" y2="1813.88" stroke="#111" stroke-width="2" />
<line x1="1067.82" y1="1872.56" x2="1067.82" y2="1923.94" stroke="#111" stroke-width="2" />
<rect x="1057.52" y="1813.88" width="20.6" height="58.68" fill="#3cb58a" stroke="#111" stroke-width="2" />
<line x1="1057.52" y1="1842.27" x2="1078.12" y2="1842.27" stroke="#111" stroke-width="3.2" />
<line x1="1057.02" y1="2002.8" x2="1057.02" y2="2008.3" stroke="#111" stroke-width="1.6" />
<text x="1057.02" y="1661.8" font-size="15.5" text-anchor="middle" font-weight="bold" fill="#111" textLength="21.5" lengthAdjust="spacingAndGlyphs">***</text>
<text x="1067.22" y="2022.3" font-size="18.8" text-anchor="end" fill="#111" textLength="66" lengthAdjust="spacingAndGlyphs" transform="rotate(-45 1067.22 2022.3)">Entosis</text>
<text x="507.2" y="1612.7" font-size="18.6" fill="#111" textLength="68.2" lengthAdjust="spacingAndGlyphs">Cluster</text>
<line x1="601.8" y1="1594.3" x2="601.8" y2="1617.3" stroke="#111" stroke-width="1.6" />
<rect x="589.3" y="1598.7" width="25" height="15" fill="#3a54a4" stroke="#111" stroke-width="1.6" />
<line x1="589.3" y1="1606.1" x2="614.3" y2="1606.1" stroke="#111" stroke-width="2.4" />
<text x="629.2" y="1611.9" font-size="14.8" fill="#111" textLength="20.1" lengthAdjust="spacingAndGlyphs">C1</text>
<line x1="677.6" y1="1594.3" x2="677.6" y2="1617.3" stroke="#111" stroke-width="1.6" />
<rect x="665.1" y="1598.7" width="25" height="15" fill="#3cb58a" stroke="#111" stroke-width="1.6" />
<line x1="665.1" y1="1606.1" x2="690.1" y2="1606.1" stroke="#111" stroke-width="2.4" />
<text x="705" y="1611.9" font-size="14.8" fill="#111" textLength="22" lengthAdjust="spacingAndGlyphs">C2</text>
<text x="1221.5" y="1601.8" font-size="41" fill="#111" font-family="'Liberation Serif', 'Times New Roman', serif">F</text>
<line x1="1280.1" y1="1635.1" x2="1280.1" y2="2010" stroke="#111" stroke-width="1.8" />
<line x1="1279.2" y1="2009.3" x2="1909.8" y2="2009.3" stroke="#111" stroke-width="1.8" />
<line x1="1274.3" y1="1991.9" x2="1280.1" y2="1991.9" stroke="#111" stroke-width="1.6" />
<text x="1270.8" y="1998.5" font-size="18.2" text-anchor="end" fill="#111" textLength="34" lengthAdjust="spacingAndGlyphs">0.00</text>
<line x1="1274.3" y1="1906.85" x2="1280.1" y2="1906.85" stroke="#111" stroke-width="1.6" />
<text x="1270.8" y="1913.45" font-size="18.2" text-anchor="end" fill="#111" textLength="34" lengthAdjust="spacingAndGlyphs">0.25</text>
<line x1="1274.3" y1="1821.8" x2="1280.1" y2="1821.8" stroke="#111" stroke-width="1.6" />
<text x="1270.8" y="1828.4" font-size="18.2" text-anchor="end" fill="#111" textLength="34" lengthAdjust="spacingAndGlyphs">0.50</text>
<line x1="1274.3" y1="1736.75" x2="1280.1" y2="1736.75" stroke="#111" stroke-width="1.6" />
<text x="1270.8" y="1743.35" font-size="18.2" text-anchor="end" fill="#111" textLength="34" lengthAdjust="spacingAndGlyphs">0.75</text>
<line x1="1274.3" y1="1651.7" x2="1280.1" y2="1651.7" stroke="#111" stroke-width="1.6" />
<text x="1270.8" y="1658.3" font-size="18.2" text-anchor="end" fill="#111" textLength="34" lengthAdjust="spacingAndGlyphs">1.00</text>
<line x1="1308.6" y1="2009.3" x2="1308.6" y2="2015" stroke="#111" stroke-width="1.6" />
<text x="1308.6" y="2032.5" font-size="18.2" text-anchor="middle" fill="#111" textLength="10.2" lengthAdjust="spacingAndGlyphs">0</text>
<line x1="1365.87" y1="2009.3" x2="1365.87" y2="2015" stroke="#111" stroke-width="1.6" />
<text x="1365.87" y="2032.5" font-size="18.2" text-anchor="middle" fill="#111" textLength="10.2" lengthAdjust="spacingAndGlyphs">2</text>
<line x1="1423.14" y1="2009.3" x2="1423.14" y2="2015" stroke="#111" stroke-width="1.6" />
<text x="1423.14" y="2032.5" font-size="18.2" text-anchor="middle" fill="#111" textLength="10.2" lengthAdjust="spacingAndGlyphs">4</text>
<line x1="1480.41" y1="2009.3" x2="1480.41" y2="2015" stroke="#111" stroke-width="1.6" />
<text x="1480.41" y="2032.5" font-size="18.2" text-anchor="middle" fill="#111" textLength="10.2" lengthAdjust="spacingAndGlyphs">6</text>
<line x1="1537.68" y1="2009.3" x2="1537.68" y2="2015" stroke="#111" stroke-width="1.6" />
<text x="1537.68" y="2032.5" font-size="18.2" text-anchor="middle" fill="#111" textLength="10.2" lengthAdjust="spacingAndGlyphs">8</text>
<line x1="1594.95" y1="2009.3" x2="1594.95" y2="2015" stroke="#111" stroke-width="1.6" />
<text x="1594.95" y="2032.5" font-size="18.2" text-anchor="middle" fill="#111" textLength="20.4" lengthAdjust="spacingAndGlyphs">10</text>
<line x1="1652.22" y1="2009.3" x2="1652.22" y2="2015" stroke="#111" stroke-width="1.6" />
<text x="1652.22" y="2032.5" font-size="18.2" text-anchor="middle" fill="#111" textLength="20.4" lengthAdjust="spacingAndGlyphs">12</text>
<line x1="1709.49" y1="2009.3" x2="1709.49" y2="2015" stroke="#111" stroke-width="1.6" />
<text x="1709.49" y="2032.5" font-size="18.2" text-anchor="middle" fill="#111" textLength="20.4" lengthAdjust="spacingAndGlyphs">14</text>
<line x1="1766.76" y1="2009.3" x2="1766.76" y2="2015" stroke="#111" stroke-width="1.6" />
<text x="1766.76" y="2032.5" font-size="18.2" text-anchor="middle" fill="#111" textLength="20.4" lengthAdjust="spacingAndGlyphs">16</text>
<line x1="1824.03" y1="2009.3" x2="1824.03" y2="2015" stroke="#111" stroke-width="1.6" />
<text x="1824.03" y="2032.5" font-size="18.2" text-anchor="middle" fill="#111" textLength="20.4" lengthAdjust="spacingAndGlyphs">18</text>
<line x1="1881.3" y1="2009.3" x2="1881.3" y2="2015" stroke="#111" stroke-width="1.6" />
<text x="1881.3" y="2032.5" font-size="18.2" text-anchor="middle" fill="#111" textLength="20.4" lengthAdjust="spacingAndGlyphs">20</text>
<text x="1538.3" y="2058" font-size="21.3" fill="#111" textLength="113.4" lengthAdjust="spacingAndGlyphs">Time(years)</text>
<text x="1226" y="1821.8" font-size="23.2" text-anchor="middle" fill="#111" textLength="192.7" lengthAdjust="spacingAndGlyphs" transform="rotate(-90 1226 1821.8)">Survival probability</text>
<text x="1320.1" y="1933.2" font-size="25.5" fill="#111" textLength="93.5" lengthAdjust="spacingAndGlyphs">p=0.009</text>
<path d="M1308.6 1822.4H1571.3V1992" fill="none" stroke="#111" stroke-width="1.6" stroke-dasharray="6 7"/>
<path d="M1306.2 1649 L1308.53 1649 L1308.53 1650.4 L1310.87 1650.4 L1310.87 1651.8 L1313.2 1651.8 L1313.2 1653.2 L1315.42 1653.2 L1315.42 1654.38 L1317.63 1654.38 L1317.63 1655.57 L1319.85 1655.57 L1319.85 1656.75 L1322.07 1656.75 L1322.07 1657.93 L1324.28 1657.93 L1324.28 1659.12 L1326.5 1659.12 L1326.5 1660.3 L1329.43 1660.3 L1329.43 1663.23 L1332.37 1663.23 L1332.37 1666.17 L1335.3 1666.17 L1335.3 1669.1 L1337.53 1669.1 L1337.53 1671.1 L1339.75 1671.1 L1339.75 1673.1 L1341.97 1673.1 L1341.97 1675.1 L1344.2 1675.1 L1344.2 1677.1 L1347.13 1677.1 L1347.13 1678.87 L1350.07 1678.87 L1350.07 1680.63 L1353 1680.63 L1353 1682.4 L1355.93 1682.4 L1355.93 1684.17 L1358.87 1684.17 L1358.87 1685.93 L1361.8 1685.93 L1361.8 1687.7 L1364.73 1687.7 L1364.73 1689.77 L1367.67 1689.77 L1367.67 1691.83 L1370.6 1691.83 L1370.6 1693.9 L1372.82 1693.9 L1372.82 1695.88 L1375.05 1695.88 L1375.05 1697.85 L1377.28 1697.85 L1377.28 1699.83 L1379.5 1699.83 L1379.5 1701.8 L1382.43 1701.8 L1382.43 1704.73 L1385.37 1704.73 L1385.37 1707.67 L1388.3 1707.67 L1388.3 1710.6 L1391.23 1710.6 L1391.23 1714.43 L1394.17 1714.43 L1394.17 1718.27 L1397.1 1718.27 L1397.1 1722.1 L1399.32 1722.1 L1399.32 1724.1 L1401.55 1724.1 L1401.55 1726.1 L1403.78 1726.1 L1403.78 1728.1 L1406 1728.1 L1406 1730.1 L1408.93 1730.1 L1408.93 1732.43 L1411.87 1732.43 L1411.87 1734.77 L1414.8 1734.77 L1414.8 1737.1 L1417.73 1737.1 L1417.73 1740.07 L1420.67 1740.07 L1420.67 1743.03 L1423.6 1743.03 L1423.6 1746 L1425.82 1746 L1425.82 1747.1 L1428.05 1747.1 L1428.05 1748.2 L1430.28 1748.2 L1430.28 1749.3 L1432.5 1749.3 L1432.5 1750.4 L1435 1750.4 L1435 1750.6 L1437.5 1750.6 L1437.5 1750.8 L1440 1750.8 L1440 1751 L1442.93 1751 L1442.93 1752.93 L1445.87 1752.93 L1445.87 1754.87 L1448.8 1754.87 L1448.8 1756.8 L1451.1 1756.8 L1451.1 1757.34 L1453.4 1757.34 L1453.4 1757.88 L1455.7 1757.88 L1455.7 1758.42 L1458 1758.42 L1458 1758.96 L1460.3 1758.96 L1460.3 1759.5 L1460.3 1762.6 L1553 1762.6 L1553 1794.8 L1571.6 1794.8 L1571.6 1833.4 L1611.9 1833.4" fill="none" stroke="#3a54a4" stroke-width="3.4" stroke-linejoin="miter"/>
<path d="M1306.2 1649 L1308.53 1649 L1308.53 1650.4 L1310.87 1650.4 L1310.87 1651.8 L1313.2 1651.8 L1313.2 1653.2 L1315.42 1653.2 L1315.42 1654.38 L1317.63 1654.38 L1317.63 1655.57 L1319.85 1655.57 L1319.85 1656.75 L1322.07 1656.75 L1322.07 1657.93 L1324.28 1657.93 L1324.28 1659.12 L1326.5 1659.12 L1326.5 1660.3 L1329.43 1660.3 L1329.43 1663.23 L1332.37 1663.23 L1332.37 1666.17 L1335.3 1666.17 L1335.3 1669.1 L1337.53 1669.1 L1337.53 1671.1 L1339.75 1671.1 L1339.75 1673.1 L1341.97 1673.1 L1341.97 1675.1 L1344.2 1675.1 L1344.2 1677.1 L1347.13 1677.1 L1347.13 1678.87 L1350.07 1678.87 L1350.07 1680.63 L1353 1680.63 L1353 1682.4 L1355.93 1682.4 L1355.93 1684.17 L1358.87 1684.17 L1358.87 1685.93 L1361.8 1685.93 L1361.8 1687.7 L1364.73 1687.7 L1364.73 1689.77 L1367.67 1689.77 L1367.67 1691.83 L1370.6 1691.83 L1370.6 1693.9 L1372.82 1693.9 L1372.82 1695.88 L1375.05 1695.88 L1375.05 1697.85 L1377.28 1697.85 L1377.28 1699.83 L1379.5 1699.83 L1379.5 1701.8 L1382.43 1701.8 L1382.43 1704.73 L1385.37 1704.73 L1385.37 1707.67 L1388.3 1707.67 L1388.3 1710.6 L1391.23 1710.6 L1391.23 1714.43 L1394.17 1714.43 L1394.17 1718.27 L1397.1 1718.27 L1397.1 1722.1 L1399.32 1722.1 L1399.32 1724.1 L1401.55 1724.1 L1401.55 1726.1 L1403.78 1726.1 L1403.78 1728.1 L1406 1728.1 L1406 1730.1 L1408.93 1730.1 L1408.93 1732.43 L1411.87 1732.43 L1411.87 1734.77 L1414.8 1734.77 L1414.8 1737.1 L1417.73 1737.1 L1417.73 1740.07 L1420.67 1740.07 L1420.67 1743.03 L1423.6 1743.03 L1423.6 1746 L1425.82 1746 L1425.82 1747.1 L1428.05 1747.1 L1428.05 1748.2 L1430.28 1748.2 L1430.28 1749.3 L1432.5 1749.3 L1432.5 1750.4 L1435 1750.4 L1435 1750.6 L1437.5 1750.6 L1437.5 1750.8 L1440 1750.8 L1440 1751" fill="none" stroke="#3a54a4" stroke-width="5" stroke-linejoin="round"/>
<path d="M1428 1741.1v10M1436 1744.6v10M1441.3 1745v10M1445.7 1746.93v10M1450.1 1750.8v10M1455.4 1751.88v10M1440 1745v10M1443 1746.93v10M1447 1748.87v10M1455.9 1752.42v10M1461.2 1756.6v10M1463.8 1756.6v10M1466.5 1756.6v10M1469.1 1756.6v10M1478 1756.6v10M1482.4 1756.6v10M1484.2 1756.6v10M1489.4 1756.6v10M1493 1756.6v10M1497.4 1756.6v10M1501.8 1756.6v10M1507.1 1756.6v10M1509.8 1756.6v10M1512.4 1756.6v10M1515.9 1756.6v10M1519.5 1756.6v10M1522.1 1756.6v10M1527.4 1756.6v10M1531 1756.6v10M1533.6 1756.6v10M1537.1 1756.6v10M1540.7 1756.6v10M1560.1 1788.8v10M1590.6 1827.4v10M1608 1827.4v10M1611.9 1827.4v10M1308 1643.5v9M1310.4 1644.9v9M1312.8 1646.3v9M1315.2 1647.7v9M1317.6 1648.88v9M1320 1651.25v9M1322.4 1652.43v9M1324.8 1653.62v9M1327.2 1654.8v9M1329.6 1657.73v9M1332 1657.73v9M1334.4 1660.67v9M1336.8 1663.6v9M1339.2 1665.6v9M1341.6 1667.6v9M1344 1669.6v9M1346.4 1671.6v9M1348.8 1673.37v9M1351.2 1675.13v9M1353.6 1676.9v9M1356 1678.67v9M1358.4 1678.67v9M1360.8 1680.43v9M1363.2 1682.2v9M1365.6 1684.27v9M1368 1686.33v9M1370.4 1686.33v9M1372.8 1688.4v9M1375.2 1692.35v9M1377.6 1694.33v9M1380 1696.3v9M1382.4 1696.3v9M1384.8 1699.23v9M1387.2 1702.17v9M1389.6 1705.1v9M1392 1708.93v9M1394.4 1712.77v9M1396.8 1712.77v9M1399.2 1716.6v9M1401.6 1720.6v9M1404 1722.6v9M1406.4 1724.6v9M1408.8 1724.6v9M1411.2 1726.93v9M1413.6 1729.27v9M1416 1731.6v9M1418.4 1734.57v9M1420.8 1737.53v9M1423.2 1737.53v9M1425.6 1740.5v9M1428 1741.6v9M1430.4 1743.8v9M1432.8 1744.9v9M1435.2 1745.1v9M1437.6 1745.3v9" fill="none" stroke="#3a54a4" stroke-width="1.7" />
<path d="M1306.2 1648.8 L1309 1648.8 L1309 1650.6 L1311.62 1650.6 L1311.62 1652.02 L1314.24 1652.02 L1314.24 1653.44 L1316.86 1653.44 L1316.86 1654.86 L1319.48 1654.86 L1319.48 1656.28 L1322.1 1656.28 L1322.1 1657.7 L1324.3 1657.7 L1324.3 1658.28 L1326.5 1658.28 L1326.5 1658.87 L1328.7 1658.87 L1328.7 1659.45 L1330.9 1659.45 L1330.9 1660.03 L1333.1 1660.03 L1333.1 1660.62 L1335.3 1660.62 L1335.3 1661.2 L1337.52 1661.2 L1337.52 1661.63 L1339.73 1661.63 L1339.73 1662.07 L1341.95 1662.07 L1341.95 1662.5 L1344.17 1662.5 L1344.17 1662.93 L1346.38 1662.93 L1346.38 1663.37 L1348.6 1663.37 L1348.6 1663.8 L1350.8 1663.8 L1350.8 1665.12 L1353 1665.12 L1353 1666.45 L1355.2 1666.45 L1355.2 1667.77 L1357.4 1667.77 L1357.4 1669.1 L1360.33 1669.1 L1360.33 1671.17 L1363.27 1671.17 L1363.27 1673.23 L1366.2 1673.23 L1366.2 1675.3 L1368.42 1675.3 L1368.42 1676.62 L1370.65 1676.62 L1370.65 1677.95 L1372.88 1677.95 L1372.88 1679.27 L1375.1 1679.27 L1375.1 1680.6 L1377.3 1680.6 L1377.3 1682.38 L1379.5 1682.38 L1379.5 1684.15 L1381.7 1684.15 L1381.7 1685.92 L1383.9 1685.92 L1383.9 1687.7 L1388.3 1687.7 L1388.3 1693 L1391.23 1693 L1391.23 1694.77 L1394.17 1694.77 L1394.17 1696.53 L1397.1 1696.53 L1397.1 1698.3 L1399.31 1698.3 L1399.31 1698.62 L1401.52 1698.62 L1401.52 1698.95 L1403.74 1698.95 L1403.74 1699.28 L1405.95 1699.28 L1405.95 1699.6 L1408.16 1699.6 L1408.16 1699.92 L1410.38 1699.92 L1410.38 1700.25 L1412.59 1700.25 L1412.59 1700.58 L1414.8 1700.58 L1414.8 1700.9 L1417 1700.9 L1417 1701.35 L1419.2 1701.35 L1419.2 1701.8 L1421.4 1701.8 L1421.4 1702.25 L1423.6 1702.25 L1423.6 1702.7 L1425.8 1702.7 L1425.8 1703.15 L1428 1703.15 L1428 1703.6 L1430.4 1703.6 L1430.4 1704.54 L1432.8 1704.54 L1432.8 1705.48 L1435.2 1705.48 L1435.2 1706.42 L1437.6 1706.42 L1437.6 1707.36 L1440 1707.36 L1440 1708.3 L1453.2 1708.3 L1453.2 1712.7 L1484.1 1712.7 L1485 1712.7 L1485 1718.9 L1493 1718.9 L1493 1725.9 L1563.6 1725.9 L1563.6 1750.6 L1576.9 1750.6 L1576.9 1777.6 L1851.7 1777.6" fill="none" stroke="#3cb58a" stroke-width="3.4" stroke-linejoin="miter"/>
<path d="M1306.2 1648.8 L1309 1648.8 L1309 1650.6 L1311.62 1650.6 L1311.62 1652.02 L1314.24 1652.02 L1314.24 1653.44 L1316.86 1653.44 L1316.86 1654.86 L1319.48 1654.86 L1319.48 1656.28 L1322.1 1656.28 L1322.1 1657.7 L1324.3 1657.7 L1324.3 1658.28 L1326.5 1658.28 L1326.5 1658.87 L1328.7 1658.87 L1328.7 1659.45 L1330.9 1659.45 L1330.9 1660.03 L1333.1 1660.03 L1333.1 1660.62 L1335.3 1660.62 L1335.3 1661.2 L1337.52 1661.2 L1337.52 1661.63 L1339.73 1661.63 L1339.73 1662.07 L1341.95 1662.07 L1341.95 1662.5 L1344.17 1662.5 L1344.17 1662.93 L1346.38 1662.93 L1346.38 1663.37 L1348.6 1663.37 L1348.6 1663.8 L1350.8 1663.8 L1350.8 1665.12 L1353 1665.12 L1353 1666.45 L1355.2 1666.45 L1355.2 1667.77 L1357.4 1667.77 L1357.4 1669.1 L1360.33 1669.1 L1360.33 1671.17 L1363.27 1671.17 L1363.27 1673.23 L1366.2 1673.23 L1366.2 1675.3 L1368.42 1675.3 L1368.42 1676.62 L1370.65 1676.62 L1370.65 1677.95 L1372.88 1677.95 L1372.88 1679.27 L1375.1 1679.27 L1375.1 1680.6 L1377.3 1680.6 L1377.3 1682.38 L1379.5 1682.38 L1379.5 1684.15 L1381.7 1684.15 L1381.7 1685.92 L1383.9 1685.92 L1383.9 1687.7 L1388.3 1687.7 L1388.3 1693 L1391.23 1693 L1391.23 1694.77 L1394.17 1694.77 L1394.17 1696.53 L1397.1 1696.53 L1397.1 1698.3 L1399.31 1698.3 L1399.31 1698.62" fill="none" stroke="#3cb58a" stroke-width="5" stroke-linejoin="round"/>
<path d="M1400.7 1692.62v10M1404.2 1693.28v10M1410.4 1694.25v10M1418.3 1695.35v10M1423.6 1696.7v10M1428.9 1697.6v10M1435.1 1699.48v10M1439.5 1701.36v10M1443 1702.3v10M1450.1 1702.3v10M1455.4 1706.7v10M1441.8 1702.3v10M1445.3 1702.3v10M1448.8 1702.3v10M1453.2 1706.7v10M1460.3 1706.7v10M1463.8 1706.7v10M1466.5 1706.7v10M1469.1 1706.7v10M1472.7 1706.7v10M1478 1706.7v10M1480.6 1706.7v10M1483.3 1706.7v10M1485.9 1712.9v10M1489.4 1712.9v10M1493 1719.9v10M1495.6 1719.9v10M1498.3 1719.9v10M1501.8 1719.9v10M1505.3 1719.9v10M1513.3 1719.9v10M1516.8 1719.9v10M1519.5 1719.9v10M1523 1719.9v10M1531.8 1719.9v10M1537.1 1719.9v10M1539.8 1719.9v10M1542.4 1719.9v10M1549.5 1719.9v10M1568.9 1744.6v10M1582.2 1771.6v10M1603.5 1771.6v10M1618.5 1771.6v10M1634.4 1771.6v10M1665.7 1771.6v10M1752.2 1771.6v10M1847.2 1771.6v10M1308 1643.3v9M1310.4 1645.1v9M1312.8 1646.52v9M1315.2 1647.94v9M1317.6 1649.36v9M1320 1650.78v9M1322.4 1652.2v9M1324.8 1652.78v9M1327.2 1653.37v9M1329.6 1653.95v9M1332 1654.53v9M1334.4 1655.12v9M1336.8 1655.7v9M1339.2 1656.13v9M1341.6 1656.57v9M1344 1657v9M1346.4 1657.87v9M1348.8 1658.3v9M1351.2 1659.62v9M1353.6 1660.95v9M1356 1662.27v9M1358.4 1663.6v9M1360.8 1665.67v9M1363.2 1665.67v9M1365.6 1667.73v9M1368 1669.8v9M1370.4 1671.12v9M1372.8 1672.45v9M1375.2 1675.1v9M1377.6 1676.88v9M1380 1678.65v9M1382.4 1680.42v9M1384.8 1682.2v9M1387.2 1682.2v9M1389.6 1687.5v9M1392 1689.27v9M1394.4 1691.03v9M1396.8 1691.03v9M1399.2 1692.8v9" fill="none" stroke="#3cb58a" stroke-width="1.7" />
<text x="1734.2" y="1682" font-size="15.6" fill="#111" textLength="40.6" lengthAdjust="spacingAndGlyphs">Group</text>
<line x1="1736" y1="1708" x2="1756.8" y2="1708" stroke="#3a54a4" stroke-width="4.2" />
<line x1="1746.6" y1="1701.7" x2="1746.6" y2="1711.7" stroke="#3a54a4" stroke-width="1.6" />
<text x="1770.4" y="1714.3" font-size="16.8" fill="#111" textLength="58.3" lengthAdjust="spacingAndGlyphs">PCD low</text>
<line x1="1736" y1="1736.8" x2="1756.8" y2="1736.8" stroke="#3cb58a" stroke-width="4.2" />
<line x1="1746.6" y1="1730.5" x2="1746.6" y2="1740.5" stroke="#3cb58a" stroke-width="1.6" />
<text x="1770.4" y="1743.1" font-size="16.8" fill="#111" textLength="64.1" lengthAdjust="spacingAndGlyphs">PCD high</text>
<text x="1323.6" y="2102.3" font-size="23.6" fill="#111" textLength="158.1" lengthAdjust="spacingAndGlyphs">Number at risk</text>
<line x1="1322.2" y1="2118.6" x2="1322.2" y2="2159.6" stroke="#111" stroke-width="1.8" />
<line x1="1321.3" y1="2158.9" x2="1909.8" y2="2158.9" stroke="#111" stroke-width="1.8" />
<line x1="1318.2" y1="2129.5" x2="1322.2" y2="2129.5" stroke="#111" stroke-width="1.6" />
<line x1="1318.2" y1="2147.4" x2="1322.2" y2="2147.4" stroke="#111" stroke-width="1.6" />
<text x="1313.6" y="2133.9" font-size="17.9" text-anchor="end" fill="#3a54a4" textLength="69.5" lengthAdjust="spacingAndGlyphs">PCD low</text>
<text x="1313.6" y="2151.8" font-size="17.9" text-anchor="end" fill="#3cb58a" textLength="76.8" lengthAdjust="spacingAndGlyphs">PCD high</text>
<line x1="1349.5" y1="2158.9" x2="1349.5" y2="2163.3" stroke="#111" stroke-width="1.6" />
<text x="1349.5" y="2136.2" font-size="18.8" text-anchor="middle" fill="#111" textLength="30.9" lengthAdjust="spacingAndGlyphs">231</text>
<text x="1349.5" y="2154.6" font-size="18.8" text-anchor="middle" fill="#111" textLength="30.9" lengthAdjust="spacingAndGlyphs">291</text>
<text x="1349.5" y="2182" font-size="17.8" text-anchor="middle" fill="#111" textLength="10" lengthAdjust="spacingAndGlyphs">0</text>
<line x1="1402.91" y1="2158.9" x2="1402.91" y2="2163.3" stroke="#111" stroke-width="1.6" />
<text x="1402.91" y="2136.2" font-size="18.8" text-anchor="middle" fill="#111" textLength="30.9" lengthAdjust="spacingAndGlyphs">145</text>
<text x="1402.91" y="2154.6" font-size="18.8" text-anchor="middle" fill="#111" textLength="30.9" lengthAdjust="spacingAndGlyphs">172</text>
<text x="1402.91" y="2182" font-size="17.8" text-anchor="middle" fill="#111" textLength="10" lengthAdjust="spacingAndGlyphs">2</text>
<line x1="1456.32" y1="2158.9" x2="1456.32" y2="2163.3" stroke="#111" stroke-width="1.6" />
<text x="1456.32" y="2136.2" font-size="18.8" text-anchor="middle" fill="#111" textLength="20.6" lengthAdjust="spacingAndGlyphs">62</text>
<text x="1456.32" y="2154.6" font-size="18.8" text-anchor="middle" fill="#111" textLength="20.6" lengthAdjust="spacingAndGlyphs">92</text>
<text x="1456.32" y="2182" font-size="17.8" text-anchor="middle" fill="#111" textLength="10" lengthAdjust="spacingAndGlyphs">4</text>
<line x1="1509.73" y1="2158.9" x2="1509.73" y2="2163.3" stroke="#111" stroke-width="1.6" />
<text x="1509.73" y="2136.2" font-size="18.8" text-anchor="middle" fill="#111" textLength="20.6" lengthAdjust="spacingAndGlyphs">30</text>
<text x="1509.73" y="2154.6" font-size="18.8" text-anchor="middle" fill="#111" textLength="20.6" lengthAdjust="spacingAndGlyphs">42</text>
<text x="1509.73" y="2182" font-size="17.8" text-anchor="middle" fill="#111" textLength="10" lengthAdjust="spacingAndGlyphs">6</text>
<line x1="1563.14" y1="2158.9" x2="1563.14" y2="2163.3" stroke="#111" stroke-width="1.6" />
<text x="1563.14" y="2136.2" font-size="18.8" text-anchor="middle" fill="#111" textLength="20.6" lengthAdjust="spacingAndGlyphs">10</text>
<text x="1563.14" y="2154.6" font-size="18.8" text-anchor="middle" fill="#111" textLength="20.6" lengthAdjust="spacingAndGlyphs">14</text>
<text x="1563.14" y="2182" font-size="17.8" text-anchor="middle" fill="#111" textLength="10" lengthAdjust="spacingAndGlyphs">8</text>
<line x1="1616.55" y1="2158.9" x2="1616.55" y2="2163.3" stroke="#111" stroke-width="1.6" />
<text x="1616.55" y="2136.2" font-size="18.8" text-anchor="middle" fill="#111" textLength="10.3" lengthAdjust="spacingAndGlyphs">1</text>
<text x="1616.55" y="2154.6" font-size="18.8" text-anchor="middle" fill="#111" textLength="10.3" lengthAdjust="spacingAndGlyphs">6</text>
<text x="1616.55" y="2182" font-size="17.8" text-anchor="middle" fill="#111" textLength="20" lengthAdjust="spacingAndGlyphs">10</text>
<line x1="1669.96" y1="2158.9" x2="1669.96" y2="2163.3" stroke="#111" stroke-width="1.6" />
<text x="1669.96" y="2136.2" font-size="18.8" text-anchor="middle" fill="#111" textLength="10.3" lengthAdjust="spacingAndGlyphs">0</text>
<text x="1669.96" y="2154.6" font-size="18.8" text-anchor="middle" fill="#111" textLength="10.3" lengthAdjust="spacingAndGlyphs">3</text>
<text x="1669.96" y="2182" font-size="17.8" text-anchor="middle" fill="#111" textLength="20" lengthAdjust="spacingAndGlyphs">12</text>
<line x1="1723.37" y1="2158.9" x2="1723.37" y2="2163.3" stroke="#111" stroke-width="1.6" />
<text x="1723.37" y="2136.2" font-size="18.8" text-anchor="middle" fill="#111" textLength="10.3" lengthAdjust="spacingAndGlyphs">0</text>
<text x="1723.37" y="2154.6" font-size="18.8" text-anchor="middle" fill="#111" textLength="10.3" lengthAdjust="spacingAndGlyphs">2</text>
<text x="1723.37" y="2182" font-size="17.8" text-anchor="middle" fill="#111" textLength="20" lengthAdjust="spacingAndGlyphs">14</text>
<line x1="1776.78" y1="2158.9" x2="1776.78" y2="2163.3" stroke="#111" stroke-width="1.6" />
<text x="1776.78" y="2136.2" font-size="18.8" text-anchor="middle" fill="#111" textLength="10.3" lengthAdjust="spacingAndGlyphs">0</text>
<text x="1776.78" y="2154.6" font-size="18.8" text-anchor="middle" fill="#111" textLength="10.3" lengthAdjust="spacingAndGlyphs">1</text>
<text x="1776.78" y="2182" font-size="17.8" text-anchor="middle" fill="#111" textLength="20" lengthAdjust="spacingAndGlyphs">16</text>
<line x1="1830.19" y1="2158.9" x2="1830.19" y2="2163.3" stroke="#111" stroke-width="1.6" />
<text x="1830.19" y="2136.2" font-size="18.8" text-anchor="middle" fill="#111" textLength="10.3" lengthAdjust="spacingAndGlyphs">0</text>
<text x="1830.19" y="2154.6" font-size="18.8" text-anchor="middle" fill="#111" textLength="10.3" lengthAdjust="spacingAndGlyphs">1</text>
<text x="1830.19" y="2182" font-size="17.8" text-anchor="middle" fill="#111" textLength="20" lengthAdjust="spacingAndGlyphs">18</text>
<line x1="1883.6" y1="2158.9" x2="1883.6" y2="2163.3" stroke="#111" stroke-width="1.6" />
<text x="1883.6" y="2136.2" font-size="18.8" text-anchor="middle" fill="#111" textLength="10.3" lengthAdjust="spacingAndGlyphs">0</text>
<text x="1883.6" y="2154.6" font-size="18.8" text-anchor="middle" fill="#111" textLength="10.3" lengthAdjust="spacingAndGlyphs">0</text>
<text x="1883.6" y="2182" font-size="17.8" text-anchor="middle" fill="#111" textLength="20" lengthAdjust="spacingAndGlyphs">20</text>
<text x="1559.8" y="2207.5" font-size="21.3" fill="#111" textLength="112.9" lengthAdjust="spacingAndGlyphs">Time(years)</text>
<text x="1225.6" y="2138.7" font-size="22.3" text-anchor="middle" fill="#111" textLength="62" lengthAdjust="spacingAndGlyphs" transform="rotate(-90 1225.6 2138.7)">Group</text>
</svg></body></html>
